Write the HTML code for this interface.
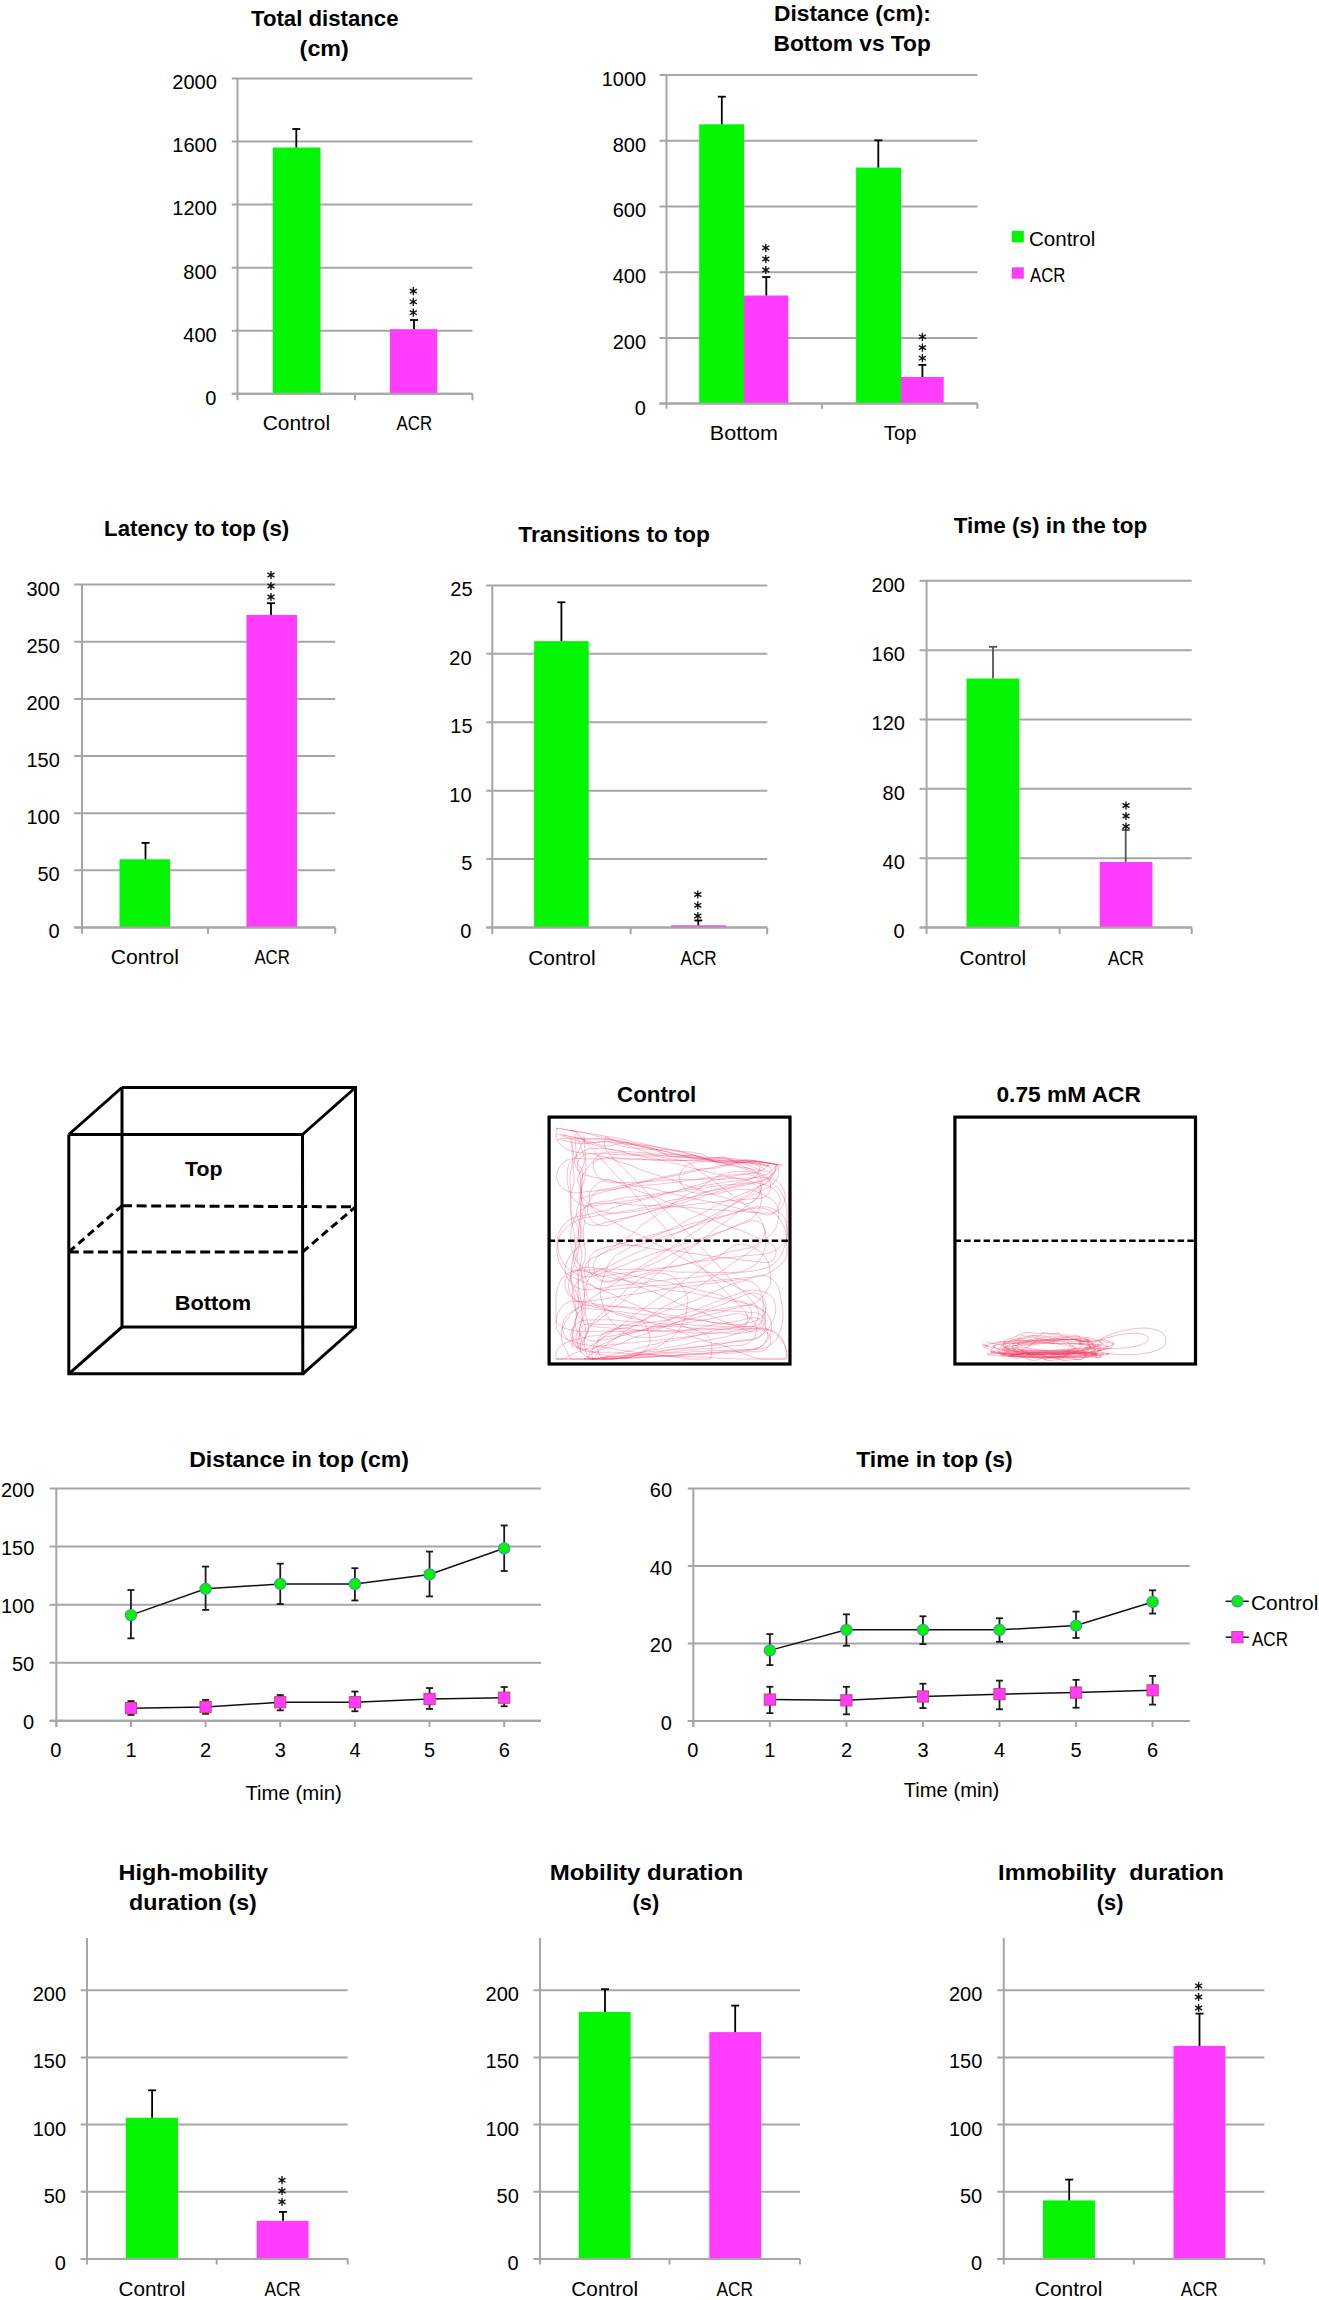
<!DOCTYPE html>
<html><head><meta charset="utf-8"><style>
html,body{margin:0;padding:0;background:#fff;}
svg{display:block;}
text{font-family:"Liberation Sans",sans-serif;white-space:pre;}
</style></head><body>
<svg width="1319" height="2300" viewBox="0 0 1319 2300" xml:space="preserve">
<rect width="1319" height="2300" fill="#fff"/>
<line x1="231.80" y1="393.80" x2="472.40" y2="393.80" stroke="#A6A6A6" stroke-width="2.0" />
<line x1="231.80" y1="330.72" x2="472.40" y2="330.72" stroke="#A6A6A6" stroke-width="2.0" />
<line x1="231.80" y1="267.64" x2="472.40" y2="267.64" stroke="#A6A6A6" stroke-width="2.0" />
<line x1="231.80" y1="204.56" x2="472.40" y2="204.56" stroke="#A6A6A6" stroke-width="2.0" />
<line x1="231.80" y1="141.48" x2="472.40" y2="141.48" stroke="#A6A6A6" stroke-width="2.0" />
<line x1="231.80" y1="78.40" x2="472.40" y2="78.40" stroke="#A6A6A6" stroke-width="2.0" />
<rect x="272.80" y="147.50" width="47.70" height="246.30" fill="#04F504"/>
<rect x="390.00" y="329.20" width="47.30" height="64.60" fill="#FF3CFF"/>
<line x1="237.50" y1="78.40" x2="237.50" y2="400.30" stroke="#A6A6A6" stroke-width="2.0" />
<line x1="231.80" y1="393.80" x2="472.40" y2="393.80" stroke="#A6A6A6" stroke-width="2.0" />
<line x1="355.00" y1="393.80" x2="355.00" y2="400.30" stroke="#A6A6A6" stroke-width="2.0" />
<line x1="472.40" y1="393.80" x2="472.40" y2="400.30" stroke="#A6A6A6" stroke-width="2.0" />
<line x1="296.30" y1="129.00" x2="296.30" y2="147.50" stroke="#000" stroke-width="1.8" />
<line x1="292.30" y1="129.00" x2="300.30" y2="129.00" stroke="#000" stroke-width="1.8" />
<line x1="414.00" y1="320.00" x2="414.00" y2="329.20" stroke="#000" stroke-width="1.8" />
<line x1="410.00" y1="320.00" x2="418.00" y2="320.00" stroke="#000" stroke-width="1.8" />
<path d="M413.30,287.00L413.30,295.20M409.75,289.05L416.85,293.15M416.85,289.05L409.75,293.15" stroke="#111" stroke-width="1.35" fill="none"/>
<circle cx="413.30" cy="291.10" r="1.3" fill="#111"/>
<path d="M413.30,297.70L413.30,305.90M409.75,299.75L416.85,303.85M416.85,299.75L409.75,303.85" stroke="#111" stroke-width="1.35" fill="none"/>
<circle cx="413.30" cy="301.80" r="1.3" fill="#111"/>
<path d="M413.30,308.60L413.30,316.80M409.75,310.65L416.85,314.75M416.85,310.65L409.75,314.75" stroke="#111" stroke-width="1.35" fill="none"/>
<circle cx="413.30" cy="312.70" r="1.3" fill="#111"/>
<line x1="659.50" y1="403.60" x2="977.40" y2="403.60" stroke="#A6A6A6" stroke-width="2.0" />
<line x1="659.50" y1="337.88" x2="977.40" y2="337.88" stroke="#A6A6A6" stroke-width="2.0" />
<line x1="659.50" y1="272.16" x2="977.40" y2="272.16" stroke="#A6A6A6" stroke-width="2.0" />
<line x1="659.50" y1="206.44" x2="977.40" y2="206.44" stroke="#A6A6A6" stroke-width="2.0" />
<line x1="659.50" y1="140.72" x2="977.40" y2="140.72" stroke="#A6A6A6" stroke-width="2.0" />
<line x1="659.50" y1="75.00" x2="977.40" y2="75.00" stroke="#A6A6A6" stroke-width="2.0" />
<rect x="699.20" y="124.30" width="44.80" height="279.30" fill="#04F504"/>
<rect x="744.00" y="295.50" width="44.30" height="108.10" fill="#FF3CFF"/>
<rect x="856.10" y="167.60" width="44.90" height="236.00" fill="#04F504"/>
<rect x="901.00" y="377.00" width="42.70" height="26.60" fill="#FF3CFF"/>
<line x1="666.50" y1="75.00" x2="666.50" y2="408.80" stroke="#A6A6A6" stroke-width="2.0" />
<line x1="659.50" y1="403.60" x2="977.40" y2="403.60" stroke="#A6A6A6" stroke-width="2.0" />
<line x1="822.00" y1="403.60" x2="822.00" y2="408.80" stroke="#A6A6A6" stroke-width="2.0" />
<line x1="977.40" y1="403.60" x2="977.40" y2="408.80" stroke="#A6A6A6" stroke-width="2.0" />
<line x1="721.80" y1="96.70" x2="721.80" y2="124.30" stroke="#000" stroke-width="1.8" />
<line x1="717.80" y1="96.70" x2="725.80" y2="96.70" stroke="#000" stroke-width="1.8" />
<line x1="766.30" y1="277.00" x2="766.30" y2="295.50" stroke="#000" stroke-width="1.8" />
<line x1="762.30" y1="277.00" x2="770.30" y2="277.00" stroke="#000" stroke-width="1.8" />
<path d="M765.80,243.70L765.80,251.90M762.25,245.75L769.35,249.85M769.35,245.75L762.25,249.85" stroke="#111" stroke-width="1.35" fill="none"/>
<circle cx="765.80" cy="247.80" r="1.3" fill="#111"/>
<path d="M765.80,254.90L765.80,263.10M762.25,256.95L769.35,261.05M769.35,256.95L762.25,261.05" stroke="#111" stroke-width="1.35" fill="none"/>
<circle cx="765.80" cy="259.00" r="1.3" fill="#111"/>
<path d="M765.80,265.90L765.80,274.10M762.25,267.95L769.35,272.05M769.35,267.95L762.25,272.05" stroke="#111" stroke-width="1.35" fill="none"/>
<circle cx="765.80" cy="270.00" r="1.3" fill="#111"/>
<line x1="878.30" y1="140.30" x2="878.30" y2="167.60" stroke="#000" stroke-width="1.8" />
<line x1="874.30" y1="140.30" x2="882.30" y2="140.30" stroke="#000" stroke-width="1.8" />
<line x1="922.40" y1="364.90" x2="922.40" y2="377.00" stroke="#000" stroke-width="1.8" />
<line x1="918.40" y1="364.90" x2="926.40" y2="364.90" stroke="#000" stroke-width="1.8" />
<path d="M922.40,332.70L922.40,340.90M918.85,334.75L925.95,338.85M925.95,334.75L918.85,338.85" stroke="#111" stroke-width="1.35" fill="none"/>
<circle cx="922.40" cy="336.80" r="1.3" fill="#111"/>
<path d="M922.40,343.50L922.40,351.70M918.85,345.55L925.95,349.65M925.95,345.55L918.85,349.65" stroke="#111" stroke-width="1.35" fill="none"/>
<circle cx="922.40" cy="347.60" r="1.3" fill="#111"/>
<path d="M922.40,354.10L922.40,362.30M918.85,356.15L925.95,360.25M925.95,356.15L918.85,360.25" stroke="#111" stroke-width="1.35" fill="none"/>
<circle cx="922.40" cy="358.20" r="1.3" fill="#111"/>
<rect x="1011.80" y="230.90" width="12.00" height="11.40" fill="#04F504"/>
<rect x="1011.80" y="267.30" width="12.00" height="11.40" fill="#FF3CFF"/>
<line x1="74.20" y1="927.50" x2="335.20" y2="927.50" stroke="#A6A6A6" stroke-width="2.0" />
<line x1="74.20" y1="870.35" x2="335.20" y2="870.35" stroke="#A6A6A6" stroke-width="2.0" />
<line x1="74.20" y1="813.20" x2="335.20" y2="813.20" stroke="#A6A6A6" stroke-width="2.0" />
<line x1="74.20" y1="756.05" x2="335.20" y2="756.05" stroke="#A6A6A6" stroke-width="2.0" />
<line x1="74.20" y1="698.90" x2="335.20" y2="698.90" stroke="#A6A6A6" stroke-width="2.0" />
<line x1="74.20" y1="641.75" x2="335.20" y2="641.75" stroke="#A6A6A6" stroke-width="2.0" />
<line x1="74.20" y1="584.60" x2="335.20" y2="584.60" stroke="#A6A6A6" stroke-width="2.0" />
<rect x="119.50" y="859.30" width="50.50" height="68.20" fill="#04F504"/>
<rect x="246.50" y="614.90" width="50.50" height="312.60" fill="#FF3CFF"/>
<line x1="82.00" y1="584.60" x2="82.00" y2="933.80" stroke="#A6A6A6" stroke-width="2.0" />
<line x1="74.20" y1="927.50" x2="335.20" y2="927.50" stroke="#A6A6A6" stroke-width="2.0" />
<line x1="208.00" y1="927.50" x2="208.00" y2="933.80" stroke="#A6A6A6" stroke-width="2.0" />
<line x1="335.20" y1="927.50" x2="335.20" y2="933.80" stroke="#A6A6A6" stroke-width="2.0" />
<line x1="145.50" y1="842.90" x2="145.50" y2="859.30" stroke="#000" stroke-width="1.8" />
<line x1="141.50" y1="842.90" x2="149.50" y2="842.90" stroke="#000" stroke-width="1.8" />
<line x1="271.00" y1="603.20" x2="271.00" y2="614.90" stroke="#000" stroke-width="1.8" />
<line x1="267.00" y1="603.20" x2="275.00" y2="603.20" stroke="#000" stroke-width="1.8" />
<path d="M271.00,570.90L271.00,579.10M267.45,572.95L274.55,577.05M274.55,572.95L267.45,577.05" stroke="#111" stroke-width="1.35" fill="none"/>
<circle cx="271.00" cy="575.00" r="1.3" fill="#111"/>
<path d="M271.00,581.90L271.00,590.10M267.45,583.95L274.55,588.05M274.55,583.95L267.45,588.05" stroke="#111" stroke-width="1.35" fill="none"/>
<circle cx="271.00" cy="586.00" r="1.3" fill="#111"/>
<path d="M271.00,592.90L271.00,601.10M267.45,594.95L274.55,599.05M274.55,594.95L267.45,599.05" stroke="#111" stroke-width="1.35" fill="none"/>
<circle cx="271.00" cy="597.00" r="1.3" fill="#111"/>
<line x1="486.30" y1="927.50" x2="767.20" y2="927.50" stroke="#A6A6A6" stroke-width="2.0" />
<line x1="486.30" y1="859.08" x2="767.20" y2="859.08" stroke="#A6A6A6" stroke-width="2.0" />
<line x1="486.30" y1="790.66" x2="767.20" y2="790.66" stroke="#A6A6A6" stroke-width="2.0" />
<line x1="486.30" y1="722.24" x2="767.20" y2="722.24" stroke="#A6A6A6" stroke-width="2.0" />
<line x1="486.30" y1="653.82" x2="767.20" y2="653.82" stroke="#A6A6A6" stroke-width="2.0" />
<line x1="486.30" y1="585.40" x2="767.20" y2="585.40" stroke="#A6A6A6" stroke-width="2.0" />
<rect x="534.10" y="641.10" width="54.60" height="286.40" fill="#04F504"/>
<rect x="671.10" y="925.30" width="55.10" height="2.20" fill="#FF3CFF"/>
<line x1="492.30" y1="585.40" x2="492.30" y2="934.30" stroke="#A6A6A6" stroke-width="2.0" />
<line x1="486.30" y1="927.50" x2="767.20" y2="927.50" stroke="#A6A6A6" stroke-width="2.0" />
<line x1="630.70" y1="927.50" x2="630.70" y2="934.30" stroke="#A6A6A6" stroke-width="2.0" />
<line x1="767.20" y1="927.50" x2="767.20" y2="934.30" stroke="#A6A6A6" stroke-width="2.0" />
<line x1="561.40" y1="602.30" x2="561.40" y2="641.10" stroke="#000" stroke-width="1.8" />
<line x1="557.40" y1="602.30" x2="565.40" y2="602.30" stroke="#000" stroke-width="1.8" />
<line x1="698.30" y1="920.50" x2="698.30" y2="925.30" stroke="#000" stroke-width="1.8" />
<line x1="694.30" y1="920.50" x2="702.30" y2="920.50" stroke="#000" stroke-width="1.8" />
<path d="M697.80,890.40L697.80,898.60M694.25,892.45L701.35,896.55M701.35,892.45L694.25,896.55" stroke="#111" stroke-width="1.35" fill="none"/>
<circle cx="697.80" cy="894.50" r="1.3" fill="#111"/>
<path d="M697.80,901.20L697.80,909.40M694.25,903.25L701.35,907.35M701.35,903.25L694.25,907.35" stroke="#111" stroke-width="1.35" fill="none"/>
<circle cx="697.80" cy="905.30" r="1.3" fill="#111"/>
<path d="M697.80,911.90L697.80,920.10M694.25,913.95L701.35,918.05M701.35,913.95L694.25,918.05" stroke="#111" stroke-width="1.35" fill="none"/>
<circle cx="697.80" cy="916.00" r="1.3" fill="#111"/>
<line x1="919.60" y1="927.50" x2="1191.70" y2="927.50" stroke="#A6A6A6" stroke-width="2.0" />
<line x1="919.60" y1="858.16" x2="1191.70" y2="858.16" stroke="#A6A6A6" stroke-width="2.0" />
<line x1="919.60" y1="788.82" x2="1191.70" y2="788.82" stroke="#A6A6A6" stroke-width="2.0" />
<line x1="919.60" y1="719.48" x2="1191.70" y2="719.48" stroke="#A6A6A6" stroke-width="2.0" />
<line x1="919.60" y1="650.14" x2="1191.70" y2="650.14" stroke="#A6A6A6" stroke-width="2.0" />
<line x1="919.60" y1="580.80" x2="1191.70" y2="580.80" stroke="#A6A6A6" stroke-width="2.0" />
<rect x="966.50" y="678.50" width="52.70" height="249.00" fill="#04F504"/>
<rect x="1099.70" y="862.00" width="52.70" height="65.50" fill="#FF3CFF"/>
<line x1="926.60" y1="580.80" x2="926.60" y2="934.00" stroke="#A6A6A6" stroke-width="2.0" />
<line x1="919.60" y1="927.50" x2="1191.70" y2="927.50" stroke="#A6A6A6" stroke-width="2.0" />
<line x1="1059.60" y1="927.50" x2="1059.60" y2="934.00" stroke="#A6A6A6" stroke-width="2.0" />
<line x1="1191.70" y1="927.50" x2="1191.70" y2="934.00" stroke="#A6A6A6" stroke-width="2.0" />
<line x1="993.00" y1="646.80" x2="993.00" y2="678.50" stroke="#555" stroke-width="1.8" />
<line x1="989.00" y1="646.80" x2="997.00" y2="646.80" stroke="#555" stroke-width="1.8" />
<line x1="1125.70" y1="830.00" x2="1125.70" y2="862.00" stroke="#555" stroke-width="1.8" />
<line x1="1121.70" y1="830.00" x2="1129.70" y2="830.00" stroke="#555" stroke-width="1.8" />
<path d="M1126.00,801.40L1126.00,809.60M1122.45,803.45L1129.55,807.55M1129.55,803.45L1122.45,807.55" stroke="#111" stroke-width="1.35" fill="none"/>
<circle cx="1126.00" cy="805.50" r="1.3" fill="#111"/>
<path d="M1126.00,811.90L1126.00,820.10M1122.45,813.95L1129.55,818.05M1129.55,813.95L1122.45,818.05" stroke="#111" stroke-width="1.35" fill="none"/>
<circle cx="1126.00" cy="816.00" r="1.3" fill="#111"/>
<path d="M1126.00,822.40L1126.00,830.60M1122.45,824.45L1129.55,828.55M1129.55,824.45L1122.45,828.55" stroke="#111" stroke-width="1.35" fill="none"/>
<circle cx="1126.00" cy="826.50" r="1.3" fill="#111"/>
<line x1="80.70" y1="2258.90" x2="347.70" y2="2258.90" stroke="#A6A6A6" stroke-width="2.0" />
<line x1="80.70" y1="2191.75" x2="347.70" y2="2191.75" stroke="#A6A6A6" stroke-width="2.0" />
<line x1="80.70" y1="2124.60" x2="347.70" y2="2124.60" stroke="#A6A6A6" stroke-width="2.0" />
<line x1="80.70" y1="2057.45" x2="347.70" y2="2057.45" stroke="#A6A6A6" stroke-width="2.0" />
<line x1="80.70" y1="1990.30" x2="347.70" y2="1990.30" stroke="#A6A6A6" stroke-width="2.0" />
<rect x="125.90" y="2117.70" width="52.10" height="141.20" fill="#04F504"/>
<rect x="256.70" y="2220.80" width="51.90" height="38.10" fill="#FF3CFF"/>
<line x1="87.00" y1="1937.90" x2="87.00" y2="2264.60" stroke="#A6A6A6" stroke-width="2.0" />
<line x1="80.70" y1="2258.90" x2="347.70" y2="2258.90" stroke="#A6A6A6" stroke-width="2.0" />
<line x1="216.70" y1="2258.90" x2="216.70" y2="2264.60" stroke="#A6A6A6" stroke-width="2.0" />
<line x1="347.70" y1="2258.90" x2="347.70" y2="2264.60" stroke="#A6A6A6" stroke-width="2.0" />
<line x1="152.10" y1="2090.30" x2="152.10" y2="2117.70" stroke="#000" stroke-width="1.8" />
<line x1="148.10" y1="2090.30" x2="156.10" y2="2090.30" stroke="#000" stroke-width="1.8" />
<line x1="283.00" y1="2211.90" x2="283.00" y2="2220.80" stroke="#000" stroke-width="1.8" />
<line x1="279.00" y1="2211.90" x2="287.00" y2="2211.90" stroke="#000" stroke-width="1.8" />
<path d="M282.00,2176.10L282.00,2184.30M278.45,2178.15L285.55,2182.25M285.55,2178.15L278.45,2182.25" stroke="#111" stroke-width="1.35" fill="none"/>
<circle cx="282.00" cy="2180.20" r="1.3" fill="#111"/>
<path d="M282.00,2186.90L282.00,2195.10M278.45,2188.95L285.55,2193.05M285.55,2188.95L278.45,2193.05" stroke="#111" stroke-width="1.35" fill="none"/>
<circle cx="282.00" cy="2191.00" r="1.3" fill="#111"/>
<path d="M282.00,2197.70L282.00,2205.90M278.45,2199.75L285.55,2203.85M285.55,2199.75L278.45,2203.85" stroke="#111" stroke-width="1.35" fill="none"/>
<circle cx="282.00" cy="2201.80" r="1.3" fill="#111"/>
<line x1="533.50" y1="2258.90" x2="800.00" y2="2258.90" stroke="#A6A6A6" stroke-width="2.0" />
<line x1="533.50" y1="2191.75" x2="800.00" y2="2191.75" stroke="#A6A6A6" stroke-width="2.0" />
<line x1="533.50" y1="2124.60" x2="800.00" y2="2124.60" stroke="#A6A6A6" stroke-width="2.0" />
<line x1="533.50" y1="2057.45" x2="800.00" y2="2057.45" stroke="#A6A6A6" stroke-width="2.0" />
<line x1="533.50" y1="1990.30" x2="800.00" y2="1990.30" stroke="#A6A6A6" stroke-width="2.0" />
<rect x="578.80" y="2011.90" width="51.80" height="247.00" fill="#04F504"/>
<rect x="709.30" y="2032.10" width="51.90" height="226.80" fill="#FF3CFF"/>
<line x1="540.00" y1="1937.90" x2="540.00" y2="2264.60" stroke="#A6A6A6" stroke-width="2.0" />
<line x1="533.50" y1="2258.90" x2="800.00" y2="2258.90" stroke="#A6A6A6" stroke-width="2.0" />
<line x1="669.50" y1="2258.90" x2="669.50" y2="2264.60" stroke="#A6A6A6" stroke-width="2.0" />
<line x1="800.00" y1="2258.90" x2="800.00" y2="2264.60" stroke="#A6A6A6" stroke-width="2.0" />
<line x1="605.00" y1="1989.20" x2="605.00" y2="2011.90" stroke="#000" stroke-width="1.8" />
<line x1="601.00" y1="1989.20" x2="609.00" y2="1989.20" stroke="#000" stroke-width="1.8" />
<line x1="735.20" y1="2005.60" x2="735.20" y2="2032.10" stroke="#000" stroke-width="1.8" />
<line x1="731.20" y1="2005.60" x2="739.20" y2="2005.60" stroke="#000" stroke-width="1.8" />
<line x1="997.20" y1="2258.90" x2="1264.30" y2="2258.90" stroke="#A6A6A6" stroke-width="2.0" />
<line x1="997.20" y1="2191.75" x2="1264.30" y2="2191.75" stroke="#A6A6A6" stroke-width="2.0" />
<line x1="997.20" y1="2124.60" x2="1264.30" y2="2124.60" stroke="#A6A6A6" stroke-width="2.0" />
<line x1="997.20" y1="2057.45" x2="1264.30" y2="2057.45" stroke="#A6A6A6" stroke-width="2.0" />
<line x1="997.20" y1="1990.30" x2="1264.30" y2="1990.30" stroke="#A6A6A6" stroke-width="2.0" />
<rect x="1043.00" y="2200.40" width="51.90" height="58.50" fill="#04F504"/>
<rect x="1173.50" y="2045.90" width="51.90" height="213.00" fill="#FF3CFF"/>
<line x1="1003.80" y1="1937.90" x2="1003.80" y2="2264.60" stroke="#A6A6A6" stroke-width="2.0" />
<line x1="997.20" y1="2258.90" x2="1264.30" y2="2258.90" stroke="#A6A6A6" stroke-width="2.0" />
<line x1="1133.80" y1="2258.90" x2="1133.80" y2="2264.60" stroke="#A6A6A6" stroke-width="2.0" />
<line x1="1264.30" y1="2258.90" x2="1264.30" y2="2264.60" stroke="#A6A6A6" stroke-width="2.0" />
<line x1="1069.20" y1="2179.60" x2="1069.20" y2="2200.40" stroke="#000" stroke-width="1.8" />
<line x1="1065.20" y1="2179.60" x2="1073.20" y2="2179.60" stroke="#000" stroke-width="1.8" />
<line x1="1199.50" y1="2013.60" x2="1199.50" y2="2045.90" stroke="#000" stroke-width="1.8" />
<line x1="1195.50" y1="2013.60" x2="1203.50" y2="2013.60" stroke="#000" stroke-width="1.8" />
<path d="M1198.60,1981.70L1198.60,1989.90M1195.05,1983.75L1202.15,1987.85M1202.15,1983.75L1195.05,1987.85" stroke="#111" stroke-width="1.35" fill="none"/>
<circle cx="1198.60" cy="1985.80" r="1.3" fill="#111"/>
<path d="M1198.60,1992.90L1198.60,2001.10M1195.05,1994.95L1202.15,1999.05M1202.15,1994.95L1195.05,1999.05" stroke="#111" stroke-width="1.35" fill="none"/>
<circle cx="1198.60" cy="1997.00" r="1.3" fill="#111"/>
<path d="M1198.60,2003.90L1198.60,2012.10M1195.05,2005.95L1202.15,2010.05M1202.15,2005.95L1195.05,2010.05" stroke="#111" stroke-width="1.35" fill="none"/>
<circle cx="1198.60" cy="2008.00" r="1.3" fill="#111"/>
<line x1="49.50" y1="1720.80" x2="541.00" y2="1720.80" stroke="#A6A6A6" stroke-width="2.0" />
<line x1="49.50" y1="1662.73" x2="541.00" y2="1662.73" stroke="#A6A6A6" stroke-width="2.0" />
<line x1="49.50" y1="1604.66" x2="541.00" y2="1604.66" stroke="#A6A6A6" stroke-width="2.0" />
<line x1="49.50" y1="1546.59" x2="541.00" y2="1546.59" stroke="#A6A6A6" stroke-width="2.0" />
<line x1="49.50" y1="1488.52" x2="541.00" y2="1488.52" stroke="#A6A6A6" stroke-width="2.0" />
<line x1="56.30" y1="1488.50" x2="56.30" y2="1727.00" stroke="#A6A6A6" stroke-width="2.0" />
<line x1="49.50" y1="1720.80" x2="541.00" y2="1720.80" stroke="#A6A6A6" stroke-width="2.0" />
<line x1="56.30" y1="1720.80" x2="56.30" y2="1727.00" stroke="#A6A6A6" stroke-width="2.0" />
<line x1="130.95" y1="1720.80" x2="130.95" y2="1727.00" stroke="#A6A6A6" stroke-width="2.0" />
<line x1="205.60" y1="1720.80" x2="205.60" y2="1727.00" stroke="#A6A6A6" stroke-width="2.0" />
<line x1="280.25" y1="1720.80" x2="280.25" y2="1727.00" stroke="#A6A6A6" stroke-width="2.0" />
<line x1="354.90" y1="1720.80" x2="354.90" y2="1727.00" stroke="#A6A6A6" stroke-width="2.0" />
<line x1="429.55" y1="1720.80" x2="429.55" y2="1727.00" stroke="#A6A6A6" stroke-width="2.0" />
<line x1="504.20" y1="1720.80" x2="504.20" y2="1727.00" stroke="#A6A6A6" stroke-width="2.0" />
<line x1="130.95" y1="1590.03" x2="130.95" y2="1638.34" stroke="#1a1a1a" stroke-width="1.8" />
<line x1="127.45" y1="1590.03" x2="134.45" y2="1590.03" stroke="#1a1a1a" stroke-width="1.8" />
<line x1="127.45" y1="1638.34" x2="134.45" y2="1638.34" stroke="#1a1a1a" stroke-width="1.8" />
<line x1="205.60" y1="1566.57" x2="205.60" y2="1609.89" stroke="#1a1a1a" stroke-width="1.8" />
<line x1="202.10" y1="1566.57" x2="209.10" y2="1566.57" stroke="#1a1a1a" stroke-width="1.8" />
<line x1="202.10" y1="1609.89" x2="209.10" y2="1609.89" stroke="#1a1a1a" stroke-width="1.8" />
<line x1="280.25" y1="1563.66" x2="280.25" y2="1603.96" stroke="#1a1a1a" stroke-width="1.8" />
<line x1="276.75" y1="1563.66" x2="283.75" y2="1563.66" stroke="#1a1a1a" stroke-width="1.8" />
<line x1="276.75" y1="1603.96" x2="283.75" y2="1603.96" stroke="#1a1a1a" stroke-width="1.8" />
<line x1="354.90" y1="1568.19" x2="354.90" y2="1600.48" stroke="#1a1a1a" stroke-width="1.8" />
<line x1="351.40" y1="1568.19" x2="358.40" y2="1568.19" stroke="#1a1a1a" stroke-width="1.8" />
<line x1="351.40" y1="1600.48" x2="358.40" y2="1600.48" stroke="#1a1a1a" stroke-width="1.8" />
<line x1="429.55" y1="1551.58" x2="429.55" y2="1596.41" stroke="#1a1a1a" stroke-width="1.8" />
<line x1="426.05" y1="1551.58" x2="433.05" y2="1551.58" stroke="#1a1a1a" stroke-width="1.8" />
<line x1="426.05" y1="1596.41" x2="433.05" y2="1596.41" stroke="#1a1a1a" stroke-width="1.8" />
<line x1="504.20" y1="1525.45" x2="504.20" y2="1570.98" stroke="#1a1a1a" stroke-width="1.8" />
<line x1="500.70" y1="1525.45" x2="507.70" y2="1525.45" stroke="#1a1a1a" stroke-width="1.8" />
<line x1="500.70" y1="1570.98" x2="507.70" y2="1570.98" stroke="#1a1a1a" stroke-width="1.8" />
<path d="M130.95,1615.11 L205.60,1588.86 L280.25,1583.99 L354.90,1583.99 L429.55,1574.46 L504.20,1548.33" stroke="#111" stroke-width="1.5" fill="none"/>
<circle cx="130.95" cy="1615.11" r="5.6" fill="#04F504" stroke="#4a90b8" stroke-width="1.2"/>
<circle cx="205.60" cy="1588.86" r="5.6" fill="#04F504" stroke="#4a90b8" stroke-width="1.2"/>
<circle cx="280.25" cy="1583.99" r="5.6" fill="#04F504" stroke="#4a90b8" stroke-width="1.2"/>
<circle cx="354.90" cy="1583.99" r="5.6" fill="#04F504" stroke="#4a90b8" stroke-width="1.2"/>
<circle cx="429.55" cy="1574.46" r="5.6" fill="#04F504" stroke="#4a90b8" stroke-width="1.2"/>
<circle cx="504.20" cy="1548.33" r="5.6" fill="#04F504" stroke="#4a90b8" stroke-width="1.2"/>
<line x1="130.95" y1="1701.06" x2="130.95" y2="1714.99" stroke="#1a1a1a" stroke-width="1.8" />
<line x1="127.45" y1="1701.06" x2="134.45" y2="1701.06" stroke="#1a1a1a" stroke-width="1.8" />
<line x1="127.45" y1="1714.99" x2="134.45" y2="1714.99" stroke="#1a1a1a" stroke-width="1.8" />
<line x1="205.60" y1="1699.89" x2="205.60" y2="1713.83" stroke="#1a1a1a" stroke-width="1.8" />
<line x1="202.10" y1="1699.89" x2="209.10" y2="1699.89" stroke="#1a1a1a" stroke-width="1.8" />
<line x1="202.10" y1="1713.83" x2="209.10" y2="1713.83" stroke="#1a1a1a" stroke-width="1.8" />
<line x1="280.25" y1="1695.02" x2="280.25" y2="1710.35" stroke="#1a1a1a" stroke-width="1.8" />
<line x1="276.75" y1="1695.02" x2="283.75" y2="1695.02" stroke="#1a1a1a" stroke-width="1.8" />
<line x1="276.75" y1="1710.35" x2="283.75" y2="1710.35" stroke="#1a1a1a" stroke-width="1.8" />
<line x1="354.90" y1="1691.53" x2="354.90" y2="1711.28" stroke="#1a1a1a" stroke-width="1.8" />
<line x1="351.40" y1="1691.53" x2="358.40" y2="1691.53" stroke="#1a1a1a" stroke-width="1.8" />
<line x1="351.40" y1="1711.28" x2="358.40" y2="1711.28" stroke="#1a1a1a" stroke-width="1.8" />
<line x1="429.55" y1="1688.05" x2="429.55" y2="1708.95" stroke="#1a1a1a" stroke-width="1.8" />
<line x1="426.05" y1="1688.05" x2="433.05" y2="1688.05" stroke="#1a1a1a" stroke-width="1.8" />
<line x1="426.05" y1="1708.95" x2="433.05" y2="1708.95" stroke="#1a1a1a" stroke-width="1.8" />
<line x1="504.20" y1="1687.00" x2="504.20" y2="1706.28" stroke="#1a1a1a" stroke-width="1.8" />
<line x1="500.70" y1="1687.00" x2="507.70" y2="1687.00" stroke="#1a1a1a" stroke-width="1.8" />
<line x1="500.70" y1="1706.28" x2="507.70" y2="1706.28" stroke="#1a1a1a" stroke-width="1.8" />
<path d="M130.95,1708.14 L205.60,1707.10 L280.25,1702.22 L354.90,1702.22 L429.55,1698.97 L504.20,1697.69" stroke="#111" stroke-width="1.5" fill="none"/>
<rect x="125.35" y="1702.54" width="11.2" height="11.2" fill="#FF3CFF" stroke="#d04070" stroke-width="1"/>
<rect x="200.00" y="1701.50" width="11.2" height="11.2" fill="#FF3CFF" stroke="#d04070" stroke-width="1"/>
<rect x="274.65" y="1696.62" width="11.2" height="11.2" fill="#FF3CFF" stroke="#d04070" stroke-width="1"/>
<rect x="349.30" y="1696.62" width="11.2" height="11.2" fill="#FF3CFF" stroke="#d04070" stroke-width="1"/>
<rect x="423.95" y="1693.37" width="11.2" height="11.2" fill="#FF3CFF" stroke="#d04070" stroke-width="1"/>
<rect x="498.60" y="1692.09" width="11.2" height="11.2" fill="#FF3CFF" stroke="#d04070" stroke-width="1"/>
<line x1="687.80" y1="1720.90" x2="1189.80" y2="1720.90" stroke="#A6A6A6" stroke-width="2.0" />
<line x1="687.80" y1="1643.40" x2="1189.80" y2="1643.40" stroke="#A6A6A6" stroke-width="2.0" />
<line x1="687.80" y1="1565.90" x2="1189.80" y2="1565.90" stroke="#A6A6A6" stroke-width="2.0" />
<line x1="687.80" y1="1488.40" x2="1189.80" y2="1488.40" stroke="#A6A6A6" stroke-width="2.0" />
<line x1="693.30" y1="1488.40" x2="693.30" y2="1727.00" stroke="#A6A6A6" stroke-width="2.0" />
<line x1="687.80" y1="1720.90" x2="1189.80" y2="1720.90" stroke="#A6A6A6" stroke-width="2.0" />
<line x1="693.30" y1="1720.90" x2="693.30" y2="1727.00" stroke="#A6A6A6" stroke-width="2.0" />
<line x1="769.85" y1="1720.90" x2="769.85" y2="1727.00" stroke="#A6A6A6" stroke-width="2.0" />
<line x1="846.40" y1="1720.90" x2="846.40" y2="1727.00" stroke="#A6A6A6" stroke-width="2.0" />
<line x1="922.95" y1="1720.90" x2="922.95" y2="1727.00" stroke="#A6A6A6" stroke-width="2.0" />
<line x1="999.50" y1="1720.90" x2="999.50" y2="1727.00" stroke="#A6A6A6" stroke-width="2.0" />
<line x1="1076.05" y1="1720.90" x2="1076.05" y2="1727.00" stroke="#A6A6A6" stroke-width="2.0" />
<line x1="1152.60" y1="1720.90" x2="1152.60" y2="1727.00" stroke="#A6A6A6" stroke-width="2.0" />
<line x1="769.85" y1="1634.10" x2="769.85" y2="1665.10" stroke="#1a1a1a" stroke-width="1.8" />
<line x1="766.35" y1="1634.10" x2="773.35" y2="1634.10" stroke="#1a1a1a" stroke-width="1.8" />
<line x1="766.35" y1="1665.10" x2="773.35" y2="1665.10" stroke="#1a1a1a" stroke-width="1.8" />
<line x1="846.40" y1="1614.34" x2="846.40" y2="1645.73" stroke="#1a1a1a" stroke-width="1.8" />
<line x1="842.90" y1="1614.34" x2="849.90" y2="1614.34" stroke="#1a1a1a" stroke-width="1.8" />
<line x1="842.90" y1="1645.73" x2="849.90" y2="1645.73" stroke="#1a1a1a" stroke-width="1.8" />
<line x1="922.95" y1="1616.28" x2="922.95" y2="1644.18" stroke="#1a1a1a" stroke-width="1.8" />
<line x1="919.45" y1="1616.28" x2="926.45" y2="1616.28" stroke="#1a1a1a" stroke-width="1.8" />
<line x1="919.45" y1="1644.18" x2="926.45" y2="1644.18" stroke="#1a1a1a" stroke-width="1.8" />
<line x1="999.50" y1="1618.21" x2="999.50" y2="1641.85" stroke="#1a1a1a" stroke-width="1.8" />
<line x1="996.00" y1="1618.21" x2="1003.00" y2="1618.21" stroke="#1a1a1a" stroke-width="1.8" />
<line x1="996.00" y1="1641.85" x2="1003.00" y2="1641.85" stroke="#1a1a1a" stroke-width="1.8" />
<line x1="1076.05" y1="1611.62" x2="1076.05" y2="1637.98" stroke="#1a1a1a" stroke-width="1.8" />
<line x1="1072.55" y1="1611.62" x2="1079.55" y2="1611.62" stroke="#1a1a1a" stroke-width="1.8" />
<line x1="1072.55" y1="1637.98" x2="1079.55" y2="1637.98" stroke="#1a1a1a" stroke-width="1.8" />
<line x1="1152.60" y1="1590.31" x2="1152.60" y2="1613.56" stroke="#1a1a1a" stroke-width="1.8" />
<line x1="1149.10" y1="1590.31" x2="1156.10" y2="1590.31" stroke="#1a1a1a" stroke-width="1.8" />
<line x1="1149.10" y1="1613.56" x2="1156.10" y2="1613.56" stroke="#1a1a1a" stroke-width="1.8" />
<path d="M769.85,1650.38 L846.40,1629.84 L922.95,1629.84 L999.50,1629.84 L1076.05,1625.58 L1152.60,1601.94" stroke="#111" stroke-width="1.5" fill="none"/>
<circle cx="769.85" cy="1650.38" r="5.6" fill="#04F504" stroke="#4a90b8" stroke-width="1.2"/>
<circle cx="846.40" cy="1629.84" r="5.6" fill="#04F504" stroke="#4a90b8" stroke-width="1.2"/>
<circle cx="922.95" cy="1629.84" r="5.6" fill="#04F504" stroke="#4a90b8" stroke-width="1.2"/>
<circle cx="999.50" cy="1629.84" r="5.6" fill="#04F504" stroke="#4a90b8" stroke-width="1.2"/>
<circle cx="1076.05" cy="1625.58" r="5.6" fill="#04F504" stroke="#4a90b8" stroke-width="1.2"/>
<circle cx="1152.60" cy="1601.94" r="5.6" fill="#04F504" stroke="#4a90b8" stroke-width="1.2"/>
<line x1="769.85" y1="1686.80" x2="769.85" y2="1713.15" stroke="#1a1a1a" stroke-width="1.8" />
<line x1="766.35" y1="1686.80" x2="773.35" y2="1686.80" stroke="#1a1a1a" stroke-width="1.8" />
<line x1="766.35" y1="1713.15" x2="773.35" y2="1713.15" stroke="#1a1a1a" stroke-width="1.8" />
<line x1="846.40" y1="1686.80" x2="846.40" y2="1714.31" stroke="#1a1a1a" stroke-width="1.8" />
<line x1="842.90" y1="1686.80" x2="849.90" y2="1686.80" stroke="#1a1a1a" stroke-width="1.8" />
<line x1="842.90" y1="1714.31" x2="849.90" y2="1714.31" stroke="#1a1a1a" stroke-width="1.8" />
<line x1="922.95" y1="1683.70" x2="922.95" y2="1708.11" stroke="#1a1a1a" stroke-width="1.8" />
<line x1="919.45" y1="1683.70" x2="926.45" y2="1683.70" stroke="#1a1a1a" stroke-width="1.8" />
<line x1="919.45" y1="1708.11" x2="926.45" y2="1708.11" stroke="#1a1a1a" stroke-width="1.8" />
<line x1="999.50" y1="1680.60" x2="999.50" y2="1709.28" stroke="#1a1a1a" stroke-width="1.8" />
<line x1="996.00" y1="1680.60" x2="1003.00" y2="1680.60" stroke="#1a1a1a" stroke-width="1.8" />
<line x1="996.00" y1="1709.28" x2="1003.00" y2="1709.28" stroke="#1a1a1a" stroke-width="1.8" />
<line x1="1076.05" y1="1679.83" x2="1076.05" y2="1707.73" stroke="#1a1a1a" stroke-width="1.8" />
<line x1="1072.55" y1="1679.83" x2="1079.55" y2="1679.83" stroke="#1a1a1a" stroke-width="1.8" />
<line x1="1072.55" y1="1707.73" x2="1079.55" y2="1707.73" stroke="#1a1a1a" stroke-width="1.8" />
<line x1="1152.60" y1="1675.95" x2="1152.60" y2="1704.62" stroke="#1a1a1a" stroke-width="1.8" />
<line x1="1149.10" y1="1675.95" x2="1156.10" y2="1675.95" stroke="#1a1a1a" stroke-width="1.8" />
<line x1="1149.10" y1="1704.62" x2="1156.10" y2="1704.62" stroke="#1a1a1a" stroke-width="1.8" />
<path d="M769.85,1699.59 L846.40,1700.36 L922.95,1696.49 L999.50,1694.16 L1076.05,1692.61 L1152.60,1690.29" stroke="#111" stroke-width="1.5" fill="none"/>
<rect x="764.25" y="1693.99" width="11.2" height="11.2" fill="#FF3CFF" stroke="#d04070" stroke-width="1"/>
<rect x="840.80" y="1694.76" width="11.2" height="11.2" fill="#FF3CFF" stroke="#d04070" stroke-width="1"/>
<rect x="917.35" y="1690.89" width="11.2" height="11.2" fill="#FF3CFF" stroke="#d04070" stroke-width="1"/>
<rect x="993.90" y="1688.56" width="11.2" height="11.2" fill="#FF3CFF" stroke="#d04070" stroke-width="1"/>
<rect x="1070.45" y="1687.01" width="11.2" height="11.2" fill="#FF3CFF" stroke="#d04070" stroke-width="1"/>
<rect x="1147.00" y="1684.69" width="11.2" height="11.2" fill="#FF3CFF" stroke="#d04070" stroke-width="1"/>
<line x1="1225.60" y1="1601.30" x2="1248.80" y2="1601.30" stroke="#111" stroke-width="1.5" />
<circle cx="1237.4" cy="1601.3" r="5.6" fill="#04F504" stroke="#4a90b8" stroke-width="1.2"/>
<line x1="1225.60" y1="1637.20" x2="1248.80" y2="1637.20" stroke="#111" stroke-width="1.5" />
<rect x="1231.8000000000002" y="1631.6000000000001" width="11.2" height="11.2" fill="#FF3CFF" stroke="#d04070" stroke-width="1"/>
<path d="M122.00,1087.50 L355.50,1087.50 L355.50,1327.00 L122.00,1327.00 L122.00,1087.50" stroke="#000" stroke-width="3.0" fill="none" stroke-linejoin="miter"/>
<path d="M68.80,1134.50 L302.50,1134.50 L302.80,1373.80 L68.80,1373.80 L68.80,1134.50" stroke="#000" stroke-width="3.0" fill="none" stroke-linejoin="miter"/>
<path d="M68.80,1134.50 L122.00,1087.50" stroke="#000" stroke-width="3.0" fill="none" stroke-linejoin="miter"/>
<path d="M302.50,1134.50 L355.50,1087.50" stroke="#000" stroke-width="3.0" fill="none" stroke-linejoin="miter"/>
<path d="M302.80,1373.80 L355.50,1327.00" stroke="#000" stroke-width="3.0" fill="none" stroke-linejoin="miter"/>
<path d="M68.80,1373.80 L122.00,1327.00" stroke="#000" stroke-width="3.0" fill="none" stroke-linejoin="miter"/>
<path d="M122.00,1205.80 L355.50,1206.80" stroke="#000" stroke-width="3.0" fill="none" stroke-linejoin="miter" stroke-dasharray="10,4.6"/>
<path d="M68.80,1252.00 L302.50,1252.00" stroke="#000" stroke-width="3.0" fill="none" stroke-linejoin="miter" stroke-dasharray="10,4.6"/>
<path d="M68.80,1252.00 L122.00,1205.80" stroke="#000" stroke-width="3.0" fill="none" stroke-linejoin="miter" stroke-dasharray="8,4.6"/>
<path d="M302.50,1252.00 L355.50,1206.80" stroke="#000" stroke-width="3.0" fill="none" stroke-linejoin="miter" stroke-dasharray="8,4.6"/>
<defs><clipPath id="cb"><rect x="551" y="1119" width="237" height="243"/></clipPath><clipPath id="ab"><rect x="956.5" y="1119" width="237" height="243"/></clipPath></defs>
<path d="M558.0,1130.0 556.0,1128.0 556.0,1127.9 556.1,1128.0 557.3,1128.2 559.5,1128.6 563.3,1129.2 568.0,1130.0 573.0,1130.8 577.4,1133.0 580.8,1136.7 584.4,1140.1 587.7,1143.8 591.0,1147.6 594.5,1151.2 597.7,1155.0 601.0,1158.7 604.4,1162.4 607.8,1166.1 611.1,1169.9 614.4,1173.6 617.9,1177.1 621.4,1180.7 624.9,1184.3 628.5,1187.8 632.0,1191.3 635.3,1195.1 638.6,1198.9 641.8,1202.7 645.3,1206.2 648.6,1210.0 651.8,1213.8 655.3,1217.4 658.4,1221.3 662.2,1224.6 665.4,1228.4 668.8,1232.0 672.2,1235.7 675.5,1239.5 678.9,1243.1 682.1,1246.9 685.7,1250.4 689.0,1254.1 692.3,1257.8 695.7,1261.6 699.2,1265.1 702.6,1268.8 705.9,1272.5 709.6,1275.9 713.1,1279.5 716.6,1283.0 720.2,1286.4 723.9,1289.8 727.5,1293.3 731.0,1296.9 734.5,1300.4 738.0,1304.0 741.3,1307.7 744.9,1311.2 747.4,1315.5 747.8,1320.4 746.0,1325.1 742.9,1328.9 738.4,1331.0 733.4,1331.3 728.4,1331.9 723.4,1332.3 718.5,1332.6 713.5,1333.2 708.5,1333.5 703.5,1334.1 698.6,1334.8 693.7,1335.7 688.8,1336.6 683.8,1337.2 678.9,1337.7 673.9,1338.4 669.0,1339.0 664.0,1339.7 659.0,1340.1 654.1,1340.6 649.1,1341.0 644.1,1341.5 639.2,1342.0 634.2,1342.8 629.2,1342.8 624.3,1343.5 619.3,1344.1 614.3,1344.3 609.3,1344.9 604.4,1345.6 599.4,1346.1 594.7,1347.3 590.9,1350.5 589.0,1355.1 588.9,1359.0 591.2,1359.0 595.1,1359.0 599.8,1359.0 604.8,1359.0 609.8,1358.8 614.8,1358.5 619.8,1358.0 624.8,1357.7 629.8,1357.3 634.8,1357.2 639.7,1356.8 644.7,1356.7 649.7,1356.6 654.7,1356.9 659.6,1356.1 664.6,1355.8 669.6,1355.6 674.6,1355.3 679.6,1354.9 684.5,1354.3 689.5,1354.1 694.5,1354.1 699.4,1353.5 704.4,1353.2 709.4,1352.7 714.4,1352.2 719.4,1352.0 724.3,1351.5 729.3,1351.2 734.3,1351.0 739.3,1350.7 744.2,1350.1 749.2,1349.5 754.1,1348.8 759.0,1347.7 763.2,1345.0 766.2,1341.0 767.9,1336.4 767.3,1331.4 765.6,1326.7 763.1,1322.4 759.6,1319.0 754.8,1317.6 749.8,1317.9 744.9,1319.2 740.2,1320.6 735.2,1321.5 730.3,1322.1 725.4,1322.9 720.5,1323.8 715.5,1324.2 710.7,1325.6 705.8,1326.5 700.9,1327.6 696.1,1328.9 691.1,1329.6 686.2,1330.4 681.3,1331.1 676.4,1332.4 671.6,1333.6 666.7,1334.8 661.9,1335.9 656.9,1336.7 652.0,1337.2 647.0,1337.5 642.0,1337.3 637.0,1337.4 632.1,1336.5 627.5,1334.5 623.1,1332.2 619.3,1328.9 615.5,1325.6 611.9,1322.1 608.8,1318.3 606.3,1313.9 604.3,1309.4 602.9,1304.6 601.3,1299.8 600.3,1294.9 600.3,1290.0 601.1,1285.0 602.5,1280.2 604.0,1275.5 605.7,1270.8 607.5,1266.1 610.0,1261.8 613.1,1257.9 616.9,1254.6 621.1,1252.0 625.6,1249.7 630.0,1247.3 634.5,1245.2 639.0,1243.0 643.5,1240.7 648.0,1238.8 652.7,1237.0 657.3,1235.1 661.8,1233.0 666.3,1230.8 671.0,1229.0 675.4,1226.7 680.0,1224.7 684.2,1222.0 688.6,1219.5 693.2,1217.7 697.7,1215.4 702.2,1213.3 706.7,1211.1 711.0,1208.6 715.2,1206.0 719.7,1203.8 724.2,1201.5 728.9,1200.0 733.6,1198.1 738.1,1196.0 742.6,1193.9 747.3,1192.0 751.8,1190.1 756.3,1187.8 760.8,1185.5 765.5,1183.9 769.3,1180.6 771.8,1176.4 772.0,1171.4 769.4,1167.2 765.2,1164.5 760.3,1163.6 755.3,1163.3 750.4,1163.0 745.4,1162.5 740.4,1162.1 735.4,1161.9 730.5,1161.2 725.5,1160.9 720.6,1160.4 715.6,1160.0 710.6,1159.4 705.6,1159.1 700.6,1159.1 695.7,1158.5 690.7,1158.0 685.8,1157.5 680.8,1157.2 675.8,1156.5 670.8,1156.4 665.8,1156.2 660.8,1155.9 655.8,1155.9 650.9,1156.2 645.9,1156.0 640.9,1155.6 635.9,1155.3 630.9,1155.1 626.0,1154.7 621.0,1154.6 616.0,1154.7 611.0,1154.3 606.0,1153.9 601.0,1153.6 596.0,1153.7 591.0,1153.3 586.0,1153.1 581.0,1152.8 576.1,1152.2 571.2,1151.0 566.7,1148.9 562.5,1146.2 558.9,1142.8 556.2,1138.6 556.0,1133.9 556.4,1129.0 558.0,1128.3 559.8,1128.6 562.6,1129.1 566.4,1129.7 570.6,1130.4 575.2,1131.2 580.1,1132.0 585.1,1132.8 589.9,1134.0 594.6,1135.6 599.5,1136.9 604.4,1137.5 609.2,1138.9 614.2,1139.7 619.1,1140.6 623.9,1141.7 628.8,1142.9 633.6,1144.3 638.5,1145.4 643.3,1146.7 648.2,1147.5 653.0,1148.6 657.9,1149.9 662.8,1150.9 667.7,1151.8 672.4,1153.4 677.3,1154.4 682.2,1155.4 687.1,1156.2 692.1,1156.8 697.0,1157.5 701.9,1158.4 706.8,1159.6 711.6,1161.0 716.5,1161.7 721.5,1162.4 726.3,1163.4 731.2,1164.7 736.1,1165.8 740.9,1166.9 745.9,1167.7 750.7,1168.7 755.1,1171.2 758.8,1174.6 761.1,1178.9 762.1,1183.8 761.4,1188.8 759.9,1193.5 757.5,1198.0 753.9,1201.3 749.4,1203.4 744.4,1203.9 739.6,1202.6 734.8,1201.1 730.1,1199.7 725.4,1197.9 720.6,1196.5 715.8,1195.2 711.1,1193.5 706.3,1192.1 701.5,1190.8 696.8,1189.0 692.2,1187.2 687.4,1185.8 682.7,1183.9 678.1,1182.1 673.5,1180.1 668.6,1179.0 663.9,1177.5 659.2,1175.7 654.5,1174.1 649.6,1172.9 644.9,1171.2 640.2,1169.5 635.6,1167.6 631.1,1165.6 626.3,1164.0 621.5,1162.6 616.9,1160.8 612.1,1159.4 607.4,1157.7 602.5,1156.7 597.6,1155.6 592.9,1154.0 587.9,1153.9 583.2,1155.4 579.4,1158.7 577.4,1163.2 577.6,1168.2 580.2,1172.3 584.5,1174.9 589.4,1176.0 594.2,1177.3 599.1,1178.3 604.0,1179.4 608.9,1180.3 613.7,1181.5 618.6,1182.5 623.6,1183.4 628.5,1184.3 633.3,1185.4 638.2,1186.4 643.2,1187.2 648.1,1187.8 653.0,1189.0 657.9,1189.9 662.7,1191.4 667.6,1192.2 672.3,1193.7 677.2,1195.0 682.0,1196.2 686.9,1197.1 691.7,1198.4 696.6,1199.4 701.5,1200.1 706.4,1201.2 711.3,1202.0 716.2,1203.0 720.9,1204.6 725.8,1205.7 730.7,1206.7 735.6,1207.7 740.4,1209.0 745.2,1210.5 750.1,1211.5 755.0,1212.1 759.9,1213.4 764.7,1214.8 769.6,1215.0 774.1,1212.9 777.4,1209.2 779.6,1204.7 780.3,1199.8 778.9,1195.0 775.9,1191.1 772.1,1187.8 767.6,1185.6 762.8,1184.3 757.9,1183.3 753.0,1182.2 748.2,1180.8 743.4,1179.6 738.5,1178.5 733.6,1177.7 728.7,1176.9 723.9,1175.4 719.0,1174.5 714.1,1173.3 709.3,1172.2 704.4,1171.0 699.5,1169.9 694.7,1168.7 689.8,1167.5 685.2,1165.8 680.3,1164.8 675.4,1163.7 670.6,1162.3 665.7,1161.1 660.9,1160.1 656.0,1159.1 651.1,1158.1 646.2,1157.3 641.3,1156.2 636.4,1155.3 631.5,1154.3 626.7,1152.9 621.9,1151.5 617.0,1150.7 612.1,1149.6 607.2,1148.5 602.4,1147.2 597.6,1145.8 592.8,1144.6 588.0,1143.2 583.7,1140.7 579.8,1137.6 576.9,1133.5 575.0,1131.1 573.6,1130.9 572.2,1130.7 571.0,1130.5 570.2,1130.3 570.0,1130.3 570.6,1130.4 572.0,1130.6 574.4,1131.0 577.4,1131.5 580.7,1132.1 584.4,1132.7 588.8,1133.4 593.6,1134.2 598.5,1135.0 603.5,1135.8 608.2,1137.6 612.7,1139.7 617.3,1141.6 622.1,1143.2 626.7,1145.0 631.4,1146.8 636.1,1148.5 640.8,1150.1 645.5,1151.7 650.0,1154.0 654.8,1155.5 659.6,1156.8 664.5,1157.7 669.4,1158.6 674.3,1159.4 679.3,1159.9 684.3,1160.5 688.7,1162.8 692.6,1165.9 696.5,1169.0 700.7,1171.7 704.8,1174.6 708.9,1177.4 713.1,1180.2 716.9,1183.4 720.7,1186.6 724.8,1189.4 728.7,1192.5 732.9,1195.3 736.7,1198.5 740.7,1201.6 744.8,1204.4 748.8,1207.4 752.7,1210.5 756.4,1213.9 759.5,1217.8 761.9,1222.2 763.9,1226.8 765.2,1231.6 766.0,1236.5 766.1,1241.5 765.5,1246.5 764.0,1251.2 762.3,1255.9 759.6,1260.0 756.4,1263.9 752.2,1266.7 747.9,1269.1 743.3,1271.0 738.4,1272.0 733.4,1272.4 728.4,1272.6 723.4,1272.6 718.4,1272.4 713.4,1272.5 708.4,1272.4 703.4,1272.2 698.4,1272.3 693.4,1272.1 688.4,1272.1 683.5,1272.1 678.5,1272.1 673.5,1271.9 668.6,1270.9 663.6,1270.9 658.6,1270.7 653.6,1270.5 648.6,1270.4 643.6,1269.9 638.7,1268.9 633.7,1269.0 628.7,1269.4 623.7,1269.3 618.7,1269.2 613.8,1269.0 608.8,1269.2 603.8,1268.7 598.8,1269.0 593.9,1269.8 588.9,1270.2 583.9,1270.1 578.9,1270.1 574.0,1271.1 569.8,1273.7 566.5,1277.4 564.8,1282.1 565.1,1287.0 566.8,1291.7 569.4,1296.0 573.4,1299.0 578.0,1301.0 582.9,1301.7 587.9,1301.1 592.9,1300.6 597.8,1300.0 602.7,1299.2 607.7,1298.5 612.6,1297.5 617.5,1296.6 622.4,1295.9 627.3,1295.0 632.3,1294.3 637.3,1293.7 642.2,1293.0 647.1,1291.9 652.1,1291.3 657.0,1290.3 661.9,1289.5 666.8,1288.7 671.8,1288.0 676.7,1287.3 681.7,1286.7 686.6,1286.3 691.6,1286.1 696.6,1285.4 701.5,1284.7 706.4,1283.8 711.4,1283.5 716.4,1282.7 721.3,1281.9 726.2,1281.2 731.2,1280.7 736.1,1279.8 741.0,1279.2 746.0,1280.1 750.7,1281.6 755.1,1283.9 758.6,1287.5 760.8,1292.0 762.3,1296.7 763.2,1301.6 763.4,1306.6 763.4,1311.6 762.8,1316.6 761.5,1321.4 759.2,1325.8 755.5,1329.1 751.0,1331.3 746.2,1332.7 741.2,1333.0 736.2,1333.4 731.2,1333.8 726.3,1333.2 721.3,1332.9 716.3,1333.3 711.3,1333.0 706.3,1333.1 701.3,1332.9 696.3,1333.0 691.4,1332.9 686.4,1332.2 681.4,1332.0 676.4,1331.9 671.4,1331.9 666.5,1331.6 661.5,1331.3 656.5,1331.3 651.5,1331.0 646.5,1330.5 641.5,1330.3 636.6,1329.8 631.6,1329.0 626.6,1328.6 621.6,1328.5 616.7,1328.3 611.7,1328.2 606.7,1327.7 601.7,1327.4 596.7,1327.1 591.9,1325.9 587.3,1323.9 583.3,1321.0 579.6,1317.6 576.9,1313.4 575.1,1308.8 573.7,1304.0 572.8,1299.0 572.0,1294.1 573.0,1289.2 575.3,1284.8 578.3,1280.8 582.5,1278.2 586.9,1275.7 591.3,1273.4 596.0,1271.6 600.6,1269.6 605.3,1268.0 609.8,1265.9 614.2,1263.6 618.6,1261.2 623.2,1259.3 627.7,1257.1 632.1,1254.7 636.6,1252.6 641.4,1251.1 645.7,1248.6 650.0,1246.0 654.5,1243.7 659.0,1241.6 663.6,1239.7 668.1,1237.5 672.5,1235.2 677.1,1233.2 681.7,1231.3 686.3,1229.3 690.8,1227.2 695.2,1224.9 699.8,1222.8 704.1,1220.3 708.4,1217.7 712.8,1215.4 717.2,1213.0 721.6,1210.7 725.9,1208.1 730.4,1206.0 734.8,1203.6 739.4,1201.6 743.6,1199.0 748.0,1196.5 752.6,1194.8 757.4,1193.2 761.7,1190.6 766.0,1188.2 770.6,1186.1 774.3,1182.8 777.0,1178.6 778.4,1173.8 778.6,1168.8 777.0,1164.5 774.0,1164.0 769.5,1163.2 764.6,1162.6 759.6,1162.4 754.7,1161.9 749.7,1162.3 744.7,1162.2 739.7,1162.0 734.7,1161.3 729.8,1160.9 724.8,1160.9 719.8,1160.7 714.8,1160.6 709.8,1160.1 704.8,1160.1 699.8,1160.1 694.8,1160.1 689.8,1160.0 684.8,1160.3 679.9,1160.5 674.9,1160.6 669.9,1160.0 664.9,1160.2 659.9,1160.2 654.9,1160.2 649.9,1159.6 644.9,1159.5 640.0,1159.1 635.0,1159.0 630.0,1159.2 625.0,1158.6 620.0,1158.4 615.1,1157.5 610.1,1157.4 605.1,1157.6 600.2,1158.7 595.6,1160.5 591.4,1163.2 588.1,1166.9 585.4,1171.1 582.8,1175.4 581.4,1180.2 581.1,1185.1 581.1,1190.1 581.8,1195.1 584.2,1199.4 587.6,1203.1 591.4,1206.3 595.7,1208.8 600.3,1210.8 605.1,1212.3 610.0,1213.2 615.0,1212.7 619.9,1211.8 624.8,1211.0 629.7,1210.2 634.7,1209.8 639.5,1208.4 644.4,1207.6 649.3,1206.5 654.2,1205.3 659.1,1204.3 663.8,1202.7 668.4,1200.8 673.3,1199.9 678.3,1199.2 683.2,1198.4 688.2,1197.7 693.1,1196.7 698.0,1195.8 702.9,1195.0 707.9,1194.7 712.9,1194.1 717.8,1193.5 722.6,1192.2 727.5,1191.2 732.5,1190.8 737.4,1189.6 742.3,1189.2 747.3,1189.4 752.3,1190.1 756.9,1191.9 761.6,1193.7 765.9,1196.3 770.4,1198.4 774.4,1201.4 777.1,1205.6 778.5,1210.4 778.7,1215.4 778.2,1220.3 777.1,1225.2 774.9,1229.7 771.7,1233.5 768.1,1237.0 764.2,1240.1 760.5,1243.4 756.6,1246.6 752.9,1249.9 748.7,1252.7 744.4,1255.2 740.3,1258.0 736.1,1260.7 732.0,1263.6 728.0,1266.5 723.8,1269.3 719.8,1272.3 715.9,1275.4 711.8,1278.2 707.4,1280.7 703.2,1283.2 699.0,1286.0 695.1,1289.1 690.8,1291.7 686.5,1294.2 682.4,1297.0 678.0,1299.4 673.8,1302.0 669.1,1303.9 664.8,1306.4 660.5,1308.9 656.3,1311.6 652.3,1314.6 648.1,1317.4 644.0,1320.2 639.7,1322.7 635.3,1325.0 631.0,1327.6 626.7,1330.2 622.5,1332.9 618.7,1336.2 614.7,1339.2 610.6,1341.9 606.3,1344.5 602.1,1347.2 598.8,1350.9 596.1,1355.2 594.0,1359.0 592.7,1359.0 591.9,1359.0 591.4,1359.0 591.8,1359.0 593.0,1359.0 595.6,1359.0 599.3,1359.0 603.4,1359.0 608.1,1359.0 613.0,1359.0 618.0,1358.3 622.8,1357.0 627.5,1355.3 632.4,1354.3 637.1,1352.8 642.0,1351.6 646.7,1350.1 651.6,1349.1 656.4,1347.5 660.8,1345.2 665.0,1342.5 669.1,1339.6 673.0,1336.6 676.5,1333.0 679.6,1329.1 682.0,1324.7 684.1,1320.1 685.7,1315.4 686.5,1310.5 687.3,1305.5 688.0,1300.6 687.1,1295.7 684.9,1291.2 682.3,1286.9 679.4,1282.9 675.9,1279.3 671.8,1276.4 667.3,1274.3 662.4,1273.3 657.4,1272.9 652.5,1273.4 647.7,1274.7 643.2,1277.0 639.0,1279.7 634.8,1282.4 630.7,1285.1 627.1,1288.7 623.7,1292.3 620.1,1295.8 616.4,1299.1 613.0,1302.8 609.4,1306.3 605.8,1309.7 602.0,1313.0 598.5,1316.5 595.0,1320.1 591.7,1323.9 588.8,1327.9 586.9,1332.5 585.3,1337.3 584.4,1342.2 584.7,1347.2 585.8,1352.0 587.4,1356.8 589.4,1359.0 591.5,1359.0 594.1,1359.0 597.8,1359.0 601.8,1359.0 606.3,1359.0 611.2,1359.0 616.2,1358.6 621.1,1357.8 626.1,1357.2 631.0,1356.4 635.8,1355.1 640.5,1353.3 645.2,1351.5 650.1,1350.5 655.0,1349.6 659.9,1348.9 664.8,1348.0 669.8,1347.2 674.7,1346.3 679.6,1345.4 684.6,1344.8 689.3,1343.3 694.2,1342.1 699.1,1341.2 704.0,1340.7 709.0,1339.9 713.9,1339.1 718.8,1338.2 723.7,1337.2 728.6,1336.1 733.4,1334.8 738.1,1333.0 742.7,1331.2 747.5,1330.0 751.9,1327.6 755.1,1323.8 757.5,1319.4 758.5,1314.5 757.8,1309.6 755.5,1305.2 752.4,1301.3 748.8,1297.8 745.5,1294.1 741.8,1290.7 738.3,1287.2 734.7,1283.7 731.2,1280.1 728.0,1276.3 724.8,1272.4 721.3,1268.8 718.2,1265.0 714.5,1261.5 711.2,1257.8 707.7,1254.2 704.4,1250.5 700.9,1246.9 697.8,1243.0 694.2,1239.5 690.8,1235.9 687.3,1232.4 683.9,1228.8 680.1,1225.4 676.6,1221.9 673.2,1218.3 669.6,1214.8 666.0,1211.4 662.6,1207.7 659.2,1204.0 655.6,1200.5 651.9,1197.2 648.2,1193.9 645.1,1189.9 641.6,1186.3 638.1,1182.8 634.6,1179.3 631.0,1175.8 627.4,1172.3 623.9,1168.7 620.6,1165.0 616.8,1161.8 613.3,1158.2 609.9,1154.5 606.6,1150.8 604.5,1146.3 604.3,1141.3 606.3,1136.8 610.3,1137.0 614.7,1137.7 619.6,1138.5 624.5,1139.6 629.3,1140.8 634.1,1142.2 639.0,1143.1 643.9,1144.0 648.8,1145.0 653.6,1146.6 658.5,1147.4 663.4,1148.1 668.3,1149.0 673.2,1150.2 678.0,1151.6 682.8,1152.7 687.7,1153.7 692.6,1154.8 697.4,1156.2 702.1,1157.9 706.8,1159.5 711.6,1160.7 716.5,1161.8 721.4,1162.7 726.2,1164.3 730.9,1165.8 735.9,1166.6 740.7,1167.9 745.5,1169.1 750.2,1170.8 755.1,1172.1 759.9,1173.2 764.5,1175.3 768.4,1178.4 770.5,1182.9 770.5,1187.9 769.2,1192.7 765.9,1196.4 761.3,1198.3 756.3,1198.6 751.3,1198.8 746.4,1199.5 741.4,1199.6 736.4,1200.1 731.4,1200.5 726.5,1201.1 721.5,1201.6 716.5,1202.0 711.5,1202.5 706.5,1202.9 701.6,1203.5 696.6,1204.0 691.6,1204.6 686.7,1205.3 681.7,1205.6 676.8,1206.6 671.8,1207.0 666.9,1207.5 661.9,1207.9 656.9,1208.0 652.0,1208.7 647.0,1209.2 642.1,1210.0 637.2,1211.0 632.3,1211.7 627.3,1212.4 622.3,1212.7 617.4,1213.4 612.4,1213.7 607.4,1214.1 602.5,1214.9 597.5,1215.5 592.6,1216.5 587.6,1217.0 582.8,1218.0 578.2,1220.0 573.8,1222.4 569.6,1225.1 565.8,1228.4 562.3,1231.9 559.8,1236.2 558.2,1241.0 557.2,1245.9 556.9,1250.8 557.6,1255.8 558.8,1260.6 560.8,1265.2 563.1,1269.6 566.3,1273.5 570.5,1276.2 575.0,1278.3 579.7,1280.0 584.2,1282.1 588.6,1284.4 593.3,1286.3 597.8,1288.4 602.5,1290.1 607.1,1292.0 611.8,1293.8 616.2,1296.1 620.7,1298.3 625.2,1300.5 629.7,1302.7 634.4,1304.4 638.9,1306.4 643.3,1308.8 647.8,1311.0 652.3,1313.2 656.9,1315.2 661.4,1317.3 666.0,1319.2 670.7,1321.0 675.2,1323.2 679.8,1325.1 684.4,1326.8 689.3,1328.0 694.1,1329.4 698.8,1331.1 703.4,1333.1 707.5,1335.9 710.3,1340.0 711.8,1344.7 711.8,1349.7 711.6,1354.7 710.4,1359.0 708.4,1359.0 706.3,1359.0 703.0,1359.0 698.8,1359.0 694.2,1359.0 689.2,1359.0 684.3,1358.5 679.4,1357.6 674.4,1357.0 669.5,1356.6 664.5,1356.1 659.6,1355.3 654.6,1354.8 649.7,1353.8 644.7,1353.4 639.8,1352.9 634.8,1352.1 629.9,1351.5 624.9,1351.0 620.0,1350.2 615.1,1349.2 610.2,1348.4 605.2,1347.6 600.3,1346.8 595.4,1346.0 590.4,1345.6 585.5,1344.8 580.5,1344.0 575.8,1342.4 571.1,1340.8 566.4,1339.1 562.1,1336.5 558.7,1332.8 556.5,1328.4 556.0,1323.5 556.3,1318.5 557.6,1313.7 560.0,1309.4 563.2,1305.5 567.2,1302.5 571.9,1301.0 576.9,1301.4 581.9,1301.9 586.8,1302.6 591.8,1303.4 596.7,1304.1 601.7,1304.8 606.6,1305.3 611.5,1306.2 616.5,1306.8 621.4,1307.5 626.4,1308.0 631.4,1308.6 636.3,1309.4 641.3,1310.1 646.2,1310.9 651.1,1311.9 656.0,1312.9 660.9,1313.7 665.8,1314.8 670.7,1315.5 675.7,1316.0 680.6,1317.2 685.4,1318.3 690.4,1318.7 695.4,1319.3 700.3,1319.9 705.2,1320.8 710.1,1321.7 715.0,1323.0 719.9,1323.8 724.9,1324.0 729.9,1324.5 734.8,1325.3 739.7,1326.0 744.7,1326.7 749.7,1326.9 754.6,1326.2 759.2,1324.2 762.8,1320.7 764.7,1316.2 765.5,1311.2 765.1,1306.3 762.9,1301.8 759.2,1298.5 754.8,1296.2 750.4,1293.7 746.0,1291.5 741.3,1289.6 736.8,1287.4 732.5,1284.9 727.9,1282.9 723.5,1280.5 719.1,1278.2 714.7,1275.9 710.3,1273.5 706.1,1270.8 701.8,1268.3 697.4,1265.9 693.0,1263.5 688.5,1261.3 684.1,1259.1 679.8,1256.5 675.4,1254.1 671.1,1251.5 666.7,1249.3 662.2,1247.1 657.7,1244.9 653.4,1242.4 649.2,1239.6 644.9,1237.1 640.3,1235.2 635.8,1233.0 631.2,1231.0 626.6,1229.1 622.2,1226.6 617.8,1224.3 613.4,1221.9 608.9,1219.8 604.5,1217.4 600.1,1215.1 596.1,1212.0 592.7,1208.4 590.3,1204.0 589.3,1199.1 589.4,1194.1 591.3,1189.5 594.6,1185.8 598.5,1182.7 603.1,1180.7 607.9,1179.5 612.8,1180.5 617.5,1182.1 621.9,1184.4 626.5,1186.5 631.1,1188.4 635.8,1189.9 640.5,1191.7 645.2,1193.4 649.8,1195.2 654.4,1197.2 659.2,1198.5 663.7,1200.8 668.3,1202.8 673.2,1203.8 677.8,1205.6 682.6,1207.1 687.2,1208.8 691.8,1210.9 696.6,1212.4 701.1,1214.4 705.8,1216.2 710.3,1218.3 714.7,1220.6 719.2,1222.9 723.7,1224.9 728.5,1226.3 733.2,1228.0 738.0,1229.5 742.7,1231.1 747.3,1233.1 751.7,1235.4 756.3,1237.4 760.9,1239.4 765.6,1241.2 770.2,1243.0 774.1,1246.0 776.0,1250.6 775.8,1255.6 773.4,1259.9 769.2,1262.5 764.3,1262.6 759.3,1262.0 754.4,1261.3 749.4,1260.9 744.4,1260.4 739.5,1259.7 734.5,1258.9 729.6,1258.0 724.7,1257.5 719.7,1257.4 714.7,1256.8 709.8,1255.8 704.9,1255.2 699.9,1254.6 695.0,1253.8 690.0,1253.4 685.2,1252.1 680.2,1251.3 675.3,1250.8 670.3,1250.0 665.3,1250.1 660.3,1250.0 655.4,1249.0 650.5,1248.7 645.6,1247.5 640.7,1246.5 635.8,1245.7 630.8,1245.2 625.9,1244.1 621.0,1243.6 616.0,1242.9 611.1,1242.4 606.1,1241.9 601.2,1241.2 596.2,1240.9 591.3,1241.6 586.5,1243.1 582.1,1245.4 577.7,1247.8 573.9,1251.0 570.6,1254.8 568.1,1259.1 566.1,1263.7 565.1,1268.6 565.6,1273.5 567.6,1278.1 570.7,1282.0 574.0,1285.7 578.3,1288.2 583.1,1289.6 588.1,1289.9 593.1,1289.2 598.1,1288.7 603.0,1288.2 607.9,1287.2 612.9,1286.5 617.8,1285.6 622.7,1284.9 627.7,1284.5 632.7,1284.0 637.7,1283.7 642.6,1283.0 647.5,1282.2 652.5,1281.4 657.4,1280.8 662.4,1280.3 667.4,1280.0 672.3,1279.0 677.3,1278.5 682.2,1278.1 687.2,1278.1 692.2,1277.7 697.2,1277.3 702.1,1276.5 707.0,1275.5 712.0,1275.1 717.0,1274.9 722.0,1274.4 726.9,1274.2 731.9,1273.6 736.8,1272.9 741.8,1272.3 746.8,1271.7 751.7,1271.4 756.6,1270.3 761.5,1269.3 766.3,1267.9 770.8,1265.6 774.9,1262.9 778.4,1259.3 781.1,1255.1 783.1,1250.5 784.6,1245.7 786.1,1241.0 787.0,1236.2 787.0,1231.2 786.9,1226.2 787.0,1221.2 787.0,1216.3 786.8,1211.3 786.8,1206.3 785.4,1201.5 783.5,1196.9 781.2,1192.4 778.2,1188.5 774.5,1185.1 770.9,1181.7 766.7,1178.9 762.6,1176.1 758.0,1174.2 753.3,1172.5 748.4,1171.7 743.4,1171.3 738.4,1171.3 733.4,1171.7 728.5,1172.7 723.6,1173.8 719.0,1175.6 714.6,1178.1 710.3,1180.5 706.1,1183.3 702.4,1186.6 698.3,1189.4 693.9,1191.8 689.2,1193.5 684.6,1195.5 680.5,1198.3 676.2,1201.0 672.4,1204.1 668.5,1207.3 664.3,1209.9 659.9,1212.4 656.0,1215.5 651.9,1218.3 647.8,1221.2 643.5,1223.7 639.6,1226.8 636.0,1230.3 632.7,1234.1 628.5,1236.8 624.5,1239.8 620.2,1242.4 615.9,1244.9 611.8,1247.7 607.4,1250.2 603.3,1253.0 598.9,1255.4 594.3,1257.2 589.9,1259.6 586.6,1263.4 584.8,1268.0 584.6,1273.0 585.2,1277.9 587.7,1282.3 591.6,1285.4 595.7,1288.1 600.4,1289.8 605.4,1289.9 610.3,1289.3 615.3,1289.2 620.3,1288.7 625.3,1288.1 630.2,1287.9 635.2,1287.4 640.2,1287.0 645.2,1286.6 650.1,1286.1 655.1,1285.7 660.1,1285.3 665.1,1285.3 670.1,1284.9 675.0,1284.2 680.0,1283.8 684.9,1283.1 689.9,1282.7 694.9,1282.3 699.9,1281.6 704.8,1281.1 709.8,1281.1 714.8,1280.5 719.7,1280.1 724.7,1279.6 729.7,1279.2 734.7,1278.6 739.6,1278.3 744.6,1277.8 749.6,1277.7 754.5,1277.0 759.5,1276.4 764.4,1275.2 768.8,1273.0 773.0,1270.3 777.2,1267.5 781.2,1264.5 784.4,1260.7 786.8,1256.4 787.0,1251.6 787.0,1246.6 786.3,1241.6 786.4,1236.6 785.7,1231.7 784.2,1226.9 781.8,1222.5 779.3,1218.2 776.0,1214.5 772.1,1211.4 767.5,1209.3 762.7,1208.0 757.7,1208.0 752.8,1208.7 747.8,1209.4 742.9,1210.5 738.2,1211.9 733.5,1213.6 728.7,1215.1 723.9,1216.5 719.1,1218.0 714.3,1219.3 709.6,1221.0 704.8,1222.3 700.1,1224.1 695.4,1225.7 690.7,1227.2 685.9,1228.8 681.4,1231.0 676.7,1232.4 671.9,1234.0 667.1,1235.4 662.4,1237.1 657.8,1239.0 653.0,1240.2 648.2,1241.9 643.6,1243.8 638.8,1244.9 633.9,1245.5 628.9,1245.3 623.9,1245.3 619.1,1246.9 614.5,1248.7 609.8,1250.5 605.2,1252.4 600.6,1254.3 596.8,1257.6 594.2,1261.8 593.4,1266.7 594.5,1271.6 596.8,1276.0 600.3,1279.5 605.0,1281.2 610.0,1281.1 614.8,1280.0 619.4,1278.0 624.0,1276.1 628.7,1274.3 633.3,1272.4 637.8,1270.2 642.3,1268.2 646.9,1266.1 651.6,1264.5 656.2,1262.5 660.6,1260.3 665.1,1258.1 669.4,1255.5 673.8,1253.1 678.3,1251.1 683.0,1249.2 687.7,1247.5 692.2,1245.4 696.7,1243.2 701.2,1241.0 705.7,1238.8 710.2,1236.8 714.8,1234.8 719.3,1232.6 724.0,1230.8 728.6,1228.9 733.2,1227.1 737.6,1224.7 742.2,1222.7 746.8,1220.8 751.3,1218.8 754.9,1215.3 757.8,1211.2 760.1,1206.8 761.2,1201.9 761.8,1197.0 760.9,1192.1 758.5,1187.7 754.7,1184.5 750.0,1183.0 745.0,1183.1 740.0,1183.8 735.1,1184.5 730.1,1184.6 725.1,1185.0 720.1,1185.5 715.2,1186.2 710.2,1186.8 705.3,1187.8 700.4,1188.4 695.4,1189.0 690.4,1189.5 685.6,1190.6 680.7,1191.6 675.7,1191.7 670.7,1192.0 665.8,1192.5 660.8,1193.3 655.9,1193.9 650.9,1194.5 646.0,1195.4 641.0,1196.1 636.1,1196.6 631.1,1197.0 626.1,1197.3 621.3,1198.5 616.4,1199.4 611.5,1200.6 606.6,1201.1 601.6,1201.7 596.7,1202.6 591.8,1203.4 587.2,1205.5 583.6,1208.9 582.0,1213.6 582.8,1218.6 585.6,1222.7 590.1,1224.9 595.0,1225.3 599.9,1224.4 604.6,1222.7 609.5,1221.6 614.4,1220.5 619.2,1219.1 624.1,1218.2 629.0,1217.0 633.8,1215.9 638.6,1214.6 643.5,1213.4 648.3,1212.0 653.1,1210.8 658.0,1209.8 662.8,1208.3 667.6,1207.0 672.4,1205.5 677.1,1204.0 682.0,1202.9 686.8,1201.6 691.5,1199.9 696.4,1198.7 701.1,1197.2 705.7,1195.2 710.5,1193.9 715.4,1192.6 720.1,1191.1 724.9,1189.7 729.8,1188.7 734.6,1187.3 739.5,1186.2 744.4,1185.3 749.3,1184.1 754.2,1183.2 759.1,1182.1 763.8,1180.6 768.2,1178.3 772.0,1175.0 774.6,1170.8 776.1,1166.0 776.9,1164.4 776.1,1164.3 774.1,1164.0 771.5,1163.6 768.0,1163.0 764.1,1162.3 759.4,1161.6 754.4,1160.8 749.5,1160.9 744.5,1160.7 739.5,1160.5 734.5,1160.7 729.5,1160.5 724.5,1160.8 719.5,1160.6 714.5,1160.8 709.5,1161.0 704.6,1161.6 699.6,1161.8 694.6,1162.3 689.8,1163.6 685.5,1166.1 682.3,1169.8 679.9,1174.2 679.3,1179.1 681.1,1183.8 684.0,1187.9 687.9,1190.9 692.6,1192.7 697.5,1193.2 702.5,1192.6 707.4,1191.5 712.3,1190.9 717.2,1189.8 722.1,1188.8 727.0,1188.0 731.9,1186.7 736.7,1185.7 741.7,1184.8 746.5,1183.4 751.4,1182.5 756.3,1181.8 761.2,1180.8 765.8,1178.9 770.1,1176.4 773.9,1173.1 777.0,1169.2 779.8,1165.1 781.5,1165.2 782.2,1165.3 781.6,1165.2 780.1,1165.0 777.4,1164.5 773.8,1163.9 769.6,1163.3 765.1,1162.5 760.4,1161.7 755.4,1161.2 750.4,1161.2 745.5,1162.0 740.6,1163.0 735.7,1164.1 730.8,1164.9 725.9,1165.9 721.0,1167.0 716.1,1168.0 711.2,1168.8 706.2,1168.7 701.2,1168.7 696.4,1169.9 691.4,1170.6 686.5,1171.6 681.7,1172.8 676.8,1174.0 672.0,1175.2 667.1,1176.3 662.2,1177.3 657.3,1178.0 652.4,1179.1 647.5,1180.2 642.8,1181.7 637.9,1182.8 633.0,1183.6 628.1,1184.7 623.2,1185.6 618.3,1186.5 613.5,1187.9 608.5,1188.5 603.6,1189.3 598.7,1190.1 594.6,1192.9 591.7,1197.0 589.3,1201.3 587.7,1206.0 587.4,1211.0 588.8,1215.8 591.4,1220.1 595.1,1223.4 599.6,1225.4 604.5,1226.0 609.4,1224.8 614.1,1223.1 618.7,1221.1 623.4,1219.4 628.1,1217.8 632.9,1216.5 637.8,1215.3 642.6,1213.9 647.3,1212.2 652.0,1210.7 656.6,1208.8 661.5,1207.6 666.2,1205.9 670.9,1204.3 675.6,1202.5 680.3,1200.8 685.1,1199.6 689.9,1198.2 694.6,1196.5 699.2,1194.6 703.9,1192.9 708.7,1191.3 713.4,1189.9 718.3,1188.6 723.1,1187.4 727.9,1185.9 732.6,1184.4 737.4,1182.9 742.2,1181.6 747.0,1180.1 751.7,1178.4 756.6,1177.1 761.3,1175.7 766.2,1174.4 770.6,1172.0 774.1,1168.5 776.9,1164.5 778.4,1164.7 778.9,1164.8 778.9,1164.8 777.6,1164.6 775.8,1164.3 772.6,1163.7 768.7,1163.1 764.0,1162.3 759.1,1161.5 754.1,1161.3 749.1,1161.2 744.1,1161.0 739.2,1160.2 734.2,1159.8 729.2,1159.5 724.2,1159.1 719.2,1158.8 714.3,1159.3 709.3,1159.1 704.3,1158.4 699.4,1158.4 694.4,1158.0 689.4,1157.5 684.4,1157.3 679.4,1157.0 674.5,1156.4 669.5,1156.3 664.6,1155.6 659.6,1155.0 654.6,1155.0 649.6,1154.6 644.6,1154.3 639.6,1154.5 634.6,1154.4 629.7,1153.8 624.7,1153.2 619.7,1152.9 614.7,1152.6 609.8,1152.0 604.8,1152.4 600.1,1153.7 596.4,1157.1 593.6,1161.2 593.2,1166.2 594.6,1171.0 596.9,1175.4 600.5,1178.8 604.8,1181.3 609.7,1182.3 614.7,1182.7 619.7,1182.7 624.7,1182.5 629.7,1182.3 634.7,1182.3 639.7,1182.2 644.6,1181.8 649.6,1181.3 654.6,1181.2 659.5,1180.6 664.5,1180.3 669.5,1180.0 674.5,1179.9 679.5,1179.6 684.5,1179.3 689.4,1179.4 694.4,1179.8 699.4,1179.6 704.4,1179.1 709.4,1179.1 714.4,1179.0 719.3,1179.4 724.3,1179.2 729.3,1178.6 734.3,1178.2 739.3,1178.3 744.3,1178.1 749.2,1178.0 754.2,1177.7 759.2,1177.7 764.2,1177.4 769.2,1177.8 773.9,1179.5 778.2,1181.9 781.5,1185.7 783.9,1190.1 785.0,1194.9 785.0,1199.9 783.3,1204.6 780.6,1208.7 776.5,1211.6 771.7,1213.1 766.8,1212.9 761.8,1213.1 756.8,1212.5 751.8,1212.6 746.9,1211.9 741.9,1211.4 737.0,1211.0 732.0,1210.9 727.0,1210.4 722.0,1210.2 717.0,1209.9 712.0,1209.6 707.0,1209.2 702.1,1208.8 697.1,1208.1 692.1,1207.7 687.2,1207.3 682.2,1207.2 677.2,1206.8 672.2,1206.4 667.2,1206.1 662.2,1205.9 657.2,1205.9 652.3,1205.5 647.3,1205.3 642.3,1205.5 637.3,1205.2 632.3,1204.9 627.3,1204.2 622.4,1203.7 617.4,1203.2 612.5,1203.2 607.5,1203.2 602.5,1203.3 597.5,1203.2 592.5,1204.1 587.7,1205.4 583.4,1207.8 579.8,1211.4 576.3,1214.9 574.0,1219.3 572.3,1224.1 571.1,1228.9 570.9,1233.9 570.6,1238.9 570.8,1243.9 571.6,1248.8 573.2,1253.5 575.1,1258.1 577.7,1262.4 580.9,1266.3 584.7,1269.5 588.7,1272.4 593.2,1274.8 598.0,1276.1 602.9,1276.2 607.9,1275.4 612.8,1275.0 617.7,1273.9 622.7,1273.2 627.6,1272.5 632.6,1272.1 637.5,1271.4 642.5,1270.8 647.5,1270.2 652.4,1269.3 657.3,1268.5 662.3,1267.9 667.2,1267.0 672.1,1266.3 677.1,1266.0 682.0,1264.8 686.9,1264.0 691.7,1263.0 696.7,1262.0 701.6,1261.0 706.5,1260.5 711.5,1259.8 716.4,1259.0 721.4,1258.4 726.4,1257.9 731.3,1257.7 736.3,1256.9 741.2,1256.1 746.2,1255.4 751.1,1255.2 756.1,1254.8 761.1,1254.6 766.1,1253.9 770.8,1252.4 775.4,1250.2 779.6,1247.6 783.2,1244.1 786.1,1240.1 787.0,1235.8 787.0,1231.0 786.8,1226.0 785.8,1221.1 783.8,1216.6 780.3,1212.9 776.1,1210.3 771.5,1208.3 766.7,1207.0 761.7,1206.6 756.7,1206.8 751.8,1207.6 747.0,1209.0 742.2,1210.5 737.4,1211.6 732.6,1213.3 727.8,1214.6 723.0,1215.9 718.2,1217.2 713.3,1218.2 708.4,1219.2 703.6,1220.7 698.8,1221.9 693.9,1223.1 689.0,1224.2 684.3,1225.9 679.5,1227.2 674.8,1228.8 669.9,1229.9 665.1,1231.3 660.3,1232.5 655.6,1234.2 650.7,1235.4 646.0,1237.1 641.2,1238.4 636.5,1239.9 631.8,1241.7 626.8,1242.4 622.0,1243.6 617.2,1244.8 612.3,1245.9 607.4,1247.2 602.6,1248.4 597.8,1249.9 593.5,1252.3 590.4,1256.2 588.8,1260.9 588.4,1265.9 589.5,1270.7 592.3,1274.9 595.8,1278.4 600.1,1280.9 605.0,1282.0 610.0,1282.1 614.8,1280.9 619.7,1280.1 624.6,1279.0 629.4,1277.7 634.3,1276.6 639.1,1275.5 643.9,1274.0 648.7,1272.5 653.6,1271.4 658.3,1269.7 663.1,1268.3 668.1,1268.0 672.9,1266.8 677.9,1266.0 682.7,1264.7 687.5,1263.5 692.4,1262.3 697.2,1260.8 702.0,1259.8 706.8,1258.5 711.8,1257.5 716.5,1255.8 721.3,1254.4 726.0,1252.8 730.8,1251.6 735.7,1250.5 740.6,1249.6 745.5,1248.6 750.4,1247.7 755.0,1245.8 759.2,1243.0 762.4,1239.2 764.6,1234.7 765.0,1229.8 763.0,1225.3 759.3,1222.0 754.5,1220.6 749.5,1221.2 744.9,1223.1 740.1,1224.5 735.5,1226.3 730.8,1228.0 726.2,1229.9 721.5,1231.5 716.8,1233.1 712.1,1234.8 707.3,1236.3 702.6,1238.0 697.8,1239.3 693.2,1241.3 688.4,1242.8 683.6,1244.0 678.9,1245.7 674.2,1247.5 669.4,1248.8 664.7,1250.3 659.8,1251.3 655.1,1253.1 650.4,1254.6 645.8,1256.6 641.2,1258.5 636.5,1260.2 631.7,1261.6 627.2,1263.8 622.6,1265.6 617.9,1267.3 613.4,1269.5 608.7,1271.1 603.9,1272.5 599.2,1274.2 594.5,1275.8 589.5,1276.8 584.5,1276.8 579.7,1275.5 575.2,1273.3 571.1,1270.5 567.1,1267.5 563.8,1263.7 561.3,1259.4 559.3,1254.8 558.2,1249.9 557.4,1245.0 557.2,1240.0 557.9,1235.1 559.9,1230.5 562.6,1226.3 565.9,1222.6 569.8,1219.4 574.3,1217.3 579.1,1216.0 584.1,1215.4 588.9,1214.2 593.8,1213.2 598.6,1211.6 603.5,1211.0 608.3,1209.7 612.9,1207.7 617.7,1206.4 622.5,1204.9 627.2,1203.3 632.1,1202.3 637.0,1201.4 641.9,1200.0 646.7,1198.8 651.5,1197.4 656.4,1196.6 661.1,1195.0 665.8,1193.2 670.7,1192.3 675.6,1191.0 680.4,1189.9 685.2,1188.4 690.0,1186.9 694.8,1185.7 699.7,1184.5 704.4,1182.9 709.2,1181.5 714.0,1180.4 718.9,1179.2 723.8,1178.2 728.7,1177.3 733.6,1176.1 738.5,1175.3 743.4,1174.3 748.4,1174.2 753.2,1175.6 757.3,1178.3 760.1,1182.5 760.8,1187.4 760.0,1192.4 757.9,1196.9 754.3,1200.2 750.4,1203.4 746.5,1206.4 742.4,1209.3 738.3,1212.2 734.3,1215.1 730.4,1218.3 726.2,1220.9 722.2,1224.0 718.1,1226.8 714.1,1229.8 710.2,1232.9 706.4,1236.2 702.7,1239.5 698.7,1242.5 694.8,1245.6 690.8,1248.6 686.6,1251.2 682.7,1254.5 678.8,1257.5 674.9,1260.6 670.8,1263.6 666.9,1266.7 662.9,1269.7 658.8,1272.4 655.0,1275.7 651.1,1278.9 647.1,1281.8 643.3,1285.0 639.3,1288.0 635.3,1291.1 631.3,1294.0 627.6,1297.3 623.7,1300.5 619.7,1303.5 615.6,1306.4 611.9,1309.7 608.0,1312.9 604.1,1316.0 600.2,1319.1 596.1,1321.9 592.1,1324.9 588.1,1327.9 584.1,1330.9 580.2,1334.0 578.2,1338.5 577.5,1343.5 578.7,1348.3 581.4,1352.5 585.1,1355.8 589.7,1357.7 594.7,1358.1 599.7,1358.0 604.6,1357.5 609.6,1357.3 614.6,1357.1 619.6,1356.6 624.5,1356.2 629.5,1355.8 634.5,1355.7 639.5,1355.7 644.5,1355.5 649.5,1355.0 654.4,1354.4 659.4,1354.2 664.4,1353.5 669.3,1353.3 674.3,1352.8 679.2,1352.7 684.2,1352.6 689.2,1352.1 694.2,1351.4 699.2,1351.6 704.2,1351.4 709.1,1350.5 714.1,1350.4 719.1,1350.7 724.1,1350.5 729.0,1350.2 734.0,1350.0 739.0,1349.9 744.0,1349.4 749.0,1349.6 754.0,1349.3 759.0,1349.1 763.9,1348.2 768.5,1346.2 772.6,1343.4 776.0,1339.7 778.3,1335.3 780.2,1330.7 781.7,1325.9 782.8,1321.1 783.1,1316.1 782.9,1311.1 782.1,1306.1 781.3,1301.2 780.4,1296.3 779.6,1291.3 778.1,1286.6 775.5,1282.3 771.9,1278.9 767.5,1276.4 762.7,1275.1 757.7,1275.5 753.0,1277.0 748.4,1279.0 743.7,1280.6 739.0,1282.2 734.1,1283.6 729.4,1285.2 724.8,1287.1 720.3,1289.2 715.6,1291.0 711.1,1293.2 706.7,1295.5 702.1,1297.5 697.5,1299.4 692.9,1301.2 688.2,1303.0 683.4,1304.6 678.7,1306.1 673.9,1307.6 669.2,1309.3 664.6,1311.1 659.9,1312.9 655.5,1315.2 650.8,1316.9 646.2,1318.8 641.6,1320.8 636.8,1322.2 632.0,1323.6 627.2,1324.9 622.3,1325.9 617.6,1327.5 613.1,1329.7 608.4,1331.5 603.8,1333.3 600.1,1336.6 597.8,1341.0 596.8,1345.9 597.6,1350.8 599.8,1355.3 603.2,1358.9 607.7,1359.0 612.7,1358.9 617.7,1358.4 622.7,1358.7 627.6,1358.2 632.6,1358.0 637.6,1357.5 642.6,1357.3 647.6,1357.0 652.5,1356.7 657.5,1356.7 662.5,1356.2 667.5,1356.0 672.5,1355.7 677.4,1355.3 682.4,1354.6 687.4,1354.2 692.4,1353.8 697.3,1353.8 702.3,1353.7 707.3,1353.4 712.3,1352.8 717.2,1352.5 722.2,1352.4 727.2,1352.0 732.2,1351.6 737.2,1351.4 742.2,1351.2 747.1,1350.7 752.1,1350.1 756.9,1348.9 761.3,1346.4 765.2,1343.3 768.1,1339.3 770.2,1334.7 771.3,1329.9 771.7,1324.9 770.6,1320.0 768.4,1315.6 765.2,1311.7 760.9,1309.2 756.3,1307.2 751.6,1305.7 746.6,1305.3 741.6,1305.5 736.7,1306.5 731.8,1307.5 726.8,1308.1 721.9,1308.8 717.0,1309.8 712.1,1310.8 707.2,1311.8 702.3,1312.8 697.4,1313.9 692.5,1314.9 687.6,1315.9 682.8,1316.9 677.8,1317.7 673.0,1318.8 668.1,1319.8 663.2,1320.7 658.2,1321.1 653.3,1322.0 648.3,1322.5 643.4,1323.7 638.6,1324.9 633.7,1325.9 628.9,1327.3 624.0,1327.9 619.0,1328.5 614.2,1329.9 609.6,1331.8 604.9,1333.6 600.1,1334.9 595.2,1335.6 590.2,1336.2 585.3,1337.3 580.5,1338.6 575.6,1339.4 570.8,1340.8 566.2,1342.8 561.7,1345.0 558.3,1348.6 556.0,1352.8 556.0,1357.4 556.0,1359.0 556.1,1359.0 557.0,1359.0 558.7,1359.0 561.5,1359.0 564.7,1359.0 568.3,1359.0 572.2,1359.0 576.8,1359.0 581.5,1359.0 586.4,1359.0 591.3,1359.0 596.2,1359.0 601.2,1359.0 606.1,1359.0 611.1,1359.0 616.1,1359.0 621.1,1358.6 626.1,1358.5 631.1,1358.1 636.1,1358.0 641.0,1357.8 646.0,1357.4 651.0,1357.3 655.9,1356.4 660.9,1355.9 665.9,1355.3 670.8,1356.0 675.8,1355.9 680.8,1355.6 685.8,1355.2 690.8,1354.9 695.8,1354.6 700.7,1354.6 705.7,1354.2 710.7,1354.1 715.7,1353.7 720.6,1352.9 725.6,1353.4 730.6,1353.2 735.6,1352.8 740.6,1352.4 745.5,1351.9 750.5,1351.7 755.5,1351.9 760.5,1351.6 765.1,1349.7 768.8,1346.4 771.0,1341.9 770.5,1337.0 767.6,1332.9 763.6,1329.9 758.8,1328.8 753.8,1329.0 748.8,1328.9 743.8,1329.1 738.9,1329.5 733.9,1329.3 728.9,1329.1 723.9,1329.2 718.9,1329.5 713.9,1329.3 708.9,1329.5 703.9,1329.7 698.9,1329.7 694.0,1330.1 689.0,1330.1 684.0,1330.1 679.0,1330.2 674.0,1330.3 669.0,1330.5 664.0,1330.8 659.0,1330.5 654.0,1330.2 649.0,1330.4 644.0,1330.6 639.1,1330.4 634.1,1330.5 629.1,1330.7 624.1,1331.3 619.1,1331.6 614.1,1331.6 609.2,1331.0 604.2,1331.3 599.2,1331.4 594.2,1331.4 589.2,1331.4 584.2,1331.7 579.2,1331.3 574.3,1330.3 569.4,1329.6 564.6,1328.1 560.2,1325.9 556.3,1322.7 556.0,1319.0 556.0,1314.9 556.0,1310.2 556.0,1305.3 556.0,1300.3 556.0,1295.3 556.8,1290.4 558.2,1285.6 560.2,1281.0 563.1,1277.0 566.9,1273.7 571.4,1271.5 576.2,1270.3 581.2,1270.4 586.0,1271.9 590.9,1272.7 595.7,1274.0 600.5,1275.5 605.3,1276.8 610.3,1277.6 615.1,1278.7 620.0,1279.7 624.9,1280.4 629.9,1281.3 634.8,1282.1 639.7,1282.9 644.6,1284.1 649.4,1285.3 654.3,1286.3 659.2,1287.5 664.0,1288.8 668.8,1290.1 673.8,1290.7 678.7,1291.5 683.7,1291.5 688.6,1292.5 693.5,1293.2 698.4,1294.5 703.3,1295.3 708.1,1296.5 713.1,1297.4 718.0,1298.2 723.0,1298.7 727.8,1299.8 732.6,1301.1 737.6,1301.8 742.5,1302.9 747.4,1303.6 752.3,1304.6 757.1,1306.2 761.2,1309.0 764.4,1312.7 765.8,1317.5 764.9,1322.4 762.8,1326.9 759.0,1330.1 754.3,1331.8 749.4,1331.6 744.8,1329.6 740.1,1327.9 735.6,1325.8 731.0,1323.8 726.3,1322.1 721.6,1320.4 716.9,1318.6 712.4,1316.6 707.8,1314.6 703.1,1312.9 698.4,1311.2 693.8,1309.3 689.1,1307.6 684.4,1305.9 679.7,1304.1 675.2,1302.0 670.8,1299.7 666.2,1297.7 661.7,1295.5 657.1,1293.6 652.5,1291.7 647.9,1289.8 643.1,1288.2 638.6,1286.2 634.1,1284.0 629.5,1282.0 624.9,1280.1 620.4,1277.8 615.8,1275.9 611.3,1273.8 606.8,1271.8 601.9,1270.8 596.9,1271.5 592.8,1274.1 589.2,1277.7 586.8,1282.0 585.9,1286.9 585.9,1291.9 587.1,1296.7 590.0,1300.8 593.9,1303.9 598.2,1306.4 603.0,1307.8 607.6,1309.7 612.3,1311.2 617.1,1312.9 621.9,1314.1 626.7,1315.5 631.5,1316.6 636.3,1318.0 640.9,1320.1 644.6,1323.4 646.8,1327.8 648.7,1332.5 650.0,1337.3 649.9,1342.3 647.8,1346.8 644.8,1350.8 640.7,1353.7 636.1,1355.5 631.3,1357.0 626.4,1357.8 621.4,1358.1 616.4,1357.7 611.5,1357.1 606.7,1355.6 601.8,1354.5 596.9,1353.6 592.3,1351.7 587.5,1350.2 582.7,1349.0 577.9,1347.7 574.1,1344.5 571.6,1340.2 570.7,1335.3 571.5,1330.4 574.2,1326.2 577.7,1322.6 582.2,1320.6 587.1,1319.9 592.1,1320.0 597.1,1319.9 602.1,1319.8 607.1,1319.8 612.1,1319.8 617.1,1320.3 622.0,1321.0 627.0,1321.3 632.0,1321.8 637.0,1322.0 642.0,1322.1 646.9,1322.4 651.9,1322.5 656.9,1323.2 661.9,1323.6 666.9,1323.7 671.8,1324.4 676.8,1324.4 681.8,1324.4 686.8,1324.5 691.8,1325.0 696.7,1325.5 701.7,1325.4 706.7,1325.4 711.7,1325.9 716.7,1326.2 721.7,1326.6 726.7,1326.7 731.7,1326.9 736.6,1326.8 741.6,1326.7 746.6,1326.5 751.6,1326.5 756.5,1327.2 761.5,1327.8 766.4,1328.9 771.0,1330.7 775.1,1333.6 778.9,1336.9 782.1,1340.7 784.5,1345.1 786.2,1349.8 787.0,1354.6 787.0,1359.0 787.0,1359.0 786.6,1359.0 784.9,1359.0 782.9,1359.0 780.2,1359.0 777.1,1359.0 773.2,1359.0 769.2,1359.0 764.9,1359.0 760.3,1359.0 755.6,1359.0 750.8,1359.0 746.0,1359.0 741.1,1359.0 736.1,1358.8 731.1,1358.7 726.1,1358.4 721.1,1358.2 716.1,1357.9 711.1,1357.6 706.2,1357.1 701.2,1357.0 696.2,1357.0 691.2,1356.8 686.2,1356.6 681.2,1356.3 676.2,1356.3 671.2,1356.8 666.3,1356.2 661.3,1356.0 656.3,1355.5 651.3,1355.0 646.4,1354.8 641.4,1354.5 636.4,1354.0 631.4,1353.6 626.4,1353.5 621.5,1353.1 616.5,1352.3 611.5,1352.1 606.6,1352.2 601.6,1352.3 596.6,1352.1 591.6,1351.8 586.6,1351.6 582.0,1349.7 578.6,1346.0 576.4,1341.5 575.9,1336.6 577.4,1331.9 580.4,1327.8 584.2,1324.7 589.1,1323.7 594.0,1324.2 599.0,1324.4 604.0,1324.6 609.0,1324.5 614.0,1324.8 618.9,1325.2 623.9,1325.3 628.9,1325.3 633.9,1325.8 638.9,1325.9 643.9,1326.2 648.9,1326.3 653.9,1326.3 658.8,1326.9 663.8,1326.5 668.8,1326.4 673.8,1326.1 678.7,1326.8 683.7,1326.9 688.6,1327.8 693.6,1328.2 698.6,1328.4 703.6,1328.5 708.6,1328.4 713.6,1328.4 718.6,1328.1 723.6,1327.8 728.5,1328.2 733.5,1327.9 738.5,1327.7 743.5,1328.0 748.5,1328.2 753.5,1328.3 758.5,1328.5 763.4,1329.1 768.4,1329.7 773.3,1330.8 777.4,1333.6 780.8,1337.2 783.3,1341.5 785.2,1346.2 786.3,1351.0 786.2,1356.0 784.6,1359.0 782.3,1359.0 779.0,1359.0 775.4,1359.0 771.1,1359.0 766.5,1359.0 761.5,1359.0 756.6,1358.0 751.8,1356.7 747.1,1355.1 742.4,1353.3 737.7,1351.8 733.1,1349.7 728.8,1347.2 724.0,1345.8 719.1,1344.8 714.3,1343.4 709.4,1342.4 704.7,1340.7 700.0,1339.2 695.2,1337.6 690.4,1336.2 685.8,1334.2 681.2,1332.4 676.5,1330.7 671.7,1329.2 666.8,1328.2 662.1,1326.7 657.3,1325.3 652.6,1323.5 648.0,1321.6 643.1,1320.5 638.2,1319.5 633.3,1318.6 628.5,1317.4 623.6,1316.1 618.8,1314.9 614.1,1313.2 609.6,1311.0 605.0,1309.3 600.1,1308.2 595.2,1307.1 590.4,1305.8 585.5,1304.8 580.8,1303.1 576.2,1301.2 572.7,1297.7 570.0,1293.4 568.6,1288.7 568.6,1283.7 569.5,1278.8 572.1,1274.5 575.7,1271.1 580.0,1268.5 584.8,1267.2 589.7,1267.0 594.6,1268.1 599.5,1269.0 604.4,1269.9 609.2,1271.4 614.0,1272.6 619.0,1273.2 623.8,1274.3 628.7,1275.3 633.6,1276.3 638.6,1277.0 643.5,1277.5 648.4,1278.7 653.3,1279.7 658.2,1280.6 663.1,1281.2 668.0,1282.2 672.9,1283.4 677.7,1284.7 682.6,1285.8 687.4,1287.3 692.2,1288.4 697.0,1289.8 701.8,1291.1 706.7,1292.1 711.7,1292.8 716.4,1294.2 721.3,1295.4 725.9,1297.5 730.7,1298.9 735.5,1300.3 740.4,1301.1 745.2,1302.5 748.9,1305.8 751.2,1310.2 751.7,1315.2 749.6,1319.6 746.1,1323.2 741.6,1325.1 736.6,1324.4 731.6,1324.3 726.7,1323.5 721.7,1323.2 716.7,1322.6 711.7,1322.3 706.9,1321.2 701.9,1320.8 696.9,1320.4 692.0,1319.7 687.0,1319.2 682.0,1318.9 677.2,1317.7 672.2,1317.5 667.2,1317.4 662.2,1317.1 657.3,1316.2 652.3,1315.8 647.4,1315.0 642.4,1314.3 637.5,1313.8 632.5,1313.4 627.5,1312.7 622.6,1311.9 617.6,1311.3 612.6,1311.1 607.7,1310.5 602.8,1309.8 597.8,1309.4 592.8,1308.9 587.9,1308.0 583.0,1308.8 578.9,1311.7 576.5,1316.1 575.1,1320.9 575.3,1325.8 576.8,1330.6 579.9,1334.5 583.6,1337.8 588.1,1340.1 592.9,1341.2 597.9,1340.7 602.8,1339.9 607.8,1339.3 612.6,1338.2 617.4,1336.7 622.3,1335.6 627.2,1334.6 631.9,1333.1 636.8,1331.8 641.5,1330.3 646.3,1329.0 651.2,1327.7 656.0,1326.4 660.9,1325.6 665.8,1324.8 670.8,1324.2 675.5,1322.8 680.4,1321.5 685.2,1320.4 690.1,1319.2 694.9,1317.8 699.8,1316.7 704.6,1315.5 709.5,1314.5 714.4,1313.5 719.3,1312.4 724.1,1311.2 728.8,1309.4 733.7,1308.6 738.6,1307.7 743.4,1306.3 748.3,1305.0 753.1,1303.8 757.4,1301.3 761.1,1297.9 764.4,1294.1 767.2,1290.0 769.8,1285.7 770.8,1280.8 770.3,1275.9 770.0,1270.9 769.4,1265.9 767.8,1261.2 765.2,1256.9 761.8,1253.3 757.9,1250.2 753.5,1247.8 749.0,1245.5 744.2,1244.2 739.2,1244.2 734.5,1245.7 730.1,1248.1 726.1,1251.0 722.1,1254.0 718.2,1257.2 714.1,1260.0 710.1,1263.0 706.0,1265.9 702.0,1268.8 697.8,1271.5 693.6,1274.2 689.5,1277.1 685.3,1279.8 681.1,1282.6 677.2,1285.7 673.1,1288.5 669.1,1291.4 664.9,1294.3 660.6,1296.8 656.5,1299.6 652.5,1302.6 648.4,1305.4 644.2,1308.2 640.2,1311.1 636.0,1313.9 631.9,1316.8 628.1,1319.9 624.4,1323.3 620.3,1326.1 616.2,1329.0 611.9,1331.6 607.7,1334.2 603.6,1337.1 599.8,1340.4 595.5,1342.9 591.4,1345.7 587.3,1348.6 582.7,1350.6 577.9,1352.0 573.3,1353.8 568.8,1356.0 564.6,1358.7 561.0,1359.0 558.3,1359.0 556.1,1359.0 556.0,1359.0 556.0,1359.0 556.3,1359.0 557.5,1359.0 559.4,1359.0 562.3,1359.0 565.7,1359.0 569.5,1359.0 573.6,1359.0 578.2,1359.0 582.9,1359.0 587.8,1359.0 592.8,1359.0 597.7,1358.4 602.6,1357.2 607.3,1355.8 612.2,1354.7 617.1,1353.7 622.0,1352.6 626.9,1351.4 631.7,1350.2 636.5,1348.9 641.3,1347.5 646.2,1346.3 651.0,1344.9 655.9,1344.0 660.7,1342.7 665.6,1341.5 670.5,1341.0 675.5,1340.5 680.3,1339.2 685.2,1338.3 690.1,1337.2 695.0,1336.0 699.8,1334.9 704.5,1333.1 709.3,1331.8 714.2,1330.6 719.1,1329.8 724.1,1329.3 729.1,1329.0 733.8,1327.5 738.6,1326.1 743.4,1324.7 748.1,1323.0 752.9,1321.7 757.6,1320.1 761.8,1317.4 764.7,1313.4 766.0,1308.6 765.9,1303.6 764.0,1299.0 760.7,1295.3 756.2,1293.2 751.2,1293.0 746.4,1294.2 741.8,1296.3 737.1,1297.9 732.5,1299.9 728.1,1302.2 723.5,1304.1 718.7,1305.5 714.1,1307.4 709.3,1308.8 704.7,1310.7 700.0,1312.5 695.5,1314.7 691.0,1316.8 686.4,1318.7 681.6,1320.3 676.9,1322.1 672.2,1323.6 667.6,1325.6 662.9,1327.2 658.3,1329.2 653.7,1330.9 649.0,1332.6 644.2,1334.0 639.5,1335.7 634.8,1337.4 630.2,1339.3 625.5,1341.1 621.0,1343.2 616.3,1344.9 611.5,1346.4 606.8,1348.0 602.0,1349.5 597.4,1351.2 592.7,1353.1 588.7,1356.0 585.7,1359.0 584.1,1359.0 584.1,1359.0 585.1,1359.0 587.8,1359.0 592.0,1359.0 597.0,1358.7 601.9,1357.8 606.8,1357.0 611.8,1356.3 616.8,1356.0 621.7,1355.5 626.7,1354.9 631.7,1354.4 636.6,1353.6 641.5,1352.5 646.4,1351.9 651.4,1351.7 656.4,1351.2 661.4,1350.9 666.3,1350.1 671.2,1349.6 676.2,1348.8 681.2,1348.4 686.1,1347.9 691.1,1347.5 696.1,1347.2 701.0,1346.5 706.0,1345.8 710.9,1344.8 715.7,1343.7 720.7,1343.2 725.7,1343.0 730.6,1342.3 735.5,1341.5 740.5,1341.1 745.5,1340.7 750.4,1340.0 755.4,1339.4 759.8,1337.1 763.2,1333.5 765.3,1329.0 765.9,1324.0 764.8,1319.1 761.7,1315.3 757.2,1313.1 752.3,1312.6 747.3,1312.1 742.3,1311.7 737.4,1311.4 732.4,1310.9 727.4,1311.0 722.4,1310.7 717.4,1310.5 712.4,1310.3 707.4,1310.0 702.4,1309.8 697.4,1309.4 692.5,1309.0 687.5,1308.9 682.5,1309.1 677.5,1309.7 672.5,1309.4 667.6,1308.8 662.6,1308.6 657.6,1308.7 652.6,1308.4 647.6,1308.6 642.6,1308.3 637.6,1308.1 632.6,1307.6 627.7,1307.1 622.7,1306.7 617.7,1306.6 612.7,1306.3 607.7,1306.3 602.7,1306.3 597.7,1305.8 592.8,1305.1 587.8,1305.2 582.9,1306.1 578.3,1308.0 574.2,1310.9 570.7,1314.5 567.7,1318.4 564.9,1322.6 562.8,1327.1 561.1,1331.8 561.5,1336.8 562.2,1341.8 564.2,1346.3 566.5,1350.7 568.4,1355.3 570.9,1359.0 574.3,1359.0 578.3,1359.0 583.0,1359.0 588.0,1359.0 593.0,1358.7 598.0,1358.5 602.9,1357.9 607.9,1357.2 612.9,1356.8 617.9,1356.5 622.8,1356.2 627.8,1356.0 632.8,1355.4 637.8,1355.0 642.7,1354.4 647.7,1354.2 652.7,1354.1 657.6,1353.0 662.6,1352.5 667.6,1352.6 672.5,1352.1 677.5,1351.5 682.4,1350.5 687.3,1349.9 692.3,1349.7 697.3,1349.2 702.3,1348.9 707.3,1348.7 712.3,1348.6 717.3,1348.0 722.2,1347.0 727.1,1346.2 732.1,1345.7 737.1,1345.6 742.0,1345.3 746.7,1343.7 751.1,1341.3 754.5,1337.6 756.3,1333.0 756.4,1328.0 754.9,1323.2 751.8,1319.4 747.9,1316.3 743.3,1314.3 738.3,1313.6 733.3,1313.9 728.5,1315.2 723.6,1315.9 718.7,1316.8 713.8,1318.0 709.0,1319.2 704.0,1319.7 699.1,1320.3 694.2,1321.5 689.3,1322.3 684.4,1323.1 679.5,1324.3 674.7,1325.2 669.7,1326.0 664.8,1326.7 659.8,1327.2 654.9,1328.1 650.0,1329.1 645.1,1330.1 640.2,1331.1 635.3,1331.9 630.4,1332.6 625.5,1333.5 620.5,1334.1 615.6,1335.3 610.7,1336.1 605.8,1336.9 601.1,1338.4 597.1,1341.5 594.2,1345.5 592.5,1350.2 591.9,1355.2 592.7,1359.0 594.6,1359.0 597.5,1359.0 601.1,1359.0 605.4,1359.0 610.1,1359.0 615.1,1359.0 620.0,1358.4 624.9,1357.6 629.9,1357.2 634.7,1355.8 639.6,1354.9 644.6,1354.3 649.5,1353.6 654.5,1352.7 659.4,1351.7 664.3,1351.2 669.2,1350.2 674.1,1349.3 679.1,1349.1 684.1,1348.5 689.0,1347.9 694.0,1347.4 699.0,1346.6 703.9,1346.2 708.9,1345.7 713.9,1345.5 718.8,1344.9 723.7,1343.6 728.5,1342.5 733.4,1341.3 738.3,1340.8 743.2,1340.0 748.2,1339.7 753.2,1338.9 757.9,1337.2 762.1,1334.6 765.9,1331.3 769.0,1327.4 771.4,1323.0 773.7,1318.6 775.3,1313.9 775.9,1308.9 775.3,1303.9 773.5,1299.3 770.4,1295.4 766.2,1292.8 761.4,1291.3 756.5,1290.4 751.5,1290.1 746.5,1290.8 741.7,1292.2 737.1,1294.0 732.4,1295.8 727.6,1297.1 722.9,1298.8 718.3,1300.8 713.6,1302.5 709.1,1304.6 704.3,1306.2 699.8,1308.2 695.1,1309.9 690.3,1311.6 685.6,1313.2 680.9,1314.8 676.1,1316.3 671.6,1318.5 667.1,1320.6 662.5,1322.6 657.8,1324.2 653.1,1326.0 648.6,1328.0 644.0,1329.9 639.0,1330.6 634.0,1331.0 629.2,1332.1 624.6,1334.2 620.0,1336.2 615.5,1338.3 611.0,1340.4 606.6,1342.6 602.0,1344.5 597.5,1346.8 592.9,1348.7 587.9,1349.2 582.9,1349.2 578.1,1347.7 573.6,1345.5 569.9,1342.2 566.6,1338.5 564.1,1334.2 562.4,1329.5 562.4,1324.5 564.0,1319.7 566.9,1315.7 570.6,1312.4 574.9,1309.8 579.1,1307.0 583.3,1304.3 587.4,1301.4 591.4,1298.5 595.6,1295.7 599.8,1293.0 603.9,1290.2 608.1,1287.5 612.4,1284.9 616.7,1282.4 620.9,1279.7 625.2,1277.1 629.2,1274.2 633.2,1271.1 637.4,1268.5 641.7,1266.0 645.8,1263.2 650.1,1260.6 654.5,1258.3 658.8,1255.7 662.9,1252.8 667.1,1250.1 671.2,1247.4 675.2,1244.3 679.7,1242.1 683.8,1239.3 687.9,1236.4 692.0,1233.6 696.3,1231.1 700.6,1228.4 704.5,1225.3 708.3,1222.0 712.4,1219.2 716.2,1215.9 720.3,1213.1 724.4,1210.3 728.5,1207.4 732.6,1204.5 736.7,1201.8 741.0,1199.2 745.2,1196.4 749.4,1193.8 753.5,1191.0 757.5,1187.9 761.6,1185.1 765.9,1182.5 769.8,1179.4 772.9,1175.5 775.2,1171.1 776.2,1166.2 775.6,1164.2 774.0,1164.0 770.8,1163.4 766.7,1162.8 761.7,1162.2 756.7,1161.7 751.7,1162.0 746.8,1162.2 741.8,1162.3 736.8,1162.0 731.8,1162.2 726.8,1162.3 721.8,1162.0 716.8,1161.9 711.8,1161.4 706.9,1160.9 701.9,1161.0 696.9,1160.6 691.9,1160.8 686.9,1160.4 681.9,1160.6 676.9,1160.2 671.9,1160.3 667.0,1159.9 662.0,1159.7 657.0,1159.8 652.0,1160.0 647.0,1159.9 642.0,1159.3 637.0,1159.1 632.0,1159.0 627.1,1158.7 622.1,1158.8 617.1,1158.7 612.1,1158.5 607.1,1158.9 602.1,1159.0 597.1,1159.1 592.1,1158.8 587.1,1158.9 582.1,1158.8 577.1,1158.5 572.2,1158.9 567.3,1160.1 563.2,1162.8 559.8,1166.5 557.5,1170.9 556.3,1175.8 557.3,1180.6 559.7,1185.0 563.1,1188.7 567.4,1191.1 572.2,1192.7 577.1,1193.0 582.1,1192.3 587.0,1191.5 592.0,1191.1 597.0,1190.7 601.9,1190.0 606.9,1189.9 611.9,1189.5 616.9,1188.9 621.8,1188.0 626.7,1187.2 631.7,1186.9 636.6,1186.1 641.6,1185.4 646.5,1184.9 651.5,1184.8 656.5,1184.6 661.5,1183.8 666.4,1183.2 671.4,1182.9 676.3,1182.0 681.3,1181.3 686.2,1180.6 691.2,1180.2 696.1,1179.3 701.1,1178.6 706.0,1178.1 711.0,1177.4 715.9,1176.7 720.9,1176.3 725.9,1176.2 730.8,1175.0 735.7,1174.3 740.7,1174.2 745.7,1173.9 750.7,1173.4 755.6,1172.8 760.3,1171.2 764.6,1168.6 768.1,1165.1 770.9,1163.5 772.4,1163.7 773.0,1163.8 772.1,1163.7 770.6,1163.4 768.4,1163.0 764.7,1162.4 760.5,1161.7 755.7,1160.9 750.7,1160.5 745.7,1160.0 740.8,1159.5 735.8,1158.9 730.8,1158.4 725.8,1158.0 720.9,1157.5 715.9,1157.6 710.9,1157.6 705.9,1157.1 701.0,1156.9 696.0,1156.2 691.1,1155.4 686.1,1155.0 681.1,1154.9 676.1,1154.6 671.1,1154.3 666.2,1154.0 661.2,1154.3 656.2,1153.8 651.2,1153.2 646.2,1153.0 641.3,1152.5 636.3,1152.2 631.3,1151.9 626.3,1151.7 621.3,1151.2 616.4,1150.5 611.5,1149.4 606.5,1148.9 601.6,1148.4 596.6,1148.4 591.6,1148.3 586.7,1149.4 582.4,1151.8 578.3,1154.7 574.3,1157.8 570.8,1161.3 568.4,1165.6 567.4,1170.5 567.2,1175.5 567.1,1180.5 567.9,1185.4 569.0,1190.3 570.6,1195.0 573.4,1199.1 577.1,1202.5 581.6,1204.6 586.4,1206.1 591.4,1206.3 596.3,1205.3 601.2,1204.8 606.2,1204.0 611.0,1203.0 616.0,1202.4 621.0,1202.0 625.9,1201.1 630.9,1200.4 635.8,1199.6 640.7,1198.9 645.6,1197.8 650.5,1196.9 655.2,1195.2 660.2,1194.7 665.1,1193.8 670.0,1192.8 674.9,1191.7 679.6,1190.2 684.5,1189.0 689.4,1188.1 694.4,1187.6 699.3,1186.7 704.2,1185.8 709.1,1184.8 714.0,1183.8 718.9,1183.4 723.9,1182.5 728.8,1181.6 733.8,1181.4 738.7,1180.5 743.6,1179.9 748.6,1179.3 753.4,1178.1 757.2,1174.8 759.5,1170.4 760.2,1165.4 759.6,1161.6 757.4,1161.2 753.6,1160.6 748.9,1159.8 744.0,1160.1 739.2,1161.5 734.4,1162.9 729.4,1163.6 724.6,1164.8 719.7,1165.9 714.8,1166.9 709.9,1168.0 705.0,1169.0 700.1,1169.9 695.3,1171.3 690.4,1172.2 685.6,1173.5 680.8,1174.7 675.9,1175.6 670.9,1176.5 666.0,1177.5 661.2,1178.8 656.3,1179.7 651.3,1180.3 646.5,1181.5 641.6,1182.4 636.8,1183.8 632.0,1185.1 627.1,1186.2 622.3,1187.4 617.4,1188.5 612.6,1189.7 607.7,1190.8 602.8,1192.0 598.0,1193.4 593.2,1194.7 588.4,1196.2 583.7,1197.7 578.8,1198.6 M574.7,1133.9C575.2,1138.6 576.1,1155.3 577.4,1161.7C578.7,1168.2 582.1,1166.3 582.5,1172.7C582.9,1179.2 580.8,1193.6 579.8,1200.4C578.8,1207.2 576.1,1207.7 576.4,1213.4C576.8,1219.1 582.3,1227.2 581.8,1234.5C581.3,1241.8 574.0,1250.9 573.4,1257.2C572.7,1263.4 577.0,1265.6 577.8,1272.3C578.6,1278.9 577.5,1289.9 578.3,1296.9C579.2,1303.9 582.6,1309.0 582.8,1314.4C583.0,1319.8 579.5,1324.1 579.6,1329.4C579.6,1334.7 582.6,1343.5 583.3,1346.3 M580.8,1353.2C580.6,1349.1 579.0,1335.2 579.6,1328.7C580.2,1322.2 584.4,1320.0 584.4,1314.3C584.4,1308.7 580.7,1301.2 579.7,1295.0C578.7,1288.7 577.8,1283.7 578.2,1277.0C578.6,1270.3 581.8,1261.4 581.9,1254.9C582.0,1248.3 579.0,1243.9 578.7,1237.7C578.4,1231.5 579.5,1225.1 580.0,1217.7C580.5,1210.3 582.0,1199.8 581.6,1193.3C581.2,1186.9 577.2,1184.4 577.7,1178.9C578.2,1173.4 584.5,1167.4 584.4,1160.3C584.3,1153.3 578.4,1140.6 577.1,1136.6 M572.1,1138.9C572.1,1142.4 572.0,1152.4 572.4,1159.4C572.7,1166.5 574.5,1174.7 574.1,1181.0C573.8,1187.3 570.8,1191.0 570.3,1197.3C569.8,1203.5 570.7,1212.8 571.3,1218.7C571.9,1224.6 573.1,1226.5 573.9,1232.8C574.7,1239.0 576.7,1248.7 576.2,1256.2C575.7,1263.7 570.4,1270.9 570.6,1277.8C570.9,1284.7 576.8,1291.6 577.9,1297.5C579.0,1303.5 578.2,1307.5 577.3,1313.4C576.4,1319.4 572.3,1327.5 572.3,1333.5C572.4,1339.4 576.7,1346.4 577.6,1349.0 M572.1,1348.4C572.3,1345.5 572.7,1336.0 573.4,1330.8C574.1,1325.7 576.2,1323.4 576.3,1317.4C576.4,1311.4 574.9,1301.6 574.0,1294.9C573.1,1288.2 570.8,1284.1 570.7,1277.4C570.7,1270.8 572.3,1262.7 573.6,1254.8C574.9,1246.9 578.8,1236.4 578.5,1229.9C578.2,1223.4 573.0,1221.2 571.8,1215.7C570.5,1210.2 571.3,1204.0 571.0,1197.1C570.7,1190.1 569.6,1180.6 570.1,1174.0C570.6,1167.5 574.3,1163.7 574.2,1157.7C574.1,1151.7 570.3,1141.4 569.5,1138.1 M583.9,1135.2C584.1,1137.9 584.6,1144.8 584.9,1151.1C585.2,1157.4 586.5,1166.0 585.8,1173.2C585.1,1180.5 580.7,1188.0 580.6,1194.5C580.6,1201.0 585.0,1206.0 585.4,1212.4C585.9,1218.9 583.2,1225.9 583.2,1233.2C583.2,1240.4 585.8,1249.5 585.4,1256.0C585.1,1262.5 581.3,1265.7 581.1,1272.2C581.0,1278.8 584.0,1288.7 584.7,1295.5C585.4,1302.2 584.6,1306.9 585.3,1312.7C585.9,1318.5 589.7,1324.4 588.4,1330.2C587.1,1336.1 579.2,1344.7 577.4,1347.6 M579.7,1350.2C580.7,1347.3 585.8,1339.0 586.1,1332.8C586.3,1326.5 581.4,1319.3 581.1,1312.6C580.9,1305.9 585.0,1300.0 584.8,1292.6C584.7,1285.2 581.5,1273.8 580.2,1268.2C579.0,1262.5 577.3,1264.0 577.3,1258.7C577.3,1253.5 579.7,1244.7 580.3,1236.7C580.9,1228.7 580.8,1217.3 580.8,1210.6C580.8,1203.9 580.4,1202.4 580.2,1196.5C580.1,1190.6 581.0,1181.3 580.1,1175.4C579.1,1169.5 573.8,1167.1 574.6,1160.9C575.4,1154.7 583.3,1142.1 585.1,1138.3 M559.9,1134.1C563.8,1134.9 576.1,1138.3 583.3,1139.1C590.4,1139.9 595.2,1138.2 602.7,1139.0C610.3,1139.7 620.4,1142.0 628.6,1143.7C636.9,1145.4 644.4,1148.1 652.3,1149.2C660.1,1150.3 667.8,1149.0 675.7,1150.3C683.5,1151.5 692.1,1154.9 699.2,1156.8C706.2,1158.8 710.2,1161.4 717.8,1162.1C725.3,1162.7 736.2,1159.9 744.7,1160.6C753.2,1161.4 764.7,1165.6 768.7,1166.6 M556.5,1133.8C561.0,1135.2 574.5,1140.8 583.1,1142.1C591.7,1143.4 600.4,1141.3 607.9,1141.7C615.5,1142.1 621.0,1143.7 628.2,1144.4C635.4,1145.1 643.6,1144.8 651.0,1145.8C658.4,1146.9 664.3,1149.2 672.6,1150.5C680.8,1151.8 692.7,1151.3 700.7,1153.8C708.8,1156.2 714.4,1163.5 721.0,1165.1C727.5,1166.6 733.2,1162.0 740.1,1162.9C746.9,1163.9 758.4,1169.5 762.1,1170.8 M560.1,1138.2C563.8,1138.3 574.4,1137.9 581.9,1139.3C589.4,1140.6 598.2,1145.6 605.4,1146.1C612.6,1146.7 617.7,1142.4 625.1,1142.5C632.6,1142.7 641.9,1144.8 649.9,1147.3C658.0,1149.7 666.1,1155.7 673.3,1157.0C680.5,1158.4 684.6,1154.3 693.0,1155.3C701.4,1156.2 714.5,1161.8 723.7,1162.9C732.9,1164.0 741.2,1160.9 748.2,1162.0C755.2,1163.2 762.8,1168.3 765.7,1169.6 M563.1,1135.0C565.9,1135.5 572.1,1137.4 579.7,1138.2C587.3,1139.0 600.3,1138.7 608.8,1139.7C617.4,1140.6 623.6,1142.3 631.0,1143.8C638.4,1145.4 645.7,1147.3 653.1,1148.9C660.4,1150.5 667.3,1151.6 675.0,1153.4C682.8,1155.1 691.2,1158.9 699.4,1159.5C707.6,1160.2 716.2,1155.8 724.1,1157.2C732.1,1158.6 739.3,1165.6 747.1,1168.1C754.8,1170.5 766.8,1171.2 770.7,1171.8 M556.8,1138.9C560.8,1139.6 572.3,1143.1 580.8,1143.6C589.3,1144.0 600.1,1141.1 607.6,1141.7C615.1,1142.3 618.1,1145.8 625.8,1147.1C633.5,1148.5 647.2,1148.8 653.8,1149.9C660.3,1151.0 658.2,1152.4 665.3,1153.6C672.5,1154.9 686.7,1156.7 696.6,1157.6C706.5,1158.5 717.9,1158.1 724.8,1158.9C731.7,1159.6 730.7,1160.9 738.2,1162.1C745.7,1163.2 764.5,1165.2 769.7,1165.8 " stroke="#ec4a72" stroke-opacity="0.42" stroke-width="0.85" fill="none" clip-path="url(#cb)"/>
<path d="M1042.6,1355.6C1041.5,1355.6 1037.8,1355.2 1036.1,1355.2C1034.4,1355.1 1035.1,1355.2 1032.6,1355.3C1030.1,1355.4 1024.0,1355.8 1021.4,1355.7C1018.7,1355.7 1018.7,1355.2 1016.7,1354.9C1014.7,1354.6 1011.8,1354.2 1009.3,1354.0C1006.8,1353.8 1004.3,1354.0 1002.0,1353.7C999.7,1353.4 997.3,1352.6 995.5,1352.4C993.8,1352.1 992.1,1352.4 991.5,1352.2C991.0,1352.0 992.1,1351.5 992.1,1351.0C992.1,1350.5 991.6,1349.6 991.5,1349.3C991.4,1348.9 990.9,1349.4 991.4,1349.0C991.9,1348.7 993.9,1347.7 994.5,1347.1C995.0,1346.5 994.1,1345.8 994.8,1345.3C995.4,1344.8 997.3,1344.1 998.4,1344.1C999.5,1344.0 1000.2,1345.0 1001.5,1345.0C1002.7,1344.9 1003.0,1344.3 1005.6,1343.8C1008.3,1343.3 1014.0,1342.4 1017.1,1342.1C1020.2,1341.7 1021.8,1342.0 1024.5,1341.8C1027.2,1341.6 1031.0,1341.0 1033.2,1340.7C1035.4,1340.5 1035.8,1340.3 1037.8,1340.2C1039.7,1340.1 1042.3,1340.2 1044.8,1340.3C1047.3,1340.4 1050.7,1341.0 1052.9,1340.9C1055.1,1340.8 1055.7,1340.1 1058.0,1339.9C1060.3,1339.6 1063.2,1339.6 1066.6,1339.6C1069.9,1339.5 1076.1,1339.3 1078.2,1339.7C1080.3,1340.0 1077.7,1341.3 1079.2,1341.6C1080.7,1341.9 1085.5,1341.2 1087.1,1341.5C1088.8,1341.7 1088.9,1342.7 1089.1,1343.2C1089.3,1343.7 1088.3,1344.1 1088.6,1344.4C1088.9,1344.7 1090.8,1344.7 1090.8,1345.2C1090.9,1345.7 1088.9,1347.1 1088.9,1347.3C1088.8,1347.6 1091.0,1346.3 1090.7,1346.8C1090.5,1347.2 1089.1,1349.3 1087.2,1350.0C1085.3,1350.6 1081.3,1350.4 1079.1,1350.9C1076.9,1351.4 1075.7,1352.5 1074.1,1352.8C1072.4,1353.0 1071.4,1352.5 1069.4,1352.6C1067.3,1352.7 1064.2,1353.3 1061.8,1353.5C1059.3,1353.7 1056.3,1353.8 1054.6,1353.8C1052.8,1353.8 1055.0,1353.3 1051.3,1353.6C1047.6,1353.8 1035.7,1355.1 1032.4,1355.4C1029.1,1355.7 1032.8,1355.6 1031.4,1355.6C1030.0,1355.6 1026.0,1355.3 1023.7,1355.3C1021.4,1355.3 1020.0,1355.8 1017.6,1355.7C1015.3,1355.6 1010.9,1354.8 1009.5,1354.6 M1109.2,1348.7C1109.3,1348.6 1111.2,1347.9 1110.0,1348.1C1108.8,1348.3 1104.0,1349.6 1102.0,1349.9C1099.9,1350.3 1099.5,1349.9 1097.6,1350.2C1095.7,1350.5 1092.1,1351.3 1090.6,1351.6C1089.1,1352.0 1091.1,1352.0 1088.7,1352.4C1086.2,1352.8 1078.8,1353.7 1075.9,1354.0C1073.0,1354.4 1072.9,1354.6 1071.1,1354.6C1069.3,1354.7 1068.0,1354.3 1065.2,1354.4C1062.4,1354.4 1057.7,1354.6 1054.2,1354.8C1050.6,1354.9 1046.2,1355.3 1044.0,1355.3C1041.9,1355.3 1043.7,1354.9 1041.5,1354.7C1039.3,1354.5 1034.0,1354.4 1031.0,1354.2C1028.0,1354.0 1025.6,1353.6 1023.5,1353.3C1021.5,1353.1 1020.4,1352.9 1018.9,1352.6C1017.3,1352.2 1015.4,1351.5 1014.4,1351.3C1013.4,1351.1 1013.9,1351.6 1012.8,1351.2C1011.7,1350.8 1008.2,1349.1 1007.7,1348.8C1007.1,1348.5 1009.3,1349.8 1009.4,1349.6C1009.6,1349.4 1008.3,1347.9 1008.5,1347.5C1008.8,1347.0 1010.0,1347.2 1010.9,1346.9C1011.7,1346.6 1012.0,1346.3 1013.3,1345.9C1014.7,1345.5 1017.0,1345.2 1019.0,1344.6C1020.9,1344.1 1023.5,1343.3 1025.1,1342.8C1026.6,1342.3 1026.2,1341.9 1028.3,1341.7C1030.5,1341.4 1034.9,1341.8 1038.0,1341.5C1041.0,1341.2 1043.8,1340.1 1046.7,1340.0C1049.6,1339.8 1052.6,1340.5 1055.1,1340.4C1057.7,1340.3 1059.7,1339.3 1062.2,1339.2C1064.7,1339.1 1067.0,1339.9 1070.0,1339.8C1072.9,1339.8 1077.0,1338.9 1079.8,1338.8C1082.7,1338.7 1085.0,1338.9 1087.0,1339.3C1089.0,1339.6 1089.3,1340.7 1091.6,1340.8C1093.9,1341.0 1098.7,1340.0 1100.9,1340.1C1103.0,1340.3 1103.5,1341.3 1104.5,1341.7C1105.5,1342.0 1105.6,1342.2 1107.0,1342.3C1108.3,1342.3 1111.4,1341.8 1112.4,1342.2C1113.5,1342.6 1113.1,1344.4 1113.3,1344.9C1113.5,1345.3 1114.0,1344.6 1113.8,1344.8C1113.7,1345.0 1112.9,1345.7 1112.3,1346.3C1111.8,1346.9 1111.5,1348.0 1110.5,1348.4C1109.5,1348.9 1107.9,1348.4 1106.1,1348.9C1104.3,1349.3 1101.8,1350.5 1099.7,1351.0C1097.6,1351.6 1095.0,1351.7 1093.3,1351.9C1091.6,1352.1 1090.7,1352.1 1089.5,1352.3C1088.3,1352.5 1088.1,1353.1 1086.1,1353.2C1084.1,1353.2 1081.9,1352.3 1077.7,1352.6C1073.4,1352.9 1063.7,1354.9 1060.5,1355.2C1057.2,1355.5 1060.2,1354.8 1058.2,1354.5C1056.2,1354.3 1050.1,1353.8 1048.5,1353.7 M1012.9,1343.6C1014.0,1343.5 1017.4,1343.3 1019.3,1343.2C1021.2,1343.1 1022.2,1342.8 1024.4,1342.8C1026.6,1342.7 1029.6,1342.9 1032.3,1342.9C1035.1,1342.9 1038.2,1342.8 1040.9,1342.8C1043.7,1342.9 1046.5,1343.0 1048.6,1343.1C1050.7,1343.2 1051.5,1343.3 1053.5,1343.5C1055.4,1343.7 1058.7,1344.0 1060.4,1344.3C1062.0,1344.5 1062.6,1344.9 1063.6,1345.0C1064.6,1345.1 1065.8,1344.7 1066.5,1344.9C1067.2,1345.1 1066.9,1346.0 1068.0,1346.3C1069.1,1346.5 1071.8,1346.1 1073.2,1346.4C1074.5,1346.7 1076.0,1347.8 1076.2,1348.0C1076.4,1348.3 1074.2,1347.9 1074.3,1348.1C1074.3,1348.2 1076.6,1348.7 1076.4,1348.9C1076.1,1349.1 1073.1,1348.9 1072.8,1349.2C1072.6,1349.5 1075.0,1350.5 1075.1,1350.6C1075.1,1350.8 1074.6,1350.3 1073.2,1350.4C1071.8,1350.4 1068.9,1351.0 1066.6,1351.1C1064.3,1351.2 1060.9,1350.8 1059.3,1350.9C1057.8,1351.1 1059.0,1351.7 1057.4,1351.9C1055.9,1352.2 1052.5,1352.4 1049.9,1352.4C1047.3,1352.5 1044.2,1352.3 1042.1,1352.2C1039.9,1352.2 1039.0,1352.1 1037.2,1352.0C1035.4,1352.0 1033.4,1352.0 1031.3,1352.0C1029.2,1351.9 1026.1,1351.9 1024.4,1351.7C1022.7,1351.6 1022.8,1351.3 1021.0,1351.2C1019.1,1351.1 1016.0,1351.2 1013.6,1351.1C1011.1,1350.9 1008.2,1350.7 1006.0,1350.5C1003.9,1350.4 1002.1,1350.3 1000.6,1350.1C999.1,1349.8 997.7,1349.0 997.0,1348.8C996.2,1348.6 996.4,1348.8 996.1,1348.6C995.8,1348.5 995.9,1348.3 995.3,1347.9C994.7,1347.6 992.8,1346.8 992.6,1346.5C992.5,1346.2 994.1,1346.4 994.2,1346.3C994.2,1346.2 992.5,1346.1 993.0,1345.8C993.5,1345.5 995.9,1344.9 997.3,1344.5C998.6,1344.2 1000.0,1344.0 1000.9,1343.9C1001.9,1343.8 1001.9,1344.0 1002.9,1344.0C1003.8,1343.9 1005.0,1343.5 1006.7,1343.4C1008.3,1343.3 1010.4,1343.5 1012.6,1343.4C1014.7,1343.3 1017.7,1343.2 1019.7,1343.1C1021.7,1343.0 1022.2,1342.8 1024.8,1342.8C1027.5,1342.8 1033.5,1343.1 1035.6,1343.2C1037.7,1343.3 1037.2,1343.4 1037.5,1343.4 M1081.0,1339.6C1080.9,1340.2 1080.1,1342.2 1080.6,1343.2C1081.0,1344.1 1083.8,1344.9 1083.7,1345.1C1083.6,1345.3 1080.4,1343.9 1079.9,1344.1C1079.5,1344.3 1081.5,1345.5 1081.2,1346.2C1080.9,1346.8 1079.0,1347.1 1078.4,1348.0C1077.7,1348.8 1078.2,1350.7 1077.2,1351.3C1076.3,1352.0 1074.3,1351.7 1072.7,1352.0C1071.0,1352.2 1069.0,1352.5 1067.3,1352.9C1065.6,1353.2 1064.3,1354.0 1062.6,1354.3C1060.9,1354.5 1058.6,1354.2 1057.1,1354.4C1055.5,1354.5 1055.1,1355.1 1053.3,1355.4C1051.5,1355.8 1049.0,1356.8 1046.2,1356.4C1043.4,1356.1 1038.5,1353.9 1036.4,1353.6C1034.3,1353.2 1035.4,1354.3 1033.6,1354.3C1031.8,1354.4 1028.1,1354.1 1025.9,1353.7C1023.7,1353.3 1022.3,1352.3 1020.5,1351.9C1018.8,1351.6 1016.9,1352.0 1015.3,1351.4C1013.8,1350.8 1012.3,1348.7 1011.3,1348.4C1010.3,1348.0 1010.7,1349.5 1009.3,1349.2C1007.8,1348.9 1003.7,1347.1 1002.8,1346.5C1002.0,1346.0 1004.0,1346.3 1004.1,1346.0C1004.2,1345.8 1003.5,1345.8 1003.5,1344.9C1003.5,1344.1 1004.0,1341.8 1004.1,1341.1C1004.3,1340.4 1004.0,1341.2 1004.5,1340.9C1005.0,1340.6 1005.7,1339.9 1007.1,1339.4C1008.5,1338.9 1011.3,1338.4 1013.0,1337.8C1014.7,1337.2 1015.9,1336.4 1017.2,1335.8C1018.4,1335.3 1019.2,1334.9 1020.5,1334.4C1021.8,1333.9 1023.2,1333.0 1025.0,1332.7C1026.7,1332.4 1029.1,1332.5 1030.9,1332.6C1032.7,1332.7 1033.4,1333.3 1035.7,1333.4C1038.1,1333.5 1042.1,1332.8 1044.9,1333.0C1047.8,1333.2 1050.4,1334.3 1052.6,1334.4C1054.8,1334.6 1056.9,1333.5 1058.2,1333.7C1059.4,1333.8 1058.2,1334.9 1059.8,1335.4C1061.5,1336.0 1065.7,1336.2 1067.8,1336.7C1070.0,1337.2 1071.3,1338.0 1072.5,1338.4C1073.8,1338.9 1074.4,1339.4 1075.2,1339.4C1076.0,1339.4 1076.5,1337.7 1077.2,1338.3C1078.0,1339.0 1079.6,1342.3 1079.9,1343.4C1080.2,1344.5 1079.2,1344.5 1079.0,1344.7 M1022.9,1341.5C1023.3,1341.4 1023.6,1340.9 1025.3,1340.7C1027.0,1340.4 1031.3,1340.3 1033.2,1340.2C1035.2,1340.1 1034.4,1340.0 1037.0,1339.9C1039.5,1339.9 1046.6,1340.1 1048.7,1339.8C1050.8,1339.5 1048.4,1338.6 1049.6,1338.3C1050.8,1338.1 1052.9,1338.4 1056.0,1338.2C1059.1,1338.0 1065.5,1337.3 1068.1,1337.3C1070.7,1337.3 1069.0,1338.0 1071.5,1338.1C1073.9,1338.2 1080.1,1337.9 1082.8,1337.8C1085.6,1337.6 1086.1,1337.1 1087.9,1337.3C1089.6,1337.5 1091.1,1338.6 1093.1,1339.2C1095.2,1339.7 1098.6,1340.5 1100.1,1340.5C1101.6,1340.5 1100.7,1339.3 1102.1,1339.4C1103.5,1339.4 1107.2,1340.5 1108.6,1341.0C1110.0,1341.6 1110.0,1342.1 1110.6,1342.6C1111.3,1343.1 1111.9,1343.8 1112.4,1343.9C1113.0,1344.1 1114.2,1343.0 1113.8,1343.4C1113.4,1343.7 1111.1,1345.7 1110.0,1346.2C1108.9,1346.8 1108.0,1346.6 1107.0,1346.7C1106.1,1346.8 1104.9,1346.6 1104.3,1346.9C1103.6,1347.2 1104.6,1348.1 1102.9,1348.4C1101.3,1348.8 1097.0,1349.1 1094.1,1349.2C1091.3,1349.3 1087.8,1348.9 1086.0,1349.0C1084.2,1349.1 1085.7,1349.6 1083.5,1349.9C1081.3,1350.1 1075.2,1350.3 1072.6,1350.5C1070.0,1350.7 1069.7,1351.1 1067.8,1351.1C1066.0,1351.1 1064.2,1350.5 1061.5,1350.4C1058.8,1350.2 1054.1,1350.3 1051.3,1350.4C1048.6,1350.5 1046.4,1350.9 1044.7,1350.9C1043.1,1350.9 1043.5,1350.7 1041.5,1350.4C1039.6,1350.1 1035.3,1349.5 1033.2,1349.1C1031.1,1348.8 1030.6,1348.8 1029.0,1348.4C1027.3,1348.0 1025.1,1347.1 1023.4,1347.0C1021.7,1346.9 1020.2,1348.0 1018.8,1347.7C1017.5,1347.4 1015.9,1345.6 1015.5,1345.3C1015.0,1345.0 1015.5,1346.1 1016.1,1345.9C1016.7,1345.7 1019.2,1344.3 1019.3,1343.8C1019.5,1343.4 1017.1,1343.3 1017.0,1343.0C1016.9,1342.7 1017.5,1342.6 1018.6,1342.1C1019.7,1341.7 1022.6,1340.7 1023.4,1340.4 M986.8,1342.6C988.1,1342.7 993.0,1343.4 994.8,1343.2C996.7,1343.1 995.8,1342.0 997.7,1341.7C999.5,1341.4 1003.7,1341.4 1005.9,1341.4C1008.0,1341.4 1008.4,1341.8 1010.4,1341.7C1012.4,1341.6 1015.0,1340.9 1017.8,1340.7C1020.6,1340.5 1024.0,1340.5 1027.2,1340.6C1030.4,1340.7 1033.2,1341.1 1036.9,1341.3C1040.6,1341.5 1046.4,1341.7 1049.4,1341.7C1052.4,1341.6 1052.7,1341.2 1054.9,1341.2C1057.2,1341.2 1060.3,1341.5 1062.9,1341.8C1065.5,1342.1 1067.9,1342.9 1070.4,1343.1C1072.9,1343.4 1076.0,1343.2 1077.8,1343.3C1079.7,1343.5 1079.8,1343.9 1081.5,1344.1C1083.2,1344.3 1086.6,1344.3 1088.0,1344.6C1089.5,1344.9 1089.8,1345.8 1090.0,1346.1C1090.3,1346.4 1089.3,1346.1 1089.5,1346.4C1089.7,1346.7 1090.4,1347.7 1091.2,1348.0C1092.0,1348.4 1094.2,1348.3 1094.3,1348.5C1094.3,1348.7 1092.7,1349.0 1091.6,1349.1C1090.5,1349.2 1089.3,1348.8 1087.8,1349.0C1086.4,1349.3 1085.4,1350.2 1082.9,1350.5C1080.5,1350.8 1075.3,1351.0 1073.3,1351.0C1071.3,1351.0 1073.1,1350.5 1071.0,1350.5C1069.0,1350.5 1063.9,1351.0 1060.8,1351.2C1057.7,1351.4 1055.5,1351.5 1052.4,1351.6C1049.3,1351.6 1044.8,1351.2 1042.1,1351.2C1039.5,1351.2 1039.0,1351.6 1036.6,1351.5C1034.1,1351.5 1030.1,1351.1 1027.5,1350.8C1024.8,1350.5 1022.8,1349.9 1020.4,1349.7C1018.0,1349.6 1016.2,1350.0 1013.0,1349.9C1009.8,1349.8 1004.2,1349.5 1001.0,1349.1C997.7,1348.8 995.0,1348.0 993.4,1347.7C991.8,1347.5 992.1,1347.7 991.5,1347.6C990.8,1347.4 991.2,1347.0 989.7,1346.7C988.3,1346.5 982.9,1346.0 982.6,1345.8C982.2,1345.6 987.8,1345.8 987.8,1345.5C987.8,1345.2 983.5,1344.5 982.8,1344.2C982.0,1343.9 983.1,1343.8 983.2,1343.7 M1060.7,1353.7C1058.7,1353.7 1052.6,1353.6 1048.5,1353.7C1044.4,1353.7 1038.8,1353.9 1036.3,1354.0C1033.9,1354.1 1035.5,1354.5 1033.7,1354.5C1031.8,1354.4 1027.7,1353.8 1025.1,1353.8C1022.5,1353.8 1020.9,1354.5 1018.2,1354.6C1015.5,1354.6 1012.3,1354.5 1008.8,1354.3C1005.3,1354.0 999.5,1353.2 997.1,1353.2C994.6,1353.1 995.2,1354.1 994.2,1353.8C993.2,1353.5 991.8,1352.0 991.0,1351.4C990.3,1350.7 990.1,1350.3 989.7,1349.9C989.3,1349.5 989.6,1349.4 988.7,1349.0C987.9,1348.6 984.9,1348.3 984.6,1347.7C984.3,1347.1 986.3,1346.0 986.9,1345.6C987.6,1345.2 988.0,1345.5 988.5,1345.2C989.1,1344.9 989.2,1344.1 990.3,1343.8C991.4,1343.5 993.2,1343.7 995.0,1343.4C996.9,1343.2 999.2,1342.7 1001.3,1342.4C1003.5,1342.1 1005.9,1342.3 1007.9,1341.8C1009.8,1341.4 1011.1,1339.9 1012.9,1339.7C1014.8,1339.4 1016.2,1340.2 1019.0,1340.2C1021.7,1340.2 1026.0,1340.2 1029.3,1339.9C1032.6,1339.5 1035.4,1338.2 1038.8,1338.2C1042.1,1338.2 1046.5,1339.9 1049.3,1339.9C1052.1,1339.9 1053.2,1338.3 1055.3,1338.2C1057.4,1338.2 1059.4,1339.5 1061.9,1339.7C1064.3,1339.9 1066.9,1339.2 1069.8,1339.3C1072.6,1339.4 1076.8,1339.9 1079.1,1340.2C1081.4,1340.4 1082.2,1340.3 1083.4,1340.7C1084.6,1341.0 1085.0,1341.6 1086.3,1342.1C1087.6,1342.5 1090.4,1343.0 1091.3,1343.4C1092.2,1343.8 1091.3,1344.1 1091.8,1344.4C1092.4,1344.8 1094.2,1345.0 1094.6,1345.4C1094.9,1345.9 1094.6,1346.9 1094.0,1347.3C1093.4,1347.7 1092.6,1347.6 1091.1,1348.0C1089.6,1348.3 1086.6,1349.1 1085.1,1349.4C1083.7,1349.8 1084.1,1349.8 1082.4,1350.2C1080.7,1350.6 1076.2,1351.4 1075.1,1351.8C1074.0,1352.2 1077.8,1352.2 1075.8,1352.5C1073.8,1352.8 1066.7,1353.2 1063.0,1353.5C1059.3,1353.7 1056.5,1353.9 1053.5,1354.0C1050.5,1354.0 1047.4,1353.8 1044.9,1354.0C1042.3,1354.1 1040.9,1354.7 1038.2,1354.7C1035.6,1354.8 1031.7,1354.4 1028.9,1354.2C1026.1,1354.1 1022.6,1353.9 1021.4,1353.9 M1085.6,1339.5C1086.1,1339.4 1088.0,1338.8 1088.5,1339.2C1089.0,1339.7 1088.7,1341.7 1088.5,1342.1C1088.3,1342.5 1087.4,1341.1 1087.3,1341.6C1087.3,1342.0 1088.2,1344.2 1088.1,1345.0C1088.1,1345.9 1087.8,1346.1 1087.2,1346.7C1086.5,1347.3 1084.8,1347.8 1084.1,1348.4C1083.3,1348.9 1083.7,1349.6 1082.5,1350.0C1081.3,1350.3 1078.5,1350.3 1076.9,1350.6C1075.3,1350.9 1074.6,1351.7 1072.9,1351.9C1071.2,1352.0 1069.0,1351.0 1066.9,1351.3C1064.8,1351.6 1062.6,1352.9 1060.4,1353.6C1058.1,1354.3 1055.3,1355.1 1053.3,1355.2C1051.4,1355.3 1050.5,1354.1 1048.5,1354.2C1046.5,1354.3 1043.0,1355.8 1041.1,1355.8C1039.3,1355.9 1039.2,1354.7 1037.3,1354.5C1035.3,1354.3 1031.3,1354.9 1029.6,1354.5C1027.8,1354.2 1028.0,1353.1 1026.7,1352.4C1025.3,1351.7 1022.6,1350.8 1021.4,1350.3C1020.1,1349.8 1019.8,1349.8 1019.1,1349.5C1018.3,1349.2 1017.8,1348.9 1016.7,1348.6C1015.7,1348.4 1013.4,1348.5 1012.8,1347.9C1012.2,1347.3 1013.2,1345.6 1013.2,1345.1C1013.3,1344.6 1012.9,1345.4 1013.1,1344.9C1013.2,1344.3 1013.4,1342.4 1013.9,1341.7C1014.4,1340.9 1015.3,1340.7 1016.0,1340.4C1016.8,1340.1 1017.4,1340.1 1018.6,1339.7C1019.7,1339.3 1022.0,1338.5 1023.1,1338.1C1024.3,1337.7 1023.7,1337.8 1025.2,1337.4C1026.8,1337.0 1030.3,1335.8 1032.5,1335.7C1034.8,1335.5 1037.1,1337.1 1038.7,1336.7C1040.4,1336.3 1040.2,1333.8 1042.3,1333.3C1044.5,1332.8 1048.9,1333.5 1051.5,1333.5C1054.2,1333.5 1056.7,1333.0 1058.4,1333.2C1060.1,1333.5 1059.9,1334.6 1061.7,1334.9C1063.6,1335.2 1067.4,1334.9 1069.5,1335.0C1071.5,1335.0 1072.7,1335.0 1074.0,1335.2C1075.3,1335.4 1075.6,1335.6 1077.3,1336.1C1078.9,1336.5 1082.5,1337.3 1083.8,1337.8C1085.1,1338.2 1084.3,1338.3 1085.1,1338.8C1085.9,1339.3 1088.0,1340.5 1088.6,1340.9 M1028.2,1346.2C1028.7,1345.8 1030.8,1344.5 1031.6,1343.8C1032.4,1343.2 1032.0,1343.0 1033.1,1342.3C1034.2,1341.7 1036.3,1340.3 1038.3,1339.9C1040.2,1339.5 1042.6,1340.0 1044.8,1340.0C1047.1,1340.0 1049.7,1340.2 1051.9,1340.0C1054.0,1339.9 1055.3,1339.2 1057.9,1339.2C1060.6,1339.2 1065.5,1339.6 1067.7,1340.0C1069.8,1340.4 1069.1,1341.5 1070.7,1341.6C1072.2,1341.8 1075.2,1340.8 1077.0,1341.0C1078.7,1341.2 1080.2,1342.8 1081.4,1342.9C1082.6,1343.0 1082.7,1341.7 1084.2,1341.6C1085.7,1341.4 1089.0,1341.2 1090.4,1341.9C1091.8,1342.6 1091.6,1345.1 1092.5,1345.8C1093.4,1346.6 1094.6,1346.4 1095.7,1346.6C1096.9,1346.8 1098.7,1346.6 1099.4,1347.1C1100.0,1347.5 1100.0,1348.5 1099.7,1349.1C1099.3,1349.8 1097.8,1350.4 1097.5,1351.0C1097.3,1351.5 1098.5,1351.8 1098.1,1352.5C1097.7,1353.2 1095.7,1354.5 1095.3,1355.1C1094.8,1355.7 1096.2,1356.0 1095.2,1356.2C1094.3,1356.4 1091.6,1356.0 1089.7,1356.1C1087.9,1356.3 1085.8,1356.5 1084.3,1357.1C1082.8,1357.7 1082.2,1359.2 1080.9,1359.6C1079.6,1360.1 1078.5,1359.5 1076.5,1359.5C1074.5,1359.6 1070.9,1359.9 1068.7,1360.1C1066.5,1360.2 1065.0,1360.7 1063.5,1360.6C1061.9,1360.5 1061.0,1359.9 1059.5,1359.5C1057.9,1359.0 1057.2,1358.2 1054.4,1358.0C1051.6,1357.7 1045.4,1357.7 1042.7,1357.7C1040.1,1357.7 1039.2,1358.1 1038.5,1358.0C1037.8,1357.8 1039.3,1357.0 1038.4,1356.6C1037.4,1356.2 1034.4,1356.1 1032.7,1355.6C1030.9,1355.2 1028.4,1354.1 1027.7,1353.7C1027.0,1353.3 1029.2,1353.1 1028.3,1353.1C1027.4,1353.0 1023.1,1353.8 1022.1,1353.3C1021.1,1352.8 1022.4,1350.7 1022.5,1350.2 M1049.4,1343.7C1051.6,1343.7 1059.6,1343.6 1062.5,1343.7C1065.3,1343.7 1064.9,1343.8 1066.6,1343.9C1068.3,1344.0 1070.1,1344.2 1072.5,1344.1C1074.9,1344.1 1078.4,1343.4 1081.1,1343.5C1083.8,1343.5 1086.9,1344.1 1088.8,1344.3C1090.7,1344.5 1090.7,1344.4 1092.6,1344.6C1094.4,1344.8 1098.6,1345.6 1099.9,1345.6C1101.2,1345.6 1098.9,1344.6 1100.4,1344.7C1101.8,1344.8 1107.7,1345.8 1108.6,1346.2C1109.4,1346.6 1106.1,1346.9 1105.7,1347.3C1105.3,1347.6 1106.4,1348.1 1106.2,1348.3C1105.9,1348.5 1104.6,1348.3 1103.9,1348.6C1103.3,1348.9 1102.6,1349.7 1102.1,1350.0C1101.6,1350.4 1101.3,1350.5 1100.9,1350.6C1100.6,1350.7 1101.4,1350.2 1099.9,1350.4C1098.4,1350.6 1094.2,1351.5 1091.9,1351.8C1089.7,1352.1 1088.4,1351.8 1086.6,1352.0C1084.9,1352.2 1084.1,1352.7 1081.6,1352.9C1079.2,1353.0 1074.4,1352.8 1072.0,1352.9C1069.5,1352.9 1069.2,1353.2 1066.9,1353.2C1064.7,1353.2 1060.7,1352.8 1058.5,1352.8C1056.4,1352.8 1056.5,1353.1 1054.1,1353.1C1051.7,1353.2 1047.0,1353.1 1044.2,1353.1C1041.3,1353.1 1039.5,1353.0 1037.0,1352.9C1034.6,1352.9 1030.8,1352.8 1029.2,1352.7C1027.6,1352.6 1028.8,1352.3 1027.6,1352.2C1026.4,1352.0 1023.9,1351.8 1022.2,1351.7C1020.5,1351.6 1018.8,1351.8 1017.4,1351.5C1015.9,1351.3 1013.9,1350.6 1013.6,1350.3C1013.3,1350.0 1015.8,1349.8 1015.5,1349.5C1015.2,1349.1 1011.2,1348.6 1011.6,1348.2C1011.9,1347.9 1016.6,1347.6 1017.5,1347.4C1018.4,1347.3 1016.4,1347.6 1016.9,1347.3C1017.4,1347.0 1019.7,1345.9 1020.4,1345.6C1021.1,1345.4 1019.8,1345.8 1021.1,1345.7C1022.5,1345.5 1026.0,1345.1 1028.5,1345.0C1031.0,1344.8 1034.2,1344.8 1036.2,1344.6C1038.1,1344.3 1037.6,1343.6 1040.2,1343.5C1042.8,1343.3 1049.1,1343.6 1051.5,1343.5C1054.0,1343.4 1054.4,1342.9 1055.0,1342.8 M1075.6,1340.4C1076.8,1340.5 1081.4,1341.2 1083.1,1341.0C1084.7,1340.7 1084.3,1338.9 1085.5,1339.1C1086.7,1339.3 1088.8,1341.4 1090.3,1342.3C1091.7,1343.2 1092.9,1344.1 1094.3,1344.5C1095.7,1344.8 1097.5,1343.9 1098.5,1344.3C1099.6,1344.6 1100.4,1345.7 1100.7,1346.5C1100.9,1347.3 1100.4,1348.5 1099.9,1349.2C1099.5,1349.9 1097.8,1350.7 1098.0,1350.8C1098.2,1350.9 1101.2,1349.4 1101.0,1349.8C1100.9,1350.2 1098.5,1352.2 1097.1,1353.0C1095.7,1353.7 1094.0,1353.6 1092.7,1354.1C1091.4,1354.6 1090.7,1355.8 1089.5,1356.0C1088.2,1356.2 1086.4,1354.9 1085.4,1355.4C1084.3,1355.8 1084.9,1358.1 1083.0,1358.8C1081.2,1359.5 1076.1,1359.7 1074.4,1359.6C1072.7,1359.5 1074.7,1358.2 1072.8,1358.1C1070.9,1358.1 1065.4,1359.1 1063.0,1359.3C1060.6,1359.5 1060.7,1359.3 1058.4,1359.5C1056.2,1359.7 1051.6,1360.6 1049.5,1360.6C1047.3,1360.6 1046.3,1360.2 1045.4,1359.7C1044.5,1359.2 1045.8,1357.9 1044.1,1357.7C1042.4,1357.4 1037.3,1358.3 1035.2,1358.2C1033.1,1358.0 1032.7,1356.8 1031.6,1356.7C1030.5,1356.5 1029.2,1357.7 1028.5,1357.2C1027.7,1356.8 1027.6,1354.6 1027.0,1353.8C1026.3,1352.9 1025.6,1352.9 1024.6,1352.3C1023.7,1351.7 1021.2,1350.9 1021.4,1350.2C1021.5,1349.4 1024.7,1348.2 1025.4,1347.7C1026.1,1347.2 1025.4,1347.1 1025.7,1347.0C1026.0,1347.0 1026.1,1348.1 1027.2,1347.6C1028.3,1347.2 1031.1,1345.2 1032.2,1344.4C1033.3,1343.6 1032.7,1343.4 1033.9,1342.9C1035.0,1342.4 1037.3,1341.6 1039.2,1341.6C1041.2,1341.6 1043.1,1342.8 1045.3,1342.8C1047.5,1342.7 1050.4,1341.5 1052.7,1341.4C1054.9,1341.2 1057.2,1342.3 1058.7,1341.8C1060.2,1341.3 1059.9,1338.7 1061.6,1338.3C1063.3,1337.9 1066.9,1339.4 1069.0,1339.6C1071.2,1339.7 1072.6,1338.8 1074.7,1339.1C1076.7,1339.5 1079.5,1341.3 1081.3,1341.6C1083.2,1341.9 1084.0,1340.8 1085.8,1340.8C1087.5,1340.8 1090.6,1341.2 1091.8,1341.7C1093.1,1342.1 1093.1,1342.7 1093.3,1343.4C1093.6,1344.2 1092.5,1345.6 1093.5,1346.1C1094.4,1346.6 1098.1,1346.4 1099.0,1346.4 M1071.8,1356.0C1071.4,1356.0 1070.1,1355.9 1069.4,1355.7C1068.7,1355.6 1069.7,1354.9 1067.6,1355.1C1065.5,1355.3 1060.3,1356.1 1056.7,1356.8C1053.1,1357.5 1048.9,1358.9 1046.0,1359.0C1043.0,1359.1 1040.8,1357.8 1039.0,1357.5C1037.1,1357.2 1036.8,1357.2 1034.8,1357.3C1032.8,1357.3 1028.8,1358.3 1026.8,1357.9C1024.9,1357.4 1024.9,1355.2 1022.9,1354.8C1020.9,1354.3 1017.0,1355.3 1014.9,1355.2C1012.9,1355.1 1011.4,1354.7 1010.4,1354.2C1009.4,1353.6 1010.5,1352.6 1009.2,1351.9C1007.8,1351.1 1003.1,1350.3 1002.4,1349.8C1001.6,1349.3 1003.9,1349.2 1004.6,1348.8C1005.2,1348.3 1006.5,1347.5 1006.4,1347.1C1006.4,1346.7 1004.4,1346.9 1004.2,1346.4C1003.9,1346.0 1004.2,1345.1 1005.0,1344.4C1005.8,1343.7 1008.0,1342.9 1009.1,1342.3C1010.1,1341.7 1009.7,1341.0 1011.3,1340.6C1012.9,1340.1 1016.8,1340.4 1018.5,1339.5C1020.2,1338.7 1020.4,1336.1 1021.5,1335.6C1022.6,1335.0 1023.2,1336.1 1025.0,1336.2C1026.8,1336.2 1030.2,1336.0 1032.2,1335.9C1034.2,1335.8 1034.5,1335.4 1036.9,1335.5C1039.4,1335.6 1044.7,1336.2 1047.1,1336.3C1049.6,1336.4 1049.8,1336.3 1051.6,1336.3C1053.5,1336.2 1056.1,1336.0 1058.2,1336.1C1060.3,1336.2 1061.3,1336.9 1064.3,1337.0C1067.2,1337.0 1073.3,1336.5 1075.8,1336.4C1078.3,1336.3 1078.4,1335.6 1079.2,1336.4C1080.1,1337.2 1079.7,1340.5 1080.7,1341.3C1081.7,1342.0 1084.6,1340.6 1085.4,1340.7C1086.2,1340.8 1085.0,1341.2 1085.5,1341.8C1086.1,1342.5 1088.1,1343.6 1088.9,1344.5C1089.6,1345.4 1090.1,1346.9 1090.1,1347.4C1090.0,1347.8 1089.4,1347.0 1088.7,1347.2C1088.0,1347.3 1085.7,1347.8 1085.7,1348.3C1085.7,1348.7 1089.7,1349.4 1088.9,1350.1C1088.2,1350.7 1082.4,1351.9 1081.1,1352.2 M1070.0,1351.3C1069.8,1351.9 1070.2,1353.8 1068.4,1354.7C1066.6,1355.7 1061.0,1356.8 1059.2,1357.2C1057.3,1357.6 1058.8,1357.2 1057.3,1357.2C1055.8,1357.2 1052.3,1356.9 1050.3,1357.2C1048.2,1357.6 1046.6,1359.1 1045.2,1359.3C1043.8,1359.5 1043.5,1358.1 1041.9,1358.2C1040.4,1358.4 1038.1,1360.0 1036.0,1360.2C1034.0,1360.5 1031.8,1360.2 1029.7,1359.7C1027.6,1359.2 1025.2,1357.7 1023.4,1357.4C1021.7,1357.1 1020.5,1357.9 1019.1,1358.0C1017.7,1358.2 1016.7,1358.6 1015.1,1358.2C1013.6,1357.9 1011.1,1356.5 1009.9,1356.0C1008.7,1355.5 1008.9,1355.8 1007.8,1355.4C1006.8,1355.0 1005.2,1354.4 1003.6,1353.8C1002.1,1353.1 999.3,1352.1 998.4,1351.5C997.4,1350.9 997.5,1350.7 997.9,1350.0C998.4,1349.2 1000.5,1347.6 1001.1,1347.0C1001.8,1346.4 1001.6,1346.7 1001.7,1346.3C1001.8,1345.9 1000.9,1345.2 1001.5,1344.7C1002.1,1344.1 1004.7,1343.2 1005.1,1342.8C1005.6,1342.4 1003.3,1342.5 1004.3,1342.2C1005.2,1342.0 1008.9,1341.8 1010.9,1341.1C1012.9,1340.5 1014.8,1338.8 1016.4,1338.4C1018.1,1338.0 1019.3,1338.7 1020.9,1338.6C1022.5,1338.6 1024.0,1338.2 1025.9,1338.0C1027.8,1337.7 1030.2,1336.9 1032.1,1337.0C1034.0,1337.0 1035.6,1338.1 1037.2,1338.2C1038.8,1338.3 1039.9,1337.7 1041.6,1337.5C1043.3,1337.3 1045.3,1336.8 1047.2,1337.0C1049.1,1337.3 1051.0,1338.4 1053.3,1338.8C1055.6,1339.2 1059.0,1339.0 1060.8,1339.4C1062.6,1339.8 1063.2,1341.2 1064.2,1341.2C1065.1,1341.2 1065.5,1339.0 1066.4,1339.4C1067.2,1339.8 1068.7,1342.7 1069.2,1343.7C1069.7,1344.7 1068.5,1345.0 1069.3,1345.4C1070.1,1345.8 1073.6,1345.3 1073.9,1346.0C1074.2,1346.7 1072.0,1349.0 1071.1,1349.6C1070.2,1350.2 1068.6,1349.1 1068.4,1349.6C1068.1,1350.2 1069.6,1352.2 1069.6,1353.0C1069.6,1353.8 1068.8,1354.0 1068.3,1354.4C1067.8,1354.8 1068.3,1355.2 1066.5,1355.5C1064.6,1355.8 1058.7,1356.2 1057.2,1356.3 M1087.3,1351.5C1086.9,1351.6 1085.7,1351.8 1085.1,1352.0C1084.6,1352.2 1086.0,1352.4 1084.1,1352.6C1082.3,1352.8 1077.0,1352.9 1074.3,1353.2C1071.6,1353.5 1069.6,1354.4 1067.8,1354.5C1066.0,1354.7 1065.9,1354.4 1063.5,1354.3C1061.1,1354.2 1056.0,1354.0 1053.4,1353.7C1050.8,1353.5 1049.7,1353.1 1047.8,1353.1C1045.9,1353.0 1044.4,1353.2 1041.9,1353.3C1039.5,1353.4 1036.1,1353.7 1033.2,1353.7C1030.4,1353.7 1027.0,1353.4 1025.1,1353.3C1023.2,1353.3 1023.4,1353.6 1021.9,1353.5C1020.5,1353.4 1017.9,1353.2 1016.3,1352.8C1014.6,1352.4 1013.3,1351.6 1012.2,1351.2C1011.1,1350.7 1010.7,1350.4 1009.8,1350.2C1008.8,1350.0 1006.8,1350.1 1006.4,1349.9C1006.0,1349.6 1007.9,1349.1 1007.3,1348.8C1006.7,1348.6 1002.7,1348.7 1002.7,1348.4C1002.7,1348.1 1006.3,1347.2 1007.1,1346.8C1008.0,1346.5 1006.8,1346.6 1007.9,1346.4C1009.0,1346.2 1012.0,1345.8 1013.6,1345.7C1015.2,1345.5 1015.9,1345.6 1017.4,1345.3C1018.8,1345.1 1020.5,1344.5 1022.6,1344.2C1024.6,1344.0 1027.6,1344.3 1029.6,1344.1C1031.6,1343.9 1032.5,1343.3 1034.7,1343.1C1036.9,1342.9 1040.3,1342.8 1042.7,1342.7C1045.1,1342.6 1046.5,1342.2 1049.2,1342.4C1052.0,1342.6 1056.8,1343.5 1059.2,1343.7C1061.5,1343.9 1061.4,1343.6 1063.1,1343.5C1064.9,1343.5 1067.3,1343.1 1069.7,1343.2C1072.1,1343.3 1075.0,1344.0 1077.5,1344.1C1080.0,1344.1 1083.1,1343.5 1084.6,1343.7C1086.0,1343.9 1084.9,1344.8 1086.1,1345.3C1087.3,1345.8 1090.5,1346.8 1091.9,1347.0C1093.3,1347.2 1093.5,1346.6 1094.6,1346.6C1095.8,1346.5 1099.2,1346.0 1099.0,1346.5C1098.9,1347.1 1094.5,1349.3 1093.9,1349.8C1093.3,1350.3 1095.4,1349.5 1095.5,1349.5C1095.6,1349.5 1095.1,1349.8 1094.5,1349.9C1093.8,1350.1 1092.1,1350.5 1091.6,1350.6 M1091.9,1347.0C1090.2,1347.2 1084.2,1347.7 1081.8,1348.0C1079.3,1348.4 1079.4,1348.8 1077.4,1349.0C1075.4,1349.2 1071.7,1348.9 1069.8,1349.0C1067.9,1349.2 1067.9,1349.9 1066.0,1350.0C1064.1,1350.1 1061.2,1349.4 1058.5,1349.6C1055.7,1349.8 1051.7,1351.1 1049.5,1351.2C1047.2,1351.3 1046.7,1350.2 1045.0,1350.0C1043.4,1349.9 1042.3,1350.2 1039.6,1350.2C1037.0,1350.2 1031.5,1349.9 1029.2,1349.8C1026.9,1349.8 1027.9,1349.9 1025.9,1349.8C1023.9,1349.7 1020.0,1349.2 1017.4,1349.0C1014.9,1348.9 1011.9,1349.0 1010.6,1349.0C1009.3,1349.0 1010.4,1349.1 1009.6,1348.9C1008.7,1348.6 1005.7,1347.7 1005.4,1347.4C1005.1,1347.1 1007.9,1347.2 1007.7,1347.0C1007.6,1346.9 1004.5,1346.8 1004.5,1346.5C1004.5,1346.3 1006.9,1345.7 1007.8,1345.4C1008.7,1345.1 1009.2,1344.9 1009.9,1344.6C1010.6,1344.3 1010.3,1343.6 1011.8,1343.3C1013.4,1343.0 1017.3,1342.9 1019.1,1342.7C1021.0,1342.6 1021.5,1342.6 1023.1,1342.4C1024.7,1342.1 1027.6,1341.7 1029.0,1341.4C1030.3,1341.1 1028.6,1340.9 1031.1,1340.6C1033.6,1340.4 1041.0,1340.0 1044.0,1339.9C1047.1,1339.8 1047.2,1340.1 1049.4,1340.1C1051.6,1340.1 1054.5,1340.2 1057.2,1340.2C1060.0,1340.1 1063.0,1339.8 1065.8,1339.7C1068.7,1339.6 1072.2,1339.5 1074.2,1339.6C1076.1,1339.7 1075.5,1340.1 1077.5,1340.2C1079.4,1340.3 1084.3,1340.2 1086.1,1340.3C1087.8,1340.4 1086.6,1340.5 1088.1,1340.7C1089.5,1340.9 1092.7,1341.5 1094.9,1341.7C1097.1,1341.9 1100.4,1341.9 1101.1,1341.9C1101.9,1342.0 1099.1,1341.6 1099.5,1341.9C1099.9,1342.3 1103.2,1343.6 1103.4,1343.9C1103.6,1344.3 1102.3,1343.8 1100.8,1344.1C1099.3,1344.4 1095.3,1345.3 1094.5,1345.7C1093.6,1346.1 1095.4,1346.5 1095.4,1346.8C1095.5,1347.1 1095.9,1347.2 1094.7,1347.4C1093.5,1347.7 1090.8,1347.9 1088.4,1348.2C1086.0,1348.5 1082.4,1349.0 1080.5,1349.1C1078.5,1349.1 1078.7,1348.5 1076.8,1348.5C1074.9,1348.5 1071.5,1349.0 1069.2,1349.1C1067.0,1349.3 1064.2,1349.5 1063.2,1349.6 M1016.6,1354.2C1017.2,1354.1 1019.3,1354.1 1020.4,1354.0C1021.5,1353.9 1022.8,1353.8 1023.1,1353.7C1023.4,1353.6 1020.8,1353.4 1022.4,1353.2C1024.0,1353.0 1030.4,1352.7 1032.7,1352.6C1035.1,1352.5 1035.1,1352.6 1036.3,1352.6C1037.5,1352.5 1037.8,1352.3 1040.0,1352.3C1042.2,1352.2 1046.8,1352.0 1049.7,1352.1C1052.7,1352.1 1055.7,1352.4 1057.7,1352.4C1059.7,1352.3 1059.8,1351.8 1061.5,1351.7C1063.2,1351.6 1066.2,1351.8 1067.9,1351.8C1069.6,1351.8 1069.9,1351.8 1071.7,1351.9C1073.5,1351.9 1076.4,1351.9 1078.8,1351.9C1081.3,1352.0 1084.3,1352.2 1086.1,1352.3C1087.9,1352.3 1088.4,1352.2 1089.6,1352.2C1090.8,1352.3 1092.1,1352.5 1093.1,1352.5C1094.0,1352.6 1095.6,1352.5 1095.3,1352.6C1095.1,1352.8 1091.4,1353.2 1091.6,1353.3C1091.7,1353.4 1095.4,1353.3 1096.2,1353.3C1097.1,1353.4 1097.0,1353.6 1096.8,1353.7C1096.5,1353.9 1095.5,1354.2 1094.9,1354.4C1094.3,1354.5 1094.3,1354.4 1093.1,1354.5C1092.0,1354.6 1089.3,1354.7 1088.2,1354.8C1087.0,1354.9 1087.4,1355.0 1086.2,1355.1C1085.0,1355.2 1082.8,1355.2 1081.1,1355.2C1079.3,1355.3 1077.8,1355.4 1075.7,1355.5C1073.6,1355.6 1070.5,1355.6 1068.4,1355.8C1066.3,1355.9 1065.0,1356.2 1063.1,1356.3C1061.2,1356.3 1059.0,1356.0 1056.8,1356.0C1054.7,1356.1 1052.2,1356.4 1050.1,1356.4C1048.1,1356.5 1047.2,1356.4 1044.8,1356.4C1042.4,1356.3 1038.1,1356.2 1035.8,1356.2C1033.5,1356.2 1032.4,1356.1 1031.1,1356.1C1029.7,1356.1 1029.1,1356.1 1027.6,1356.0C1026.2,1356.0 1024.0,1356.0 1022.5,1356.0C1021.0,1355.9 1019.4,1355.7 1018.6,1355.6C1017.7,1355.4 1018.2,1355.2 1017.5,1355.1C1016.8,1355.0 1015.1,1354.9 1014.5,1354.8C1013.8,1354.8 1013.5,1354.8 1013.7,1354.7C1014.0,1354.7 1015.1,1354.6 1015.8,1354.4C1016.5,1354.3 1016.9,1353.9 1018.1,1353.8C1019.4,1353.7 1022.6,1353.9 1023.2,1353.9C1023.8,1353.8 1021.0,1353.4 1021.7,1353.3C1022.3,1353.1 1025.1,1353.2 1027.1,1353.1C1029.2,1353.0 1032.7,1352.7 1033.9,1352.7C1035.1,1352.7 1034.3,1353.0 1034.3,1353.0 M1070.2,1356.5C1069.8,1356.6 1069.0,1356.6 1067.6,1356.7C1066.1,1356.7 1063.4,1356.9 1061.3,1356.9C1059.2,1357.0 1057.3,1357.0 1055.0,1357.0C1052.6,1357.0 1049.8,1356.7 1047.2,1356.7C1044.6,1356.7 1042.5,1357.0 1039.3,1357.1C1036.1,1357.1 1031.1,1357.1 1027.9,1357.1C1024.8,1357.0 1022.6,1356.9 1020.6,1356.9C1018.5,1356.8 1017.2,1356.8 1015.7,1356.7C1014.2,1356.7 1013.1,1356.7 1011.5,1356.6C1009.9,1356.5 1008.7,1356.3 1006.2,1356.2C1003.7,1356.1 999.0,1356.0 996.7,1355.8C994.4,1355.6 993.5,1355.3 992.4,1355.1C991.2,1355.0 990.7,1354.9 989.9,1354.8C989.1,1354.7 988.0,1354.7 987.5,1354.6C987.0,1354.5 986.4,1354.2 986.6,1354.1C986.9,1354.0 987.7,1354.0 988.8,1353.9C990.0,1353.9 992.3,1353.8 993.4,1353.7C994.6,1353.6 995.2,1353.4 995.9,1353.2C996.7,1353.1 996.9,1352.9 997.9,1352.8C999.0,1352.7 1000.2,1353.0 1002.2,1352.9C1004.2,1352.9 1007.5,1352.6 1009.8,1352.6C1012.1,1352.6 1013.5,1352.8 1016.0,1352.8C1018.4,1352.8 1021.7,1352.7 1024.4,1352.7C1027.1,1352.6 1029.8,1352.7 1032.1,1352.6C1034.4,1352.5 1035.2,1352.3 1038.2,1352.2C1041.1,1352.2 1047.0,1352.5 1049.9,1352.6C1052.9,1352.7 1053.5,1352.9 1055.8,1352.9C1058.1,1353.0 1061.8,1353.0 1063.6,1353.1C1065.3,1353.1 1064.5,1353.0 1066.2,1353.1C1068.0,1353.2 1071.9,1353.5 1074.1,1353.7C1076.3,1353.8 1078.5,1353.9 1079.5,1354.0C1080.6,1354.0 1079.4,1354.1 1080.5,1354.2C1081.6,1354.3 1085.5,1354.3 1086.1,1354.5C1086.7,1354.6 1083.8,1355.0 1084.2,1355.1C1084.5,1355.3 1088.2,1355.4 1088.1,1355.4C1088.0,1355.5 1084.8,1355.4 1083.6,1355.5C1082.3,1355.6 1081.7,1355.7 1080.7,1355.8C1079.6,1356.0 1078.6,1356.2 1077.3,1356.4C1076.1,1356.6 1075.2,1356.7 1073.1,1356.8C1070.9,1356.8 1066.2,1356.4 1064.4,1356.5C1062.6,1356.5 1064.7,1357.0 1062.5,1357.1C1060.2,1357.2 1054.0,1357.0 1050.8,1357.0C1047.5,1357.0 1044.3,1357.0 1043.0,1357.0 M1064.1,1357.6C1063.3,1357.6 1061.2,1357.8 1059.4,1357.8C1057.6,1357.7 1056.2,1357.6 1053.2,1357.5C1050.1,1357.4 1043.8,1356.9 1041.1,1357.0C1038.5,1357.0 1039.1,1357.5 1037.0,1357.5C1034.8,1357.5 1031.6,1357.1 1028.2,1356.9C1024.8,1356.7 1019.1,1356.4 1016.6,1356.3C1014.2,1356.2 1014.5,1356.7 1013.6,1356.6C1012.7,1356.5 1012.6,1356.0 1011.3,1355.8C1010.1,1355.7 1007.6,1355.8 1006.3,1355.6C1005.0,1355.5 1004.6,1355.1 1003.5,1355.0C1002.5,1354.8 1000.2,1355.0 999.9,1354.9C999.6,1354.8 1000.7,1354.4 1001.7,1354.3C1002.7,1354.2 1005.8,1354.2 1005.9,1354.1C1006.0,1354.1 1001.9,1353.9 1002.2,1353.8C1002.5,1353.7 1005.8,1353.5 1007.8,1353.4C1009.8,1353.3 1012.8,1353.5 1014.1,1353.4C1015.4,1353.4 1014.3,1353.2 1015.8,1353.1C1017.4,1353.0 1020.9,1352.9 1023.3,1352.9C1025.7,1352.8 1028.2,1352.8 1030.3,1352.8C1032.4,1352.8 1033.9,1353.0 1035.8,1353.0C1037.6,1353.0 1039.1,1352.8 1041.5,1352.8C1043.9,1352.9 1047.2,1353.0 1050.0,1353.2C1052.9,1353.3 1055.3,1353.5 1058.7,1353.6C1062.1,1353.6 1067.9,1353.4 1070.6,1353.4C1073.3,1353.5 1073.3,1353.6 1075.1,1353.7C1076.9,1353.9 1078.9,1354.1 1081.4,1354.3C1083.9,1354.5 1087.8,1354.9 1090.2,1355.0C1092.7,1355.0 1095.1,1354.7 1095.9,1354.7C1096.7,1354.8 1094.8,1355.1 1095.2,1355.2C1095.6,1355.4 1097.2,1355.6 1098.3,1355.7C1099.4,1355.8 1101.5,1355.8 1101.8,1356.0C1102.0,1356.2 1099.7,1356.6 1099.6,1356.8C1099.5,1357.0 1101.7,1357.1 1101.2,1357.2C1100.7,1357.3 1097.1,1357.2 1096.5,1357.3C1095.9,1357.4 1099.0,1357.6 1097.7,1357.7C1096.3,1357.7 1090.8,1357.7 1088.4,1357.6C1085.9,1357.6 1084.6,1357.4 1082.9,1357.5C1081.2,1357.5 1080.2,1357.9 1078.1,1357.9C1076.1,1358.0 1073.0,1357.9 1070.8,1357.8C1068.6,1357.8 1067.3,1357.7 1065.0,1357.7C1062.6,1357.8 1059.4,1357.9 1056.8,1357.9C1054.1,1357.9 1050.5,1357.8 1049.3,1357.7 M1013.0,1354.8C1013.0,1354.7 1012.4,1354.4 1013.1,1354.3C1013.7,1354.2 1015.1,1354.2 1016.8,1354.0C1018.5,1353.9 1020.8,1353.7 1023.2,1353.6C1025.6,1353.5 1029.3,1353.7 1031.1,1353.6C1032.8,1353.5 1032.4,1353.2 1033.6,1353.1C1034.8,1352.9 1036.1,1352.8 1038.4,1352.8C1040.7,1352.8 1044.7,1352.9 1047.5,1352.8C1050.4,1352.8 1053.4,1352.7 1055.7,1352.6C1057.9,1352.6 1059.0,1352.5 1061.0,1352.5C1063.1,1352.6 1065.9,1352.6 1068.0,1352.7C1070.2,1352.7 1071.1,1352.7 1073.9,1352.8C1076.7,1353.0 1082.0,1353.3 1084.8,1353.4C1087.7,1353.5 1089.5,1353.3 1091.1,1353.4C1092.7,1353.4 1093.6,1353.7 1094.6,1353.7C1095.5,1353.8 1096.6,1353.8 1096.9,1353.8C1097.2,1353.9 1095.3,1354.0 1096.4,1354.0C1097.6,1354.1 1102.6,1354.0 1103.6,1354.1C1104.7,1354.2 1103.2,1354.6 1102.7,1354.8C1102.3,1355.0 1101.5,1355.2 1101.0,1355.3C1100.6,1355.4 1100.7,1355.4 1100.1,1355.4C1099.4,1355.5 1097.8,1355.5 1097.2,1355.7C1096.5,1355.8 1097.4,1356.2 1096.3,1356.4C1095.2,1356.5 1092.1,1356.4 1090.5,1356.5C1089.0,1356.6 1088.9,1357.0 1086.8,1357.2C1084.7,1357.3 1080.6,1357.2 1078.0,1357.2C1075.4,1357.3 1073.9,1357.2 1071.4,1357.2C1069.0,1357.3 1065.9,1357.4 1063.5,1357.5C1061.2,1357.6 1059.3,1357.9 1057.3,1357.9C1055.3,1357.9 1053.9,1357.7 1051.6,1357.6C1049.3,1357.5 1046.5,1357.5 1043.7,1357.5C1041.0,1357.4 1037.8,1357.2 1035.2,1357.1C1032.5,1357.0 1029.5,1357.0 1027.7,1357.0C1026.0,1357.0 1025.7,1357.0 1024.5,1356.9C1023.4,1356.9 1022.0,1357.0 1020.9,1356.9C1019.8,1356.8 1019.0,1356.5 1017.7,1356.3C1016.4,1356.2 1013.8,1356.1 1013.1,1356.0C1012.4,1355.8 1014.2,1355.6 1013.6,1355.5C1013.0,1355.3 1009.2,1355.3 1009.4,1355.2C1009.6,1355.2 1013.7,1355.3 1014.8,1355.1C1015.9,1354.9 1015.4,1354.2 1015.9,1354.1C1016.3,1353.9 1016.2,1354.2 1017.5,1354.2C1018.8,1354.2 1022.6,1354.1 1023.7,1354.1 M991.5,1352.6C991.4,1352.5 991.4,1352.6 991.4,1352.4C991.3,1352.3 991.4,1352.0 991.3,1351.9C991.2,1351.8 990.1,1351.9 990.8,1351.9C991.4,1351.8 994.8,1351.6 995.2,1351.5C995.6,1351.4 992.2,1351.3 993.1,1351.3C993.9,1351.2 998.7,1351.2 1000.4,1351.2C1002.1,1351.1 1002.2,1351.1 1003.3,1351.1C1004.4,1351.1 1005.6,1351.1 1007.1,1351.0C1008.5,1351.0 1009.6,1351.1 1011.9,1351.0C1014.2,1351.0 1018.2,1350.8 1020.9,1350.7C1023.6,1350.6 1025.8,1350.7 1028.3,1350.7C1030.7,1350.7 1033.3,1350.7 1035.8,1350.8C1038.2,1350.8 1040.1,1350.9 1043.1,1350.9C1046.1,1351.0 1050.8,1351.0 1053.8,1351.1C1056.7,1351.1 1058.6,1351.1 1060.9,1351.2C1063.3,1351.3 1066.2,1351.4 1068.0,1351.5C1069.7,1351.6 1069.8,1351.7 1071.6,1351.7C1073.5,1351.8 1076.9,1351.8 1078.9,1351.9C1080.9,1352.0 1082.7,1352.2 1083.7,1352.3C1084.6,1352.4 1083.6,1352.4 1084.8,1352.4C1085.9,1352.5 1089.5,1352.7 1090.7,1352.8C1091.9,1353.0 1092.5,1353.3 1092.1,1353.4C1091.6,1353.5 1088.5,1353.3 1087.8,1353.4C1087.2,1353.4 1088.2,1353.7 1088.2,1353.8C1088.1,1353.8 1088.0,1353.6 1087.4,1353.6C1086.8,1353.7 1086.4,1353.9 1084.7,1354.0C1082.9,1354.1 1079.1,1354.1 1077.1,1354.1C1075.1,1354.1 1074.5,1354.1 1072.4,1354.1C1070.4,1354.2 1067.4,1354.4 1064.7,1354.5C1062.1,1354.5 1058.4,1354.3 1056.4,1354.2C1054.3,1354.2 1054.6,1354.2 1052.3,1354.2C1050.1,1354.2 1045.8,1354.3 1042.6,1354.3C1039.4,1354.2 1036.2,1354.1 1033.3,1354.1C1030.5,1354.0 1027.7,1354.0 1025.6,1353.9C1023.5,1353.9 1022.6,1353.9 1020.6,1353.8C1018.6,1353.8 1015.6,1353.7 1013.6,1353.7C1011.6,1353.6 1010.5,1353.3 1008.5,1353.2C1006.5,1353.2 1003.7,1353.4 1001.8,1353.3C999.8,1353.2 998.0,1352.9 996.7,1352.8C995.4,1352.7 994.5,1352.6 993.9,1352.5C993.2,1352.4 993.4,1352.4 992.8,1352.3C992.3,1352.2 990.9,1352.1 990.5,1352.1 M1079.9,1353.4C1080.5,1353.5 1081.0,1353.6 1083.2,1353.7C1085.4,1353.7 1091.3,1353.8 1093.2,1353.8C1095.2,1353.8 1094.7,1353.6 1094.9,1353.7C1095.0,1353.7 1093.7,1353.9 1094.0,1354.0C1094.4,1354.1 1097.0,1354.2 1097.2,1354.4C1097.5,1354.5 1095.8,1354.6 1095.6,1354.7C1095.4,1354.8 1096.2,1355.0 1096.1,1355.1C1096.0,1355.2 1096.6,1355.2 1095.1,1355.3C1093.5,1355.3 1088.4,1355.6 1086.8,1355.6C1085.3,1355.6 1086.7,1355.4 1085.8,1355.5C1084.8,1355.5 1082.9,1355.7 1081.1,1355.8C1079.3,1356.0 1077.5,1356.1 1075.2,1356.2C1072.8,1356.3 1068.7,1356.4 1066.9,1356.4C1065.2,1356.4 1066.3,1356.2 1064.9,1356.2C1063.4,1356.2 1061.3,1356.3 1058.5,1356.4C1055.7,1356.5 1050.7,1356.7 1048.0,1356.7C1045.4,1356.7 1044.7,1356.4 1042.6,1356.4C1040.4,1356.3 1037.3,1356.7 1035.0,1356.7C1032.8,1356.7 1030.9,1356.5 1029.2,1356.5C1027.4,1356.4 1026.4,1356.5 1024.6,1356.4C1022.9,1356.4 1020.0,1356.2 1018.6,1356.2C1017.3,1356.2 1018.3,1356.3 1016.6,1356.3C1014.9,1356.2 1009.1,1356.1 1008.4,1356.0C1007.7,1355.9 1011.8,1355.7 1012.4,1355.6C1013.1,1355.4 1012.4,1355.3 1012.2,1355.2C1012.0,1355.2 1011.2,1355.5 1011.4,1355.4C1011.6,1355.3 1013.2,1354.7 1013.5,1354.6C1013.8,1354.4 1012.5,1354.6 1013.1,1354.6C1013.6,1354.6 1015.5,1354.6 1016.8,1354.6C1018.1,1354.6 1020.0,1354.5 1020.9,1354.4C1021.7,1354.3 1020.6,1354.0 1022.1,1353.9C1023.6,1353.8 1026.8,1353.9 1029.6,1353.9C1032.4,1353.8 1036.7,1353.5 1038.7,1353.5C1040.7,1353.4 1040.0,1353.6 1041.5,1353.6C1042.9,1353.6 1045.2,1353.5 1047.5,1353.5C1049.8,1353.4 1051.9,1353.3 1055.2,1353.3C1058.4,1353.3 1064.4,1353.2 1066.8,1353.2C1069.3,1353.2 1068.1,1353.1 1069.8,1353.2C1071.4,1353.2 1074.6,1353.5 1076.7,1353.5C1078.8,1353.5 1080.7,1353.2 1082.3,1353.3C1083.9,1353.3 1085.6,1353.7 1086.6,1353.8C1087.6,1353.9 1087.4,1353.7 1088.2,1353.7C1089.0,1353.8 1090.5,1353.8 1091.3,1353.9C1092.1,1353.9 1092.3,1353.9 1093.2,1354.0C1094.1,1354.1 1096.9,1354.3 1096.7,1354.4C1096.6,1354.5 1092.6,1354.5 1092.1,1354.6C1091.5,1354.6 1093.3,1354.7 1093.4,1354.8C1093.5,1354.9 1093.3,1355.1 1092.8,1355.1C1092.2,1355.2 1090.5,1355.2 1090.0,1355.3 M1004.7,1352.0C1005.2,1351.9 1005.9,1351.8 1007.9,1351.8C1009.9,1351.7 1015.2,1351.5 1016.7,1351.4C1018.1,1351.4 1015.3,1351.4 1016.5,1351.4C1017.7,1351.4 1021.0,1351.3 1023.8,1351.3C1026.6,1351.3 1031.0,1351.4 1033.5,1351.3C1036.0,1351.2 1036.3,1350.8 1038.7,1350.8C1041.1,1350.7 1045.4,1351.0 1047.9,1351.0C1050.5,1351.1 1052.4,1350.9 1054.1,1350.9C1055.7,1350.9 1056.5,1350.9 1057.7,1351.0C1058.9,1351.0 1059.4,1351.2 1061.2,1351.2C1063.0,1351.2 1066.4,1351.1 1068.7,1351.1C1071.0,1351.1 1073.2,1351.2 1075.0,1351.2C1076.8,1351.3 1077.9,1351.3 1079.6,1351.5C1081.2,1351.6 1084.3,1351.8 1085.1,1351.9C1085.8,1352.0 1084.3,1352.0 1084.1,1352.0C1083.9,1352.1 1084.5,1352.1 1083.9,1352.2C1083.2,1352.3 1080.8,1352.4 1080.3,1352.5C1079.8,1352.6 1080.9,1352.7 1080.8,1352.7C1080.7,1352.8 1081.0,1352.7 1079.9,1352.8C1078.8,1352.9 1075.7,1353.1 1074.2,1353.2C1072.8,1353.4 1071.7,1353.6 1071.3,1353.7C1070.8,1353.7 1072.9,1353.7 1071.4,1353.7C1070.0,1353.7 1065.0,1353.8 1062.3,1353.9C1059.7,1354.0 1057.7,1354.2 1055.5,1354.3C1053.2,1354.3 1051.0,1354.3 1048.7,1354.2C1046.5,1354.2 1043.8,1354.2 1041.8,1354.2C1039.8,1354.2 1038.6,1354.2 1036.8,1354.2C1034.9,1354.2 1033.2,1354.0 1030.9,1354.1C1028.5,1354.1 1025.5,1354.4 1022.9,1354.4C1020.3,1354.4 1016.9,1354.2 1015.4,1354.1C1013.9,1354.1 1015.4,1354.0 1013.8,1354.0C1012.2,1353.9 1007.3,1353.8 1005.7,1353.7C1004.1,1353.6 1005.0,1353.5 1004.2,1353.5C1003.3,1353.4 1001.6,1353.4 1000.5,1353.3C999.5,1353.3 998.1,1353.4 997.8,1353.3C997.5,1353.2 998.1,1352.9 998.6,1352.8C999.1,1352.7 1000.1,1352.8 1000.6,1352.7C1001.1,1352.7 1000.3,1352.7 1001.6,1352.5C1002.9,1352.4 1007.4,1352.3 1008.3,1352.1C1009.1,1351.9 1007.0,1351.7 1006.7,1351.6 M1025.6,1357.1C1024.5,1357.0 1021.1,1356.9 1019.1,1356.7C1017.2,1356.5 1015.2,1356.2 1013.9,1356.0C1012.6,1355.9 1013.4,1355.9 1011.4,1355.8C1009.4,1355.8 1003.4,1355.8 1002.1,1355.7C1000.8,1355.6 1003.3,1355.3 1003.5,1355.2C1003.8,1355.1 1003.1,1355.2 1003.6,1355.1C1004.0,1355.0 1005.8,1354.9 1006.2,1354.7C1006.6,1354.6 1004.8,1354.5 1006.0,1354.3C1007.1,1354.1 1011.6,1354.0 1013.0,1353.8C1014.4,1353.6 1013.2,1353.1 1014.5,1353.1C1015.8,1353.1 1018.6,1353.6 1020.9,1353.6C1023.2,1353.5 1025.6,1352.9 1028.2,1352.8C1030.8,1352.7 1033.6,1352.9 1036.3,1352.8C1039.0,1352.7 1042.4,1352.2 1044.1,1352.1C1045.9,1352.1 1044.5,1352.4 1046.9,1352.4C1049.3,1352.4 1055.9,1352.2 1058.5,1352.2C1061.1,1352.2 1059.4,1352.3 1062.5,1352.3C1065.6,1352.3 1073.4,1352.3 1077.4,1352.3C1081.3,1352.3 1084.4,1352.2 1086.1,1352.3C1087.9,1352.3 1086.3,1352.7 1087.8,1352.7C1089.4,1352.7 1094.4,1352.1 1095.7,1352.1C1096.9,1352.1 1094.5,1352.7 1095.4,1352.9C1096.4,1353.1 1099.3,1353.4 1101.6,1353.5C1103.8,1353.6 1107.9,1353.6 1108.7,1353.7C1109.6,1353.7 1106.4,1353.7 1106.4,1353.8C1106.5,1353.9 1108.8,1354.0 1109.0,1354.1C1109.3,1354.3 1108.4,1354.5 1107.9,1354.6C1107.3,1354.8 1107.3,1355.0 1105.9,1355.0C1104.4,1355.0 1101.3,1354.7 1099.3,1354.8C1097.2,1354.9 1094.7,1355.3 1093.5,1355.5C1092.4,1355.6 1093.9,1355.6 1092.2,1355.8C1090.5,1355.9 1085.4,1356.3 1083.2,1356.5C1080.9,1356.7 1080.8,1356.7 1078.7,1356.8C1076.6,1356.9 1073.6,1357.1 1070.6,1357.1C1067.5,1357.2 1063.8,1357.3 1060.5,1357.2C1057.2,1357.2 1053.1,1357.0 1050.7,1357.0C1048.4,1357.0 1047.0,1357.2 1046.3,1357.2  M1090,1345 C1120,1325 1165,1322 1166,1340 C1168,1356 1120,1357 1100,1352 M1100,1340 C1130,1330 1150,1332 1148,1340 C1146,1348 1110,1350 1090,1348" stroke="#ee4a6a" stroke-opacity="0.45" stroke-width="0.85" fill="none" clip-path="url(#ab)"/>
<rect x="549.1" y="1117.1" width="240.9" height="246.9" fill="none" stroke="#000" stroke-width="3.2"/>
<rect x="954.9" y="1117.1" width="240.6" height="246.9" fill="none" stroke="#000" stroke-width="3.2"/>
<line x1="548.60" y1="1240.80" x2="788.50" y2="1240.80" stroke="#000" stroke-width="2.4" stroke-dasharray="6.5,3.2"/>
<line x1="954.50" y1="1240.80" x2="1194.00" y2="1240.80" stroke="#000" stroke-width="2.4" stroke-dasharray="6.5,3.2"/>
<text x="205.30" y="404.70" font-size="20" font-weight="normal" fill="#000">0</text>
<text x="183.30" y="341.62" font-size="20" font-weight="normal" fill="#000">400</text>
<text x="183.30" y="278.54" font-size="20" font-weight="normal" fill="#000">800</text>
<text x="172.30" y="215.46" font-size="20" font-weight="normal" fill="#000">1200</text>
<text x="172.30" y="152.38" font-size="20" font-weight="normal" fill="#000">1600</text>
<text x="172.30" y="89.30" font-size="20" font-weight="normal" fill="#000">2000</text>
<text x="262.75" y="430.10" font-size="20" font-weight="normal" textLength="67.40" lengthAdjust="spacingAndGlyphs" fill="#000">Control</text>
<text x="396.50" y="430.10" font-size="20" font-weight="normal" textLength="35.54" lengthAdjust="spacingAndGlyphs" fill="#000">ACR</text>
<text x="251.00" y="25.50" font-size="22" font-weight="bold" textLength="147.50" lengthAdjust="spacingAndGlyphs" fill="#000">Total distance</text>
<text x="299.64" y="55.80" font-size="22" font-weight="bold" textLength="49.20" lengthAdjust="spacingAndGlyphs" fill="#000">(cm)</text>
<text x="634.70" y="414.50" font-size="20" font-weight="normal" fill="#000">0</text>
<text x="612.70" y="348.78" font-size="20" font-weight="normal" fill="#000">200</text>
<text x="612.70" y="283.06" font-size="20" font-weight="normal" fill="#000">400</text>
<text x="612.70" y="217.34" font-size="20" font-weight="normal" fill="#000">600</text>
<text x="612.70" y="151.62" font-size="20" font-weight="normal" fill="#000">800</text>
<text x="601.70" y="85.90" font-size="20" font-weight="normal" fill="#000">1000</text>
<text x="709.85" y="439.60" font-size="20" font-weight="normal" textLength="68.11" lengthAdjust="spacingAndGlyphs" fill="#000">Bottom</text>
<text x="883.80" y="439.60" font-size="20" font-weight="normal" textLength="32.67" lengthAdjust="spacingAndGlyphs" fill="#000">Top</text>
<text x="773.96" y="20.80" font-size="22" font-weight="bold" textLength="156.99" lengthAdjust="spacingAndGlyphs" fill="#000">Distance (cm):</text>
<text x="773.57" y="51.20" font-size="22" font-weight="bold" textLength="157.20" lengthAdjust="spacingAndGlyphs" fill="#000">Bottom vs Top</text>
<text x="1028.97" y="245.50" font-size="20" font-weight="normal" textLength="66.25" lengthAdjust="spacingAndGlyphs" fill="#000">Control</text>
<text x="1030.00" y="282.30" font-size="20" font-weight="normal" textLength="35.23" lengthAdjust="spacingAndGlyphs" fill="#000">ACR</text>
<text x="48.50" y="938.40" font-size="20" font-weight="normal" fill="#000">0</text>
<text x="37.50" y="881.25" font-size="20" font-weight="normal" fill="#000">50</text>
<text x="26.50" y="824.10" font-size="20" font-weight="normal" fill="#000">100</text>
<text x="26.50" y="766.95" font-size="20" font-weight="normal" fill="#000">150</text>
<text x="26.50" y="709.80" font-size="20" font-weight="normal" fill="#000">200</text>
<text x="26.50" y="652.65" font-size="20" font-weight="normal" fill="#000">250</text>
<text x="26.50" y="595.50" font-size="20" font-weight="normal" fill="#000">300</text>
<text x="110.84" y="963.80" font-size="20" font-weight="normal" textLength="68.12" lengthAdjust="spacingAndGlyphs" fill="#000">Control</text>
<text x="254.40" y="963.80" font-size="20" font-weight="normal" textLength="35.44" lengthAdjust="spacingAndGlyphs" fill="#000">ACR</text>
<text x="104.09" y="536.30" font-size="22" font-weight="bold" textLength="185.17" lengthAdjust="spacingAndGlyphs" fill="#000">Latency to top (s)</text>
<text x="460.30" y="938.40" font-size="20" font-weight="normal" fill="#000">0</text>
<text x="461.30" y="869.98" font-size="20" font-weight="normal" fill="#000">5</text>
<text x="449.30" y="801.56" font-size="20" font-weight="normal" fill="#000">10</text>
<text x="450.30" y="733.14" font-size="20" font-weight="normal" fill="#000">15</text>
<text x="449.30" y="664.72" font-size="20" font-weight="normal" fill="#000">20</text>
<text x="450.30" y="596.30" font-size="20" font-weight="normal" fill="#000">25</text>
<text x="528.15" y="965.20" font-size="20" font-weight="normal" textLength="67.50" lengthAdjust="spacingAndGlyphs" fill="#000">Control</text>
<text x="680.60" y="965.20" font-size="20" font-weight="normal" textLength="36.05" lengthAdjust="spacingAndGlyphs" fill="#000">ACR</text>
<text x="518.30" y="542.30" font-size="22" font-weight="bold" textLength="191.58" lengthAdjust="spacingAndGlyphs" fill="#000">Transitions to top</text>
<text x="893.60" y="938.40" font-size="20" font-weight="normal" fill="#000">0</text>
<text x="882.60" y="869.06" font-size="20" font-weight="normal" fill="#000">40</text>
<text x="882.60" y="799.72" font-size="20" font-weight="normal" fill="#000">80</text>
<text x="871.60" y="730.38" font-size="20" font-weight="normal" fill="#000">120</text>
<text x="871.60" y="661.04" font-size="20" font-weight="normal" fill="#000">160</text>
<text x="871.60" y="591.70" font-size="20" font-weight="normal" fill="#000">200</text>
<text x="959.46" y="965.20" font-size="20" font-weight="normal" textLength="66.77" lengthAdjust="spacingAndGlyphs" fill="#000">Control</text>
<text x="1107.90" y="965.20" font-size="20" font-weight="normal" textLength="36.05" lengthAdjust="spacingAndGlyphs" fill="#000">ACR</text>
<text x="953.70" y="533.30" font-size="22" font-weight="bold" textLength="193.47" lengthAdjust="spacingAndGlyphs" fill="#000">Time (s) in the top</text>
<text x="54.70" y="2269.80" font-size="20" font-weight="normal" fill="#000">0</text>
<text x="43.70" y="2202.65" font-size="20" font-weight="normal" fill="#000">50</text>
<text x="32.70" y="2135.50" font-size="20" font-weight="normal" fill="#000">100</text>
<text x="32.70" y="2068.35" font-size="20" font-weight="normal" fill="#000">150</text>
<text x="32.70" y="2001.20" font-size="20" font-weight="normal" fill="#000">200</text>
<text x="118.56" y="2295.50" font-size="20" font-weight="normal" textLength="66.77" lengthAdjust="spacingAndGlyphs" fill="#000">Control</text>
<text x="264.50" y="2295.50" font-size="20" font-weight="normal" textLength="36.16" lengthAdjust="spacingAndGlyphs" fill="#000">ACR</text>
<text x="118.54" y="1880.20" font-size="22" font-weight="bold" textLength="149.44" lengthAdjust="spacingAndGlyphs" fill="#000">High-mobility</text>
<text x="129.14" y="1909.60" font-size="22" font-weight="bold" textLength="127.71" lengthAdjust="spacingAndGlyphs" fill="#000">duration (s)</text>
<text x="507.60" y="2269.80" font-size="20" font-weight="normal" fill="#000">0</text>
<text x="496.60" y="2202.65" font-size="20" font-weight="normal" fill="#000">50</text>
<text x="485.60" y="2135.50" font-size="20" font-weight="normal" fill="#000">100</text>
<text x="485.60" y="2068.35" font-size="20" font-weight="normal" fill="#000">150</text>
<text x="485.60" y="2001.20" font-size="20" font-weight="normal" fill="#000">200</text>
<text x="571.36" y="2295.50" font-size="20" font-weight="normal" textLength="66.88" lengthAdjust="spacingAndGlyphs" fill="#000">Control</text>
<text x="716.50" y="2295.50" font-size="20" font-weight="normal" textLength="36.47" lengthAdjust="spacingAndGlyphs" fill="#000">ACR</text>
<text x="549.71" y="1880.20" font-size="22" font-weight="bold" textLength="193.40" lengthAdjust="spacingAndGlyphs" fill="#000">Mobility duration</text>
<text x="632.51" y="1909.60" font-size="22" font-weight="bold" textLength="26.68" lengthAdjust="spacingAndGlyphs" fill="#000">(s)</text>
<text x="970.90" y="2269.80" font-size="20" font-weight="normal" fill="#000">0</text>
<text x="959.90" y="2202.65" font-size="20" font-weight="normal" fill="#000">50</text>
<text x="948.90" y="2135.50" font-size="20" font-weight="normal" fill="#000">100</text>
<text x="948.90" y="2068.35" font-size="20" font-weight="normal" fill="#000">150</text>
<text x="948.90" y="2001.20" font-size="20" font-weight="normal" fill="#000">200</text>
<text x="1034.75" y="2295.50" font-size="20" font-weight="normal" textLength="67.71" lengthAdjust="spacingAndGlyphs" fill="#000">Control</text>
<text x="1180.70" y="2295.50" font-size="20" font-weight="normal" textLength="37.08" lengthAdjust="spacingAndGlyphs" fill="#000">ACR</text>
<text x="998.13" y="1880.20" font-size="22" font-weight="bold" textLength="225.70" lengthAdjust="spacingAndGlyphs" fill="#000">Immobility  duration</text>
<text x="1096.81" y="1909.60" font-size="22" font-weight="bold" textLength="26.57" lengthAdjust="spacingAndGlyphs" fill="#000">(s)</text>
<text x="23.00" y="1729.40" font-size="20" font-weight="normal" fill="#000">0</text>
<text x="12.00" y="1671.33" font-size="20" font-weight="normal" fill="#000">50</text>
<text x="1.00" y="1613.26" font-size="20" font-weight="normal" fill="#000">100</text>
<text x="1.00" y="1555.19" font-size="20" font-weight="normal" fill="#000">150</text>
<text x="1.00" y="1497.12" font-size="20" font-weight="normal" fill="#000">200</text>
<text x="50.30" y="1757.00" font-size="20" font-weight="normal" fill="#000">0</text>
<text x="125.45" y="1757.00" font-size="20" font-weight="normal" fill="#000">1</text>
<text x="200.10" y="1757.00" font-size="20" font-weight="normal" fill="#000">2</text>
<text x="274.75" y="1757.00" font-size="20" font-weight="normal" fill="#000">3</text>
<text x="349.40" y="1757.00" font-size="20" font-weight="normal" fill="#000">4</text>
<text x="424.05" y="1757.00" font-size="20" font-weight="normal" fill="#000">5</text>
<text x="498.70" y="1757.00" font-size="20" font-weight="normal" fill="#000">6</text>
<text x="245.40" y="1800.30" font-size="20" font-weight="normal" textLength="96.43" lengthAdjust="spacingAndGlyphs" fill="#000">Time (min)</text>
<text x="189.15" y="1467.40" font-size="22" font-weight="bold" textLength="219.75" lengthAdjust="spacingAndGlyphs" fill="#000">Distance in top (cm)</text>
<text x="660.80" y="1729.50" font-size="20" font-weight="normal" fill="#000">0</text>
<text x="649.80" y="1652.00" font-size="20" font-weight="normal" fill="#000">20</text>
<text x="649.80" y="1574.50" font-size="20" font-weight="normal" fill="#000">40</text>
<text x="649.80" y="1497.00" font-size="20" font-weight="normal" fill="#000">60</text>
<text x="687.30" y="1757.00" font-size="20" font-weight="normal" fill="#000">0</text>
<text x="764.35" y="1757.00" font-size="20" font-weight="normal" fill="#000">1</text>
<text x="840.90" y="1757.00" font-size="20" font-weight="normal" fill="#000">2</text>
<text x="917.45" y="1757.00" font-size="20" font-weight="normal" fill="#000">3</text>
<text x="994.00" y="1757.00" font-size="20" font-weight="normal" fill="#000">4</text>
<text x="1070.55" y="1757.00" font-size="20" font-weight="normal" fill="#000">5</text>
<text x="1147.10" y="1757.00" font-size="20" font-weight="normal" fill="#000">6</text>
<text x="903.80" y="1796.70" font-size="20" font-weight="normal" textLength="95.52" lengthAdjust="spacingAndGlyphs" fill="#000">Time (min)</text>
<text x="856.20" y="1467.10" font-size="22" font-weight="bold" textLength="156.48" lengthAdjust="spacingAndGlyphs" fill="#000">Time in top (s)</text>
<text x="1250.95" y="1610.20" font-size="20" font-weight="normal" textLength="67.40" lengthAdjust="spacingAndGlyphs" fill="#000">Control</text>
<text x="1252.00" y="1646.40" font-size="20" font-weight="normal" textLength="35.95" lengthAdjust="spacingAndGlyphs" fill="#000">ACR</text>
<text x="185.00" y="1176.30" font-size="21" font-weight="bold" textLength="37.45" lengthAdjust="spacingAndGlyphs" fill="#000">Top</text>
<text x="174.76" y="1309.50" font-size="21" font-weight="bold" textLength="76.28" lengthAdjust="spacingAndGlyphs" fill="#000">Bottom</text>
<text x="617.09" y="1102.30" font-size="22" font-weight="bold" textLength="79.23" lengthAdjust="spacingAndGlyphs" fill="#000">Control</text>
<text x="996.47" y="1102.30" font-size="22" font-weight="bold" textLength="144.44" lengthAdjust="spacingAndGlyphs" fill="#000">0.75 mM ACR</text>
</svg>
</body></html>
